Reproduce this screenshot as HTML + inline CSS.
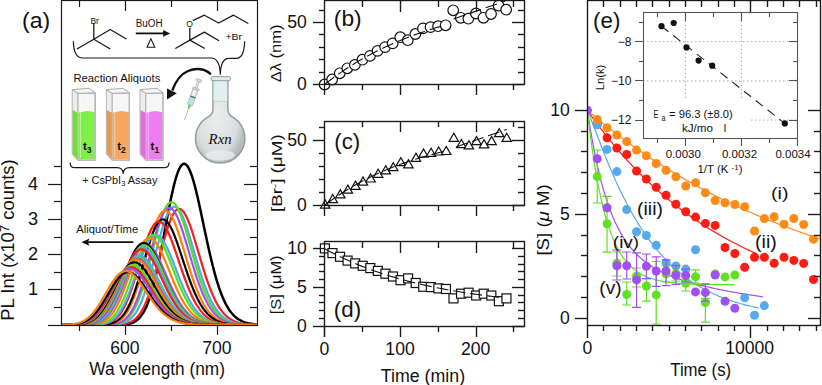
<!DOCTYPE html>
<html><head><meta charset="utf-8"><style>
html,body{margin:0;padding:0;background:#fff;width:822px;height:385px;overflow:hidden}
svg{display:block}
</style></head><body>
<svg width="822" height="385" viewBox="0 0 822 385">
<rect width="822" height="385" fill="#fff"/>
<clipPath id="ca"><rect x="61" y="0" width="196" height="325.6"/></clipPath>
<g clip-path="url(#ca)">
<path d="M55.00,325.00 L56.00,325.00 L57.00,325.00 L58.00,325.00 L59.00,325.00 L60.00,325.00 L61.00,325.00 L62.00,325.00 L63.00,325.00 L64.00,325.00 L65.00,325.00 L66.00,325.00 L67.00,325.00 L68.00,325.00 L69.00,325.00 L70.00,325.00 L71.00,325.00 L72.00,325.00 L73.00,325.00 L74.00,325.00 L75.00,325.00 L76.00,325.00 L77.00,325.00 L78.00,325.00 L79.00,325.00 L80.00,325.00 L81.00,325.00 L82.00,325.00 L83.00,325.00 L84.00,325.00 L85.00,325.00 L86.00,325.00 L87.00,325.00 L88.00,325.00 L89.00,325.00 L90.00,325.00 L91.00,325.00 L92.00,325.00 L93.00,325.00 L94.00,325.00 L95.00,325.00 L96.00,325.00 L97.00,325.00 L98.00,325.00 L99.00,325.00 L100.00,325.00 L101.00,325.00 L102.00,325.00 L103.00,325.00 L104.00,325.00 L105.00,325.00 L106.00,325.00 L107.00,325.00 L108.00,324.99 L109.00,324.99 L110.00,324.99 L111.00,324.98 L112.00,324.98 L113.00,324.97 L114.00,324.96 L115.00,324.95 L116.00,324.94 L117.00,324.92 L118.00,324.90 L119.00,324.87 L120.00,324.83 L121.00,324.79 L122.00,324.73 L123.00,324.67 L124.00,324.58 L125.00,324.48 L126.00,324.36 L127.00,324.21 L128.00,324.04 L129.00,323.82 L130.00,323.57 L131.00,323.27 L132.00,322.92 L133.00,322.51 L134.00,322.04 L135.00,321.48 L136.00,320.84 L137.00,320.11 L138.00,319.26 L139.00,318.31 L140.00,317.22 L141.00,316.00 L142.00,314.63 L143.00,313.09 L144.00,311.39 L145.00,309.50 L146.00,307.42 L147.00,305.13 L148.00,302.64 L149.00,299.93 L150.00,297.00 L151.00,293.85 L152.00,290.46 L153.00,286.85 L154.00,283.02 L155.00,278.96 L156.00,274.70 L157.00,270.23 L158.00,265.58 L159.00,260.75 L160.00,255.77 L161.00,250.65 L162.00,245.43 L163.00,240.12 L164.00,234.75 L165.00,229.36 L166.00,223.98 L167.00,218.63 L168.00,213.36 L169.00,208.19 L170.00,203.16 L171.00,198.31 L172.00,193.66 L173.00,189.25 L174.00,185.12 L175.00,181.28 L176.00,177.77 L177.00,174.62 L178.00,171.83 L179.00,169.44 L180.00,167.46 L181.00,165.90 L182.00,164.76 L183.00,164.06 L184.00,163.79 L185.00,163.95 L186.00,164.54 L187.00,165.55 L188.00,166.96 L189.00,168.77 L190.00,170.95 L191.00,173.48 L192.00,176.35 L193.00,179.52 L194.00,182.97 L195.00,186.68 L196.00,190.61 L197.00,194.75 L198.00,199.05 L199.00,203.50 L200.00,208.06 L201.00,212.71 L202.00,217.41 L203.00,222.16 L204.00,226.91 L205.00,231.65 L206.00,236.35 L207.00,241.00 L208.00,245.57 L209.00,250.05 L210.00,254.43 L211.00,258.69 L212.00,262.83 L213.00,266.82 L214.00,270.67 L215.00,274.36 L216.00,277.90 L217.00,281.27 L218.00,284.48 L219.00,287.53 L220.00,290.41 L221.00,293.14 L222.00,295.70 L223.00,298.10 L224.00,300.36 L225.00,302.46 L226.00,304.43 L227.00,306.25 L228.00,307.94 L229.00,309.51 L230.00,310.96 L231.00,312.29 L232.00,313.52 L233.00,314.64 L234.00,315.67 L235.00,316.62 L236.00,317.48 L237.00,318.26 L238.00,318.97 L239.00,319.61 L240.00,320.19 L241.00,320.72 L242.00,321.19 L243.00,321.62 L244.00,322.00 L245.00,322.35 L246.00,322.66 L247.00,322.93 L248.00,323.18 L249.00,323.40 L250.00,323.59 L251.00,323.76 L252.00,323.92 L253.00,324.05 L254.00,324.17 L255.00,324.28 L256.00,324.37 L257.00,324.45 L258.00,324.52 L259.00,324.59 L260.00,324.64 L261.00,324.69" fill="none" stroke="#000000" stroke-width="2.5" stroke-linejoin="round"/>
<path d="M55.00,325.00 L56.00,325.00 L57.00,325.00 L58.00,325.00 L59.00,325.00 L60.00,325.00 L61.00,325.00 L62.00,325.00 L63.00,325.00 L64.00,325.00 L65.00,325.00 L66.00,325.00 L67.00,325.00 L68.00,325.00 L69.00,325.00 L70.00,325.00 L71.00,325.00 L72.00,325.00 L73.00,325.00 L74.00,325.00 L75.00,325.00 L76.00,325.00 L77.00,325.00 L78.00,325.00 L79.00,325.00 L80.00,325.00 L81.00,325.00 L82.00,325.00 L83.00,325.00 L84.00,325.00 L85.00,325.00 L86.00,325.00 L87.00,325.00 L88.00,325.00 L89.00,325.00 L90.00,325.00 L91.00,325.00 L92.00,325.00 L93.00,325.00 L94.00,325.00 L95.00,325.00 L96.00,325.00 L97.00,325.00 L98.00,325.00 L99.00,325.00 L100.00,325.00 L101.00,325.00 L102.00,325.00 L103.00,325.00 L104.00,324.99 L105.00,324.99 L106.00,324.99 L107.00,324.98 L108.00,324.98 L109.00,324.97 L110.00,324.96 L111.00,324.95 L112.00,324.94 L113.00,324.92 L114.00,324.90 L115.00,324.87 L116.00,324.84 L117.00,324.80 L118.00,324.75 L119.00,324.69 L120.00,324.61 L121.00,324.52 L122.00,324.41 L123.00,324.28 L124.00,324.12 L125.00,323.93 L126.00,323.71 L127.00,323.45 L128.00,323.15 L129.00,322.80 L130.00,322.39 L131.00,321.92 L132.00,321.37 L133.00,320.75 L134.00,320.05 L135.00,319.25 L136.00,318.36 L137.00,317.35 L138.00,316.23 L139.00,314.98 L140.00,313.60 L141.00,312.08 L142.00,310.42 L143.00,308.60 L144.00,306.63 L145.00,304.49 L146.00,302.20 L147.00,299.74 L148.00,297.12 L149.00,294.34 L150.00,291.41 L151.00,288.32 L152.00,285.09 L153.00,281.73 L154.00,278.24 L155.00,274.65 L156.00,270.96 L157.00,267.19 L158.00,263.37 L159.00,259.51 L160.00,255.64 L161.00,251.77 L162.00,247.93 L163.00,244.15 L164.00,240.45 L165.00,236.85 L166.00,233.37 L167.00,230.05 L168.00,226.90 L169.00,223.95 L170.00,221.21 L171.00,218.72 L172.00,216.47 L173.00,214.49 L174.00,212.80 L175.00,211.40 L176.00,210.29 L177.00,209.50 L178.00,209.01 L179.00,208.84 L180.00,208.98 L181.00,209.42 L182.00,210.16 L183.00,211.19 L184.00,212.49 L185.00,214.07 L186.00,215.90 L187.00,217.96 L188.00,220.24 L189.00,222.73 L190.00,225.39 L191.00,228.22 L192.00,231.19 L193.00,234.28 L194.00,237.48 L195.00,240.75 L196.00,244.08 L197.00,247.46 L198.00,250.87 L199.00,254.28 L200.00,257.68 L201.00,261.05 L202.00,264.39 L203.00,267.67 L204.00,270.89 L205.00,274.03 L206.00,277.09 L207.00,280.06 L208.00,282.93 L209.00,285.70 L210.00,288.35 L211.00,290.90 L212.00,293.33 L213.00,295.64 L214.00,297.83 L215.00,299.91 L216.00,301.87 L217.00,303.72 L218.00,305.46 L219.00,307.08 L220.00,308.60 L221.00,310.02 L222.00,311.34 L223.00,312.57 L224.00,313.70 L225.00,314.75 L226.00,315.72 L227.00,316.61 L228.00,317.42 L229.00,318.17 L230.00,318.86 L231.00,319.48 L232.00,320.05 L233.00,320.57 L234.00,321.04 L235.00,321.46 L236.00,321.85 L237.00,322.19 L238.00,322.51 L239.00,322.79 L240.00,323.04 L241.00,323.27 L242.00,323.47 L243.00,323.65 L244.00,323.81 L245.00,323.95 L246.00,324.08 L247.00,324.19 L248.00,324.29 L249.00,324.38 L250.00,324.46 L251.00,324.53 L252.00,324.59 L253.00,324.64 L254.00,324.69 L255.00,324.73 L256.00,324.77 L257.00,324.80 L258.00,324.82 L259.00,324.85 L260.00,324.87 L261.00,324.89" fill="none" stroke="#ff1a1a" stroke-width="2.2" stroke-linejoin="round"/>
<path d="M55.00,325.00 L56.00,325.00 L57.00,325.00 L58.00,325.00 L59.00,325.00 L60.00,325.00 L61.00,325.00 L62.00,325.00 L63.00,325.00 L64.00,325.00 L65.00,325.00 L66.00,325.00 L67.00,325.00 L68.00,325.00 L69.00,325.00 L70.00,325.00 L71.00,325.00 L72.00,325.00 L73.00,325.00 L74.00,325.00 L75.00,325.00 L76.00,325.00 L77.00,325.00 L78.00,325.00 L79.00,325.00 L80.00,325.00 L81.00,325.00 L82.00,325.00 L83.00,325.00 L84.00,325.00 L85.00,325.00 L86.00,325.00 L87.00,325.00 L88.00,325.00 L89.00,325.00 L90.00,325.00 L91.00,325.00 L92.00,325.00 L93.00,325.00 L94.00,325.00 L95.00,325.00 L96.00,325.00 L97.00,325.00 L98.00,325.00 L99.00,324.99 L100.00,324.99 L101.00,324.99 L102.00,324.99 L103.00,324.98 L104.00,324.97 L105.00,324.97 L106.00,324.96 L107.00,324.94 L108.00,324.93 L109.00,324.91 L110.00,324.88 L111.00,324.85 L112.00,324.81 L113.00,324.76 L114.00,324.70 L115.00,324.63 L116.00,324.54 L117.00,324.43 L118.00,324.31 L119.00,324.15 L120.00,323.97 L121.00,323.76 L122.00,323.51 L123.00,323.21 L124.00,322.87 L125.00,322.47 L126.00,322.01 L127.00,321.48 L128.00,320.87 L129.00,320.19 L130.00,319.40 L131.00,318.52 L132.00,317.54 L133.00,316.43 L134.00,315.20 L135.00,313.84 L136.00,312.34 L137.00,310.70 L138.00,308.90 L139.00,306.94 L140.00,304.83 L141.00,302.55 L142.00,300.11 L143.00,297.50 L144.00,294.72 L145.00,291.79 L146.00,288.70 L147.00,285.47 L148.00,282.09 L149.00,278.59 L150.00,274.98 L151.00,271.26 L152.00,267.46 L153.00,263.60 L154.00,259.69 L155.00,255.75 L156.00,251.82 L157.00,247.91 L158.00,244.04 L159.00,240.25 L160.00,236.55 L161.00,232.97 L162.00,229.54 L163.00,226.27 L164.00,223.20 L165.00,220.34 L166.00,217.71 L167.00,215.33 L168.00,213.22 L169.00,211.39 L170.00,209.85 L171.00,208.61 L172.00,207.68 L173.00,207.06 L174.00,206.76 L175.00,206.77 L176.00,207.10 L177.00,207.73 L178.00,208.65 L179.00,209.86 L180.00,211.35 L181.00,213.10 L182.00,215.10 L183.00,217.32 L184.00,219.76 L185.00,222.38 L186.00,225.19 L187.00,228.14 L188.00,231.22 L189.00,234.42 L190.00,237.71 L191.00,241.06 L192.00,244.47 L193.00,247.92 L194.00,251.37 L195.00,254.83 L196.00,258.27 L197.00,261.67 L198.00,265.03 L199.00,268.33 L200.00,271.55 L201.00,274.70 L202.00,277.76 L203.00,280.72 L204.00,283.58 L205.00,286.33 L206.00,288.97 L207.00,291.49 L208.00,293.89 L209.00,296.18 L210.00,298.35 L211.00,300.40 L212.00,302.34 L213.00,304.16 L214.00,305.87 L215.00,307.47 L216.00,308.96 L217.00,310.35 L218.00,311.65 L219.00,312.85 L220.00,313.96 L221.00,314.99 L222.00,315.93 L223.00,316.81 L224.00,317.60 L225.00,318.34 L226.00,319.00 L227.00,319.62 L228.00,320.17 L229.00,320.68 L230.00,321.13 L231.00,321.55 L232.00,321.92 L233.00,322.26 L234.00,322.57 L235.00,322.84 L236.00,323.09 L237.00,323.31 L238.00,323.50 L239.00,323.68 L240.00,323.84 L241.00,323.98 L242.00,324.10 L243.00,324.21 L244.00,324.31 L245.00,324.39 L246.00,324.47 L247.00,324.54 L248.00,324.60 L249.00,324.65 L250.00,324.69 L251.00,324.73 L252.00,324.77 L253.00,324.80 L254.00,324.83 L255.00,324.85 L256.00,324.87 L257.00,324.89 L258.00,324.90 L259.00,324.92 L260.00,324.93 L261.00,324.94" fill="none" stroke="#50a8f0" stroke-width="2.2" stroke-linejoin="round"/>
<path d="M55.00,325.00 L56.00,325.00 L57.00,325.00 L58.00,325.00 L59.00,325.00 L60.00,325.00 L61.00,325.00 L62.00,325.00 L63.00,325.00 L64.00,325.00 L65.00,325.00 L66.00,325.00 L67.00,325.00 L68.00,325.00 L69.00,325.00 L70.00,325.00 L71.00,325.00 L72.00,325.00 L73.00,325.00 L74.00,325.00 L75.00,325.00 L76.00,325.00 L77.00,325.00 L78.00,325.00 L79.00,325.00 L80.00,325.00 L81.00,325.00 L82.00,325.00 L83.00,325.00 L84.00,325.00 L85.00,325.00 L86.00,325.00 L87.00,325.00 L88.00,325.00 L89.00,325.00 L90.00,325.00 L91.00,325.00 L92.00,325.00 L93.00,325.00 L94.00,325.00 L95.00,325.00 L96.00,324.99 L97.00,324.99 L98.00,324.99 L99.00,324.98 L100.00,324.98 L101.00,324.97 L102.00,324.96 L103.00,324.95 L104.00,324.94 L105.00,324.92 L106.00,324.90 L107.00,324.87 L108.00,324.84 L109.00,324.80 L110.00,324.75 L111.00,324.68 L112.00,324.60 L113.00,324.51 L114.00,324.40 L115.00,324.26 L116.00,324.10 L117.00,323.91 L118.00,323.69 L119.00,323.42 L120.00,323.11 L121.00,322.75 L122.00,322.32 L123.00,321.84 L124.00,321.28 L125.00,320.65 L126.00,319.92 L127.00,319.10 L128.00,318.18 L129.00,317.14 L130.00,315.98 L131.00,314.69 L132.00,313.27 L133.00,311.70 L134.00,309.97 L135.00,308.09 L136.00,306.05 L137.00,303.84 L138.00,301.46 L139.00,298.91 L140.00,296.19 L141.00,293.30 L142.00,290.24 L143.00,287.03 L144.00,283.66 L145.00,280.15 L146.00,276.50 L147.00,272.74 L148.00,268.88 L149.00,264.94 L150.00,260.92 L151.00,256.87 L152.00,252.79 L153.00,248.71 L154.00,244.65 L155.00,240.65 L156.00,236.72 L157.00,232.89 L158.00,229.19 L159.00,225.64 L160.00,222.27 L161.00,219.09 L162.00,216.14 L163.00,213.42 L164.00,210.97 L165.00,208.79 L166.00,206.91 L167.00,205.33 L168.00,204.06 L169.00,203.11 L170.00,202.48 L171.00,202.18 L172.00,202.21 L173.00,202.55 L174.00,203.21 L175.00,204.18 L176.00,205.45 L177.00,207.00 L178.00,208.82 L179.00,210.89 L180.00,213.20 L181.00,215.73 L182.00,218.45 L183.00,221.36 L184.00,224.42 L185.00,227.62 L186.00,230.93 L187.00,234.34 L188.00,237.82 L189.00,241.35 L190.00,244.92 L191.00,248.50 L192.00,252.08 L193.00,255.64 L194.00,259.17 L195.00,262.65 L196.00,266.07 L197.00,269.41 L198.00,272.68 L199.00,275.85 L200.00,278.92 L201.00,281.88 L202.00,284.73 L203.00,287.47 L204.00,290.09 L205.00,292.58 L206.00,294.96 L207.00,297.21 L208.00,299.34 L209.00,301.35 L210.00,303.24 L211.00,305.02 L212.00,306.68 L213.00,308.24 L214.00,309.69 L215.00,311.04 L216.00,312.29 L217.00,313.45 L218.00,314.52 L219.00,315.50 L220.00,316.41 L221.00,317.25 L222.00,318.01 L223.00,318.71 L224.00,319.35 L225.00,319.93 L226.00,320.45 L227.00,320.93 L228.00,321.37 L229.00,321.76 L230.00,322.12 L231.00,322.44 L232.00,322.72 L233.00,322.98 L234.00,323.21 L235.00,323.42 L236.00,323.60 L237.00,323.77 L238.00,323.92 L239.00,324.05 L240.00,324.16 L241.00,324.27 L242.00,324.36 L243.00,324.44 L244.00,324.51 L245.00,324.57 L246.00,324.63 L247.00,324.67 L248.00,324.72 L249.00,324.75 L250.00,324.79 L251.00,324.82 L252.00,324.84 L253.00,324.86 L254.00,324.88 L255.00,324.90 L256.00,324.91 L257.00,324.92 L258.00,324.93 L259.00,324.94 L260.00,324.95 L261.00,324.96" fill="none" stroke="#50e020" stroke-width="2.2" stroke-linejoin="round"/>
<path d="M55.00,325.00 L56.00,325.00 L57.00,325.00 L58.00,325.00 L59.00,325.00 L60.00,325.00 L61.00,325.00 L62.00,325.00 L63.00,325.00 L64.00,325.00 L65.00,325.00 L66.00,325.00 L67.00,325.00 L68.00,325.00 L69.00,325.00 L70.00,325.00 L71.00,325.00 L72.00,325.00 L73.00,325.00 L74.00,325.00 L75.00,325.00 L76.00,325.00 L77.00,325.00 L78.00,325.00 L79.00,325.00 L80.00,325.00 L81.00,325.00 L82.00,325.00 L83.00,325.00 L84.00,325.00 L85.00,325.00 L86.00,325.00 L87.00,325.00 L88.00,325.00 L89.00,325.00 L90.00,325.00 L91.00,325.00 L92.00,325.00 L93.00,325.00 L94.00,324.99 L95.00,324.99 L96.00,324.99 L97.00,324.98 L98.00,324.98 L99.00,324.97 L100.00,324.96 L101.00,324.95 L102.00,324.94 L103.00,324.92 L104.00,324.90 L105.00,324.87 L106.00,324.84 L107.00,324.80 L108.00,324.75 L109.00,324.69 L110.00,324.61 L111.00,324.52 L112.00,324.41 L113.00,324.27 L114.00,324.12 L115.00,323.93 L116.00,323.71 L117.00,323.45 L118.00,323.14 L119.00,322.79 L120.00,322.38 L121.00,321.90 L122.00,321.36 L123.00,320.74 L124.00,320.03 L125.00,319.24 L126.00,318.34 L127.00,317.33 L128.00,316.21 L129.00,314.96 L130.00,313.58 L131.00,312.06 L132.00,310.39 L133.00,308.58 L134.00,306.60 L135.00,304.47 L136.00,302.18 L137.00,299.72 L138.00,297.10 L139.00,294.32 L140.00,291.39 L141.00,288.30 L142.00,285.07 L143.00,281.70 L144.00,278.21 L145.00,274.61 L146.00,270.92 L147.00,267.15 L148.00,263.32 L149.00,259.44 L150.00,255.55 L151.00,251.67 L152.00,247.81 L153.00,244.00 L154.00,240.27 L155.00,236.63 L156.00,233.12 L157.00,229.76 L158.00,226.57 L159.00,223.57 L160.00,220.78 L161.00,218.23 L162.00,215.92 L163.00,213.88 L164.00,212.12 L165.00,210.65 L166.00,209.48 L167.00,208.61 L168.00,208.05 L169.00,207.80 L170.00,207.86 L171.00,208.22 L172.00,208.89 L173.00,209.84 L174.00,211.08 L175.00,212.58 L176.00,214.34 L177.00,216.34 L178.00,218.57 L179.00,220.99 L180.00,223.61 L181.00,226.39 L182.00,229.32 L183.00,232.38 L184.00,235.54 L185.00,238.80 L186.00,242.12 L187.00,245.49 L188.00,248.89 L189.00,252.30 L190.00,255.71 L191.00,259.10 L192.00,262.46 L193.00,265.77 L194.00,269.02 L195.00,272.20 L196.00,275.30 L197.00,278.31 L198.00,281.23 L199.00,284.04 L200.00,286.75 L201.00,289.35 L202.00,291.84 L203.00,294.21 L204.00,296.46 L205.00,298.60 L206.00,300.62 L207.00,302.53 L208.00,304.33 L209.00,306.02 L210.00,307.60 L211.00,309.07 L212.00,310.45 L213.00,311.73 L214.00,312.91 L215.00,314.01 L216.00,315.03 L217.00,315.97 L218.00,316.83 L219.00,317.62 L220.00,318.35 L221.00,319.01 L222.00,319.62 L223.00,320.17 L224.00,320.67 L225.00,321.13 L226.00,321.54 L227.00,321.91 L228.00,322.25 L229.00,322.55 L230.00,322.83 L231.00,323.07 L232.00,323.29 L233.00,323.49 L234.00,323.67 L235.00,323.82 L236.00,323.96 L237.00,324.09 L238.00,324.20 L239.00,324.30 L240.00,324.38 L241.00,324.46 L242.00,324.53 L243.00,324.59 L244.00,324.64 L245.00,324.69 L246.00,324.73 L247.00,324.76 L248.00,324.80 L249.00,324.82 L250.00,324.85 L251.00,324.87 L252.00,324.89 L253.00,324.90 L254.00,324.91 L255.00,324.93 L256.00,324.94 L257.00,324.95 L258.00,324.95 L259.00,324.96 L260.00,324.97 L261.00,324.97" fill="none" stroke="#a050f0" stroke-width="2.2" stroke-linejoin="round"/>
<path d="M55.00,325.00 L56.00,325.00 L57.00,325.00 L58.00,325.00 L59.00,325.00 L60.00,325.00 L61.00,325.00 L62.00,325.00 L63.00,325.00 L64.00,325.00 L65.00,325.00 L66.00,325.00 L67.00,325.00 L68.00,325.00 L69.00,325.00 L70.00,325.00 L71.00,325.00 L72.00,325.00 L73.00,325.00 L74.00,325.00 L75.00,325.00 L76.00,325.00 L77.00,325.00 L78.00,325.00 L79.00,325.00 L80.00,325.00 L81.00,325.00 L82.00,325.00 L83.00,325.00 L84.00,325.00 L85.00,325.00 L86.00,325.00 L87.00,325.00 L88.00,325.00 L89.00,324.99 L90.00,324.99 L91.00,324.99 L92.00,324.99 L93.00,324.98 L94.00,324.98 L95.00,324.97 L96.00,324.96 L97.00,324.95 L98.00,324.94 L99.00,324.92 L100.00,324.90 L101.00,324.87 L102.00,324.84 L103.00,324.80 L104.00,324.75 L105.00,324.68 L106.00,324.61 L107.00,324.51 L108.00,324.40 L109.00,324.27 L110.00,324.11 L111.00,323.92 L112.00,323.70 L113.00,323.44 L114.00,323.14 L115.00,322.79 L116.00,322.38 L117.00,321.91 L118.00,321.37 L119.00,320.75 L120.00,320.05 L121.00,319.26 L122.00,318.37 L123.00,317.38 L124.00,316.27 L125.00,315.03 L126.00,313.67 L127.00,312.17 L128.00,310.53 L129.00,308.74 L130.00,306.80 L131.00,304.71 L132.00,302.45 L133.00,300.04 L134.00,297.47 L135.00,294.74 L136.00,291.87 L137.00,288.84 L138.00,285.68 L139.00,282.39 L140.00,278.97 L141.00,275.46 L142.00,271.85 L143.00,268.17 L144.00,264.43 L145.00,260.66 L146.00,256.87 L147.00,253.09 L148.00,249.33 L149.00,245.63 L150.00,242.00 L151.00,238.47 L152.00,235.06 L153.00,231.80 L154.00,228.71 L155.00,225.80 L156.00,223.10 L157.00,220.63 L158.00,218.40 L159.00,216.43 L160.00,214.74 L161.00,213.32 L162.00,212.20 L163.00,211.37 L164.00,210.84 L165.00,210.61 L166.00,210.68 L167.00,211.05 L168.00,211.71 L169.00,212.65 L170.00,213.86 L171.00,215.33 L172.00,217.05 L173.00,219.01 L174.00,221.18 L175.00,223.54 L176.00,226.09 L177.00,228.80 L178.00,231.65 L179.00,234.63 L180.00,237.71 L181.00,240.88 L182.00,244.11 L183.00,247.38 L184.00,250.69 L185.00,254.01 L186.00,257.33 L187.00,260.63 L188.00,263.89 L189.00,267.11 L190.00,270.28 L191.00,273.37 L192.00,276.39 L193.00,279.33 L194.00,282.17 L195.00,284.91 L196.00,287.55 L197.00,290.08 L198.00,292.50 L199.00,294.82 L200.00,297.01 L201.00,299.10 L202.00,301.08 L203.00,302.94 L204.00,304.69 L205.00,306.34 L206.00,307.89 L207.00,309.33 L208.00,310.68 L209.00,311.93 L210.00,313.09 L211.00,314.17 L212.00,315.17 L213.00,316.08 L214.00,316.93 L215.00,317.71 L216.00,318.42 L217.00,319.07 L218.00,319.67 L219.00,320.21 L220.00,320.71 L221.00,321.16 L222.00,321.56 L223.00,321.93 L224.00,322.27 L225.00,322.57 L226.00,322.84 L227.00,323.08 L228.00,323.30 L229.00,323.49 L230.00,323.67 L231.00,323.82 L232.00,323.96 L233.00,324.09 L234.00,324.20 L235.00,324.30 L236.00,324.38 L237.00,324.46 L238.00,324.53 L239.00,324.59 L240.00,324.64 L241.00,324.69 L242.00,324.73 L243.00,324.76 L244.00,324.79 L245.00,324.82 L246.00,324.84 L247.00,324.87 L248.00,324.88 L249.00,324.90 L250.00,324.91 L251.00,324.93 L252.00,324.94 L253.00,324.94 L254.00,324.95 L255.00,324.96 L256.00,324.97 L257.00,324.97 L258.00,324.97 L259.00,324.98 L260.00,324.98 L261.00,324.98" fill="none" stroke="#ff8000" stroke-width="2.2" stroke-linejoin="round"/>
<path d="M55.00,325.00 L56.00,325.00 L57.00,325.00 L58.00,325.00 L59.00,325.00 L60.00,325.00 L61.00,325.00 L62.00,325.00 L63.00,325.00 L64.00,325.00 L65.00,325.00 L66.00,325.00 L67.00,325.00 L68.00,325.00 L69.00,325.00 L70.00,325.00 L71.00,325.00 L72.00,325.00 L73.00,325.00 L74.00,325.00 L75.00,325.00 L76.00,325.00 L77.00,325.00 L78.00,325.00 L79.00,325.00 L80.00,325.00 L81.00,325.00 L82.00,325.00 L83.00,325.00 L84.00,325.00 L85.00,325.00 L86.00,325.00 L87.00,324.99 L88.00,324.99 L89.00,324.99 L90.00,324.99 L91.00,324.98 L92.00,324.98 L93.00,324.97 L94.00,324.96 L95.00,324.95 L96.00,324.94 L97.00,324.92 L98.00,324.90 L99.00,324.87 L100.00,324.84 L101.00,324.80 L102.00,324.75 L103.00,324.68 L104.00,324.61 L105.00,324.52 L106.00,324.41 L107.00,324.28 L108.00,324.12 L109.00,323.94 L110.00,323.72 L111.00,323.47 L112.00,323.17 L113.00,322.83 L114.00,322.43 L115.00,321.98 L116.00,321.46 L117.00,320.86 L118.00,320.19 L119.00,319.43 L120.00,318.58 L121.00,317.62 L122.00,316.56 L123.00,315.38 L124.00,314.08 L125.00,312.65 L126.00,311.10 L127.00,309.40 L128.00,307.56 L129.00,305.58 L130.00,303.45 L131.00,301.17 L132.00,298.76 L133.00,296.19 L134.00,293.49 L135.00,290.66 L136.00,287.70 L137.00,284.63 L138.00,281.45 L139.00,278.18 L140.00,274.83 L141.00,271.41 L142.00,267.96 L143.00,264.47 L144.00,260.97 L145.00,257.49 L146.00,254.04 L147.00,250.65 L148.00,247.33 L149.00,244.11 L150.00,241.01 L151.00,238.05 L152.00,235.25 L153.00,232.63 L154.00,230.20 L155.00,227.99 L156.00,226.01 L157.00,224.28 L158.00,222.79 L159.00,221.57 L160.00,220.61 L161.00,219.93 L162.00,219.53 L163.00,219.40 L164.00,219.55 L165.00,219.97 L166.00,220.65 L167.00,221.59 L168.00,222.78 L169.00,224.21 L170.00,225.86 L171.00,227.72 L172.00,229.77 L173.00,232.00 L174.00,234.39 L175.00,236.93 L176.00,239.59 L177.00,242.36 L178.00,245.22 L179.00,248.16 L180.00,251.15 L181.00,254.18 L182.00,257.23 L183.00,260.29 L184.00,263.34 L185.00,266.38 L186.00,269.37 L187.00,272.33 L188.00,275.23 L189.00,278.06 L190.00,280.82 L191.00,283.51 L192.00,286.10 L193.00,288.60 L194.00,291.01 L195.00,293.32 L196.00,295.53 L197.00,297.63 L198.00,299.63 L199.00,301.53 L200.00,303.32 L201.00,305.02 L202.00,306.61 L203.00,308.11 L204.00,309.51 L205.00,310.82 L206.00,312.04 L207.00,313.17 L208.00,314.23 L209.00,315.20 L210.00,316.11 L211.00,316.94 L212.00,317.70 L213.00,318.41 L214.00,319.05 L215.00,319.64 L216.00,320.18 L217.00,320.67 L218.00,321.12 L219.00,321.53 L220.00,321.89 L221.00,322.23 L222.00,322.53 L223.00,322.80 L224.00,323.04 L225.00,323.26 L226.00,323.46 L227.00,323.64 L228.00,323.80 L229.00,323.94 L230.00,324.06 L231.00,324.17 L232.00,324.27 L233.00,324.36 L234.00,324.44 L235.00,324.51 L236.00,324.57 L237.00,324.63 L238.00,324.67 L239.00,324.71 L240.00,324.75 L241.00,324.78 L242.00,324.81 L243.00,324.84 L244.00,324.86 L245.00,324.88 L246.00,324.89 L247.00,324.91 L248.00,324.92 L249.00,324.93 L250.00,324.94 L251.00,324.95 L252.00,324.96 L253.00,324.96 L254.00,324.97 L255.00,324.97 L256.00,324.98 L257.00,324.98 L258.00,324.98 L259.00,324.99 L260.00,324.99 L261.00,324.99" fill="none" stroke="#000000" stroke-width="2.2" stroke-linejoin="round"/>
<path d="M55.00,325.00 L56.00,325.00 L57.00,325.00 L58.00,325.00 L59.00,325.00 L60.00,325.00 L61.00,325.00 L62.00,325.00 L63.00,325.00 L64.00,325.00 L65.00,325.00 L66.00,325.00 L67.00,325.00 L68.00,325.00 L69.00,325.00 L70.00,325.00 L71.00,325.00 L72.00,325.00 L73.00,325.00 L74.00,325.00 L75.00,325.00 L76.00,325.00 L77.00,325.00 L78.00,325.00 L79.00,325.00 L80.00,325.00 L81.00,325.00 L82.00,325.00 L83.00,324.99 L84.00,324.99 L85.00,324.99 L86.00,324.99 L87.00,324.98 L88.00,324.98 L89.00,324.97 L90.00,324.96 L91.00,324.95 L92.00,324.94 L93.00,324.92 L94.00,324.89 L95.00,324.87 L96.00,324.83 L97.00,324.79 L98.00,324.74 L99.00,324.67 L100.00,324.60 L101.00,324.50 L102.00,324.39 L103.00,324.26 L104.00,324.10 L105.00,323.91 L106.00,323.69 L107.00,323.44 L108.00,323.14 L109.00,322.79 L110.00,322.39 L111.00,321.93 L112.00,321.40 L113.00,320.80 L114.00,320.12 L115.00,319.36 L116.00,318.50 L117.00,317.55 L118.00,316.48 L119.00,315.30 L120.00,314.00 L121.00,312.58 L122.00,311.03 L123.00,309.34 L124.00,307.51 L125.00,305.54 L126.00,303.42 L127.00,301.17 L128.00,298.77 L129.00,296.24 L130.00,293.57 L131.00,290.77 L132.00,287.85 L133.00,284.83 L134.00,281.70 L135.00,278.48 L136.00,275.19 L137.00,271.84 L138.00,268.45 L139.00,265.04 L140.00,261.62 L141.00,258.22 L142.00,254.86 L143.00,251.55 L144.00,248.32 L145.00,245.19 L146.00,242.18 L147.00,239.31 L148.00,236.60 L149.00,234.07 L150.00,231.73 L151.00,229.61 L152.00,227.71 L153.00,226.05 L154.00,224.63 L155.00,223.48 L156.00,222.58 L157.00,221.96 L158.00,221.60 L159.00,221.52 L160.00,221.70 L161.00,222.14 L162.00,222.85 L163.00,223.80 L164.00,224.99 L165.00,226.41 L166.00,228.05 L167.00,229.89 L168.00,231.91 L169.00,234.11 L170.00,236.47 L171.00,238.96 L172.00,241.57 L173.00,244.29 L174.00,247.09 L175.00,249.96 L176.00,252.89 L177.00,255.85 L178.00,258.83 L179.00,261.82 L180.00,264.80 L181.00,267.76 L182.00,270.69 L183.00,273.57 L184.00,276.40 L185.00,279.16 L186.00,281.85 L187.00,284.47 L188.00,287.00 L189.00,289.44 L190.00,291.78 L191.00,294.03 L192.00,296.19 L193.00,298.24 L194.00,300.19 L195.00,302.04 L196.00,303.79 L197.00,305.44 L198.00,306.99 L199.00,308.45 L200.00,309.82 L201.00,311.10 L202.00,312.29 L203.00,313.40 L204.00,314.43 L205.00,315.38 L206.00,316.26 L207.00,317.08 L208.00,317.83 L209.00,318.52 L210.00,319.15 L211.00,319.72 L212.00,320.25 L213.00,320.73 L214.00,321.17 L215.00,321.57 L216.00,321.93 L217.00,322.26 L218.00,322.56 L219.00,322.82 L220.00,323.06 L221.00,323.28 L222.00,323.47 L223.00,323.65 L224.00,323.80 L225.00,323.94 L226.00,324.07 L227.00,324.18 L228.00,324.28 L229.00,324.36 L230.00,324.44 L231.00,324.51 L232.00,324.57 L233.00,324.63 L234.00,324.67 L235.00,324.71 L236.00,324.75 L237.00,324.78 L238.00,324.81 L239.00,324.84 L240.00,324.86 L241.00,324.88 L242.00,324.89 L243.00,324.91 L244.00,324.92 L245.00,324.93 L246.00,324.94 L247.00,324.95 L248.00,324.96 L249.00,324.96 L250.00,324.97 L251.00,324.97 L252.00,324.98 L253.00,324.98 L254.00,324.98 L255.00,324.99 L256.00,324.99 L257.00,324.99 L258.00,324.99 L259.00,324.99 L260.00,324.99 L261.00,324.99" fill="none" stroke="#ff1a1a" stroke-width="2.2" stroke-linejoin="round"/>
<path d="M55.00,325.00 L56.00,325.00 L57.00,325.00 L58.00,325.00 L59.00,325.00 L60.00,325.00 L61.00,325.00 L62.00,325.00 L63.00,325.00 L64.00,325.00 L65.00,325.00 L66.00,325.00 L67.00,325.00 L68.00,325.00 L69.00,325.00 L70.00,325.00 L71.00,325.00 L72.00,325.00 L73.00,325.00 L74.00,325.00 L75.00,325.00 L76.00,325.00 L77.00,325.00 L78.00,325.00 L79.00,325.00 L80.00,325.00 L81.00,324.99 L82.00,324.99 L83.00,324.99 L84.00,324.99 L85.00,324.98 L86.00,324.98 L87.00,324.97 L88.00,324.96 L89.00,324.95 L90.00,324.93 L91.00,324.91 L92.00,324.89 L93.00,324.86 L94.00,324.82 L95.00,324.78 L96.00,324.73 L97.00,324.66 L98.00,324.58 L99.00,324.49 L100.00,324.38 L101.00,324.25 L102.00,324.09 L103.00,323.90 L104.00,323.69 L105.00,323.43 L106.00,323.14 L107.00,322.80 L108.00,322.41 L109.00,321.97 L110.00,321.46 L111.00,320.88 L112.00,320.24 L113.00,319.51 L114.00,318.69 L115.00,317.79 L116.00,316.79 L117.00,315.68 L118.00,314.47 L119.00,313.14 L120.00,311.70 L121.00,310.14 L122.00,308.46 L123.00,306.65 L124.00,304.72 L125.00,302.67 L126.00,300.49 L127.00,298.20 L128.00,295.80 L129.00,293.30 L130.00,290.69 L131.00,288.00 L132.00,285.23 L133.00,282.39 L134.00,279.50 L135.00,276.57 L136.00,273.61 L137.00,270.65 L138.00,267.70 L139.00,264.78 L140.00,261.90 L141.00,259.09 L142.00,256.36 L143.00,253.73 L144.00,251.21 L145.00,248.84 L146.00,246.61 L147.00,244.55 L148.00,242.66 L149.00,240.97 L150.00,239.49 L151.00,238.21 L152.00,237.16 L153.00,236.33 L154.00,235.73 L155.00,235.37 L156.00,235.24 L157.00,235.34 L158.00,235.67 L159.00,236.23 L160.00,237.00 L161.00,237.98 L162.00,239.16 L163.00,240.53 L164.00,242.08 L165.00,243.80 L166.00,245.66 L167.00,247.67 L168.00,249.79 L169.00,252.03 L170.00,254.36 L171.00,256.77 L172.00,259.24 L173.00,261.76 L174.00,264.31 L175.00,266.89 L176.00,269.48 L177.00,272.06 L178.00,274.63 L179.00,277.17 L180.00,279.67 L181.00,282.14 L182.00,284.54 L183.00,286.89 L184.00,289.18 L185.00,291.39 L186.00,293.52 L187.00,295.58 L188.00,297.55 L189.00,299.44 L190.00,301.24 L191.00,302.95 L192.00,304.58 L193.00,306.12 L194.00,307.58 L195.00,308.95 L196.00,310.24 L197.00,311.45 L198.00,312.58 L199.00,313.64 L200.00,314.62 L201.00,315.53 L202.00,316.38 L203.00,317.16 L204.00,317.89 L205.00,318.55 L206.00,319.17 L207.00,319.73 L208.00,320.25 L209.00,320.72 L210.00,321.15 L211.00,321.54 L212.00,321.90 L213.00,322.23 L214.00,322.52 L215.00,322.78 L216.00,323.03 L217.00,323.24 L218.00,323.44 L219.00,323.61 L220.00,323.77 L221.00,323.91 L222.00,324.04 L223.00,324.15 L224.00,324.25 L225.00,324.34 L226.00,324.42 L227.00,324.49 L228.00,324.55 L229.00,324.61 L230.00,324.66 L231.00,324.70 L232.00,324.74 L233.00,324.77 L234.00,324.80 L235.00,324.83 L236.00,324.85 L237.00,324.87 L238.00,324.89 L239.00,324.90 L240.00,324.91 L241.00,324.93 L242.00,324.94 L243.00,324.94 L244.00,324.95 L245.00,324.96 L246.00,324.96 L247.00,324.97 L248.00,324.97 L249.00,324.98 L250.00,324.98 L251.00,324.98 L252.00,324.99 L253.00,324.99 L254.00,324.99 L255.00,324.99 L256.00,324.99 L257.00,324.99 L258.00,324.99 L259.00,325.00 L260.00,325.00 L261.00,325.00" fill="none" stroke="#50a8f0" stroke-width="2.2" stroke-linejoin="round"/>
<path d="M55.00,325.00 L56.00,325.00 L57.00,325.00 L58.00,325.00 L59.00,325.00 L60.00,325.00 L61.00,325.00 L62.00,325.00 L63.00,325.00 L64.00,325.00 L65.00,325.00 L66.00,325.00 L67.00,325.00 L68.00,325.00 L69.00,325.00 L70.00,325.00 L71.00,325.00 L72.00,325.00 L73.00,325.00 L74.00,325.00 L75.00,325.00 L76.00,325.00 L77.00,325.00 L78.00,324.99 L79.00,324.99 L80.00,324.99 L81.00,324.99 L82.00,324.98 L83.00,324.98 L84.00,324.97 L85.00,324.96 L86.00,324.95 L87.00,324.93 L88.00,324.91 L89.00,324.89 L90.00,324.86 L91.00,324.82 L92.00,324.78 L93.00,324.72 L94.00,324.66 L95.00,324.58 L96.00,324.49 L97.00,324.37 L98.00,324.24 L99.00,324.08 L100.00,323.90 L101.00,323.68 L102.00,323.42 L103.00,323.13 L104.00,322.79 L105.00,322.40 L106.00,321.95 L107.00,321.44 L108.00,320.86 L109.00,320.21 L110.00,319.48 L111.00,318.67 L112.00,317.76 L113.00,316.75 L114.00,315.65 L115.00,314.43 L116.00,313.10 L117.00,311.65 L118.00,310.09 L119.00,308.40 L120.00,306.59 L121.00,304.65 L122.00,302.60 L123.00,300.42 L124.00,298.13 L125.00,295.72 L126.00,293.21 L127.00,290.60 L128.00,287.90 L129.00,285.12 L130.00,282.27 L131.00,279.38 L132.00,276.44 L133.00,273.48 L134.00,270.51 L135.00,267.55 L136.00,264.62 L137.00,261.74 L138.00,258.92 L139.00,256.18 L140.00,253.53 L141.00,251.01 L142.00,248.62 L143.00,246.38 L144.00,244.31 L145.00,242.41 L146.00,240.71 L147.00,239.21 L148.00,237.93 L149.00,236.86 L150.00,236.02 L151.00,235.41 L152.00,235.03 L153.00,234.89 L154.00,234.98 L155.00,235.30 L156.00,235.84 L157.00,236.60 L158.00,237.57 L159.00,238.74 L160.00,240.10 L161.00,241.64 L162.00,243.35 L163.00,245.20 L164.00,247.20 L165.00,249.32 L166.00,251.55 L167.00,253.88 L168.00,256.28 L169.00,258.76 L170.00,261.28 L171.00,263.83 L172.00,266.41 L173.00,269.00 L174.00,271.59 L175.00,274.16 L176.00,276.71 L177.00,279.23 L178.00,281.70 L179.00,284.12 L180.00,286.47 L181.00,288.77 L182.00,290.99 L183.00,293.14 L184.00,295.21 L185.00,297.19 L186.00,299.09 L187.00,300.91 L188.00,302.64 L189.00,304.28 L190.00,305.84 L191.00,307.30 L192.00,308.69 L193.00,309.99 L194.00,311.22 L195.00,312.36 L196.00,313.43 L197.00,314.42 L198.00,315.35 L199.00,316.21 L200.00,317.00 L201.00,317.74 L202.00,318.41 L203.00,319.04 L204.00,319.61 L205.00,320.14 L206.00,320.62 L207.00,321.06 L208.00,321.46 L209.00,321.82 L210.00,322.15 L211.00,322.45 L212.00,322.72 L213.00,322.97 L214.00,323.19 L215.00,323.39 L216.00,323.57 L217.00,323.73 L218.00,323.87 L219.00,324.00 L220.00,324.12 L221.00,324.22 L222.00,324.31 L223.00,324.40 L224.00,324.47 L225.00,324.53 L226.00,324.59 L227.00,324.64 L228.00,324.69 L229.00,324.73 L230.00,324.76 L231.00,324.79 L232.00,324.82 L233.00,324.84 L234.00,324.86 L235.00,324.88 L236.00,324.90 L237.00,324.91 L238.00,324.92 L239.00,324.93 L240.00,324.94 L241.00,324.95 L242.00,324.96 L243.00,324.96 L244.00,324.97 L245.00,324.97 L246.00,324.98 L247.00,324.98 L248.00,324.98 L249.00,324.99 L250.00,324.99 L251.00,324.99 L252.00,324.99 L253.00,324.99 L254.00,324.99 L255.00,324.99 L256.00,325.00 L257.00,325.00 L258.00,325.00 L259.00,325.00 L260.00,325.00 L261.00,325.00" fill="none" stroke="#50e020" stroke-width="2.2" stroke-linejoin="round"/>
<path d="M55.00,325.00 L56.00,325.00 L57.00,325.00 L58.00,325.00 L59.00,325.00 L60.00,325.00 L61.00,325.00 L62.00,325.00 L63.00,325.00 L64.00,325.00 L65.00,325.00 L66.00,325.00 L67.00,325.00 L68.00,325.00 L69.00,325.00 L70.00,325.00 L71.00,325.00 L72.00,325.00 L73.00,325.00 L74.00,324.99 L75.00,324.99 L76.00,324.99 L77.00,324.99 L78.00,324.98 L79.00,324.98 L80.00,324.97 L81.00,324.96 L82.00,324.95 L83.00,324.94 L84.00,324.92 L85.00,324.90 L86.00,324.87 L87.00,324.83 L88.00,324.79 L89.00,324.74 L90.00,324.68 L91.00,324.61 L92.00,324.52 L93.00,324.41 L94.00,324.29 L95.00,324.14 L96.00,323.96 L97.00,323.76 L98.00,323.52 L99.00,323.24 L100.00,322.92 L101.00,322.55 L102.00,322.13 L103.00,321.64 L104.00,321.10 L105.00,320.48 L106.00,319.79 L107.00,319.02 L108.00,318.16 L109.00,317.20 L110.00,316.15 L111.00,314.99 L112.00,313.73 L113.00,312.35 L114.00,310.86 L115.00,309.26 L116.00,307.53 L117.00,305.69 L118.00,303.73 L119.00,301.65 L120.00,299.45 L121.00,297.15 L122.00,294.75 L123.00,292.25 L124.00,289.67 L125.00,287.00 L126.00,284.27 L127.00,281.49 L128.00,278.67 L129.00,275.82 L130.00,272.96 L131.00,270.11 L132.00,267.28 L133.00,264.49 L134.00,261.76 L135.00,259.11 L136.00,256.54 L137.00,254.09 L138.00,251.76 L139.00,249.58 L140.00,247.55 L141.00,245.68 L142.00,244.01 L143.00,242.52 L144.00,241.24 L145.00,240.16 L146.00,239.31 L147.00,238.67 L148.00,238.26 L149.00,238.07 L150.00,238.10 L151.00,238.36 L152.00,238.83 L153.00,239.51 L154.00,240.40 L155.00,241.48 L156.00,242.75 L157.00,244.19 L158.00,245.79 L159.00,247.54 L160.00,249.43 L161.00,251.44 L162.00,253.56 L163.00,255.78 L164.00,258.07 L165.00,260.44 L166.00,262.85 L167.00,265.30 L168.00,267.78 L169.00,270.27 L170.00,272.76 L171.00,275.24 L172.00,277.70 L173.00,280.13 L174.00,282.52 L175.00,284.86 L176.00,287.14 L177.00,289.37 L178.00,291.53 L179.00,293.62 L180.00,295.63 L181.00,297.56 L182.00,299.42 L183.00,301.19 L184.00,302.88 L185.00,304.49 L186.00,306.01 L187.00,307.45 L188.00,308.81 L189.00,310.09 L190.00,311.29 L191.00,312.42 L192.00,313.47 L193.00,314.45 L194.00,315.37 L195.00,316.22 L196.00,317.00 L197.00,317.73 L198.00,318.40 L199.00,319.02 L200.00,319.59 L201.00,320.11 L202.00,320.59 L203.00,321.03 L204.00,321.43 L205.00,321.79 L206.00,322.12 L207.00,322.42 L208.00,322.69 L209.00,322.94 L210.00,323.16 L211.00,323.36 L212.00,323.55 L213.00,323.71 L214.00,323.85 L215.00,323.98 L216.00,324.10 L217.00,324.21 L218.00,324.30 L219.00,324.38 L220.00,324.46 L221.00,324.52 L222.00,324.58 L223.00,324.63 L224.00,324.68 L225.00,324.72 L226.00,324.75 L227.00,324.78 L228.00,324.81 L229.00,324.84 L230.00,324.86 L231.00,324.88 L232.00,324.89 L233.00,324.91 L234.00,324.92 L235.00,324.93 L236.00,324.94 L237.00,324.95 L238.00,324.95 L239.00,324.96 L240.00,324.97 L241.00,324.97 L242.00,324.98 L243.00,324.98 L244.00,324.98 L245.00,324.98 L246.00,324.99 L247.00,324.99 L248.00,324.99 L249.00,324.99 L250.00,324.99 L251.00,324.99 L252.00,324.99 L253.00,325.00 L254.00,325.00 L255.00,325.00 L256.00,325.00 L257.00,325.00 L258.00,325.00 L259.00,325.00 L260.00,325.00 L261.00,325.00" fill="none" stroke="#ff8000" stroke-width="2.2" stroke-linejoin="round"/>
<path d="M55.00,325.00 L56.00,325.00 L57.00,325.00 L58.00,325.00 L59.00,325.00 L60.00,325.00 L61.00,325.00 L62.00,325.00 L63.00,325.00 L64.00,325.00 L65.00,325.00 L66.00,325.00 L67.00,325.00 L68.00,325.00 L69.00,325.00 L70.00,325.00 L71.00,324.99 L72.00,324.99 L73.00,324.99 L74.00,324.99 L75.00,324.98 L76.00,324.98 L77.00,324.97 L78.00,324.96 L79.00,324.95 L80.00,324.93 L81.00,324.91 L82.00,324.89 L83.00,324.86 L84.00,324.83 L85.00,324.79 L86.00,324.73 L87.00,324.67 L88.00,324.60 L89.00,324.51 L90.00,324.40 L91.00,324.27 L92.00,324.12 L93.00,323.95 L94.00,323.74 L95.00,323.50 L96.00,323.22 L97.00,322.90 L98.00,322.54 L99.00,322.12 L100.00,321.64 L101.00,321.10 L102.00,320.50 L103.00,319.82 L104.00,319.06 L105.00,318.22 L106.00,317.29 L107.00,316.27 L108.00,315.15 L109.00,313.92 L110.00,312.59 L111.00,311.16 L112.00,309.61 L113.00,307.96 L114.00,306.19 L115.00,304.32 L116.00,302.33 L117.00,300.25 L118.00,298.07 L119.00,295.79 L120.00,293.43 L121.00,290.99 L122.00,288.49 L123.00,285.92 L124.00,283.32 L125.00,280.68 L126.00,278.03 L127.00,275.37 L128.00,272.73 L129.00,270.11 L130.00,267.54 L131.00,265.03 L132.00,262.60 L133.00,260.26 L134.00,258.03 L135.00,255.92 L136.00,253.95 L137.00,252.12 L138.00,250.47 L139.00,248.98 L140.00,247.68 L141.00,246.56 L142.00,245.65 L143.00,244.94 L144.00,244.43 L145.00,244.13 L146.00,244.04 L147.00,244.16 L148.00,244.47 L149.00,244.99 L150.00,245.70 L151.00,246.60 L152.00,247.67 L153.00,248.91 L154.00,250.31 L155.00,251.85 L156.00,253.53 L157.00,255.33 L158.00,257.24 L159.00,259.24 L160.00,261.33 L161.00,263.48 L162.00,265.70 L163.00,267.95 L164.00,270.24 L165.00,272.54 L166.00,274.86 L167.00,277.17 L168.00,279.47 L169.00,281.74 L170.00,283.98 L171.00,286.19 L172.00,288.35 L173.00,290.45 L174.00,292.50 L175.00,294.48 L176.00,296.40 L177.00,298.24 L178.00,300.01 L179.00,301.71 L180.00,303.33 L181.00,304.88 L182.00,306.34 L183.00,307.73 L184.00,309.05 L185.00,310.29 L186.00,311.45 L187.00,312.55 L188.00,313.57 L189.00,314.53 L190.00,315.42 L191.00,316.26 L192.00,317.03 L193.00,317.74 L194.00,318.40 L195.00,319.01 L196.00,319.57 L197.00,320.09 L198.00,320.57 L199.00,321.00 L200.00,321.40 L201.00,321.76 L202.00,322.09 L203.00,322.39 L204.00,322.66 L205.00,322.91 L206.00,323.13 L207.00,323.33 L208.00,323.51 L209.00,323.68 L210.00,323.83 L211.00,323.96 L212.00,324.08 L213.00,324.18 L214.00,324.28 L215.00,324.36 L216.00,324.44 L217.00,324.50 L218.00,324.56 L219.00,324.62 L220.00,324.66 L221.00,324.71 L222.00,324.74 L223.00,324.77 L224.00,324.80 L225.00,324.83 L226.00,324.85 L227.00,324.87 L228.00,324.89 L229.00,324.90 L230.00,324.91 L231.00,324.93 L232.00,324.94 L233.00,324.94 L234.00,324.95 L235.00,324.96 L236.00,324.96 L237.00,324.97 L238.00,324.97 L239.00,324.98 L240.00,324.98 L241.00,324.98 L242.00,324.99 L243.00,324.99 L244.00,324.99 L245.00,324.99 L246.00,324.99 L247.00,324.99 L248.00,324.99 L249.00,325.00 L250.00,325.00 L251.00,325.00 L252.00,325.00 L253.00,325.00 L254.00,325.00 L255.00,325.00 L256.00,325.00 L257.00,325.00 L258.00,325.00 L259.00,325.00 L260.00,325.00 L261.00,325.00" fill="none" stroke="#a050f0" stroke-width="2.2" stroke-linejoin="round"/>
<path d="M55.00,325.00 L56.00,325.00 L57.00,325.00 L58.00,325.00 L59.00,325.00 L60.00,325.00 L61.00,325.00 L62.00,325.00 L63.00,325.00 L64.00,325.00 L65.00,325.00 L66.00,325.00 L67.00,325.00 L68.00,324.99 L69.00,324.99 L70.00,324.99 L71.00,324.99 L72.00,324.98 L73.00,324.98 L74.00,324.97 L75.00,324.96 L76.00,324.95 L77.00,324.94 L78.00,324.93 L79.00,324.90 L80.00,324.88 L81.00,324.85 L82.00,324.81 L83.00,324.77 L84.00,324.71 L85.00,324.64 L86.00,324.56 L87.00,324.46 L88.00,324.35 L89.00,324.21 L90.00,324.05 L91.00,323.86 L92.00,323.64 L93.00,323.39 L94.00,323.09 L95.00,322.75 L96.00,322.36 L97.00,321.92 L98.00,321.42 L99.00,320.85 L100.00,320.21 L101.00,319.50 L102.00,318.70 L103.00,317.82 L104.00,316.84 L105.00,315.78 L106.00,314.61 L107.00,313.33 L108.00,311.95 L109.00,310.46 L110.00,308.86 L111.00,307.14 L112.00,305.32 L113.00,303.38 L114.00,301.34 L115.00,299.20 L116.00,296.96 L117.00,294.62 L118.00,292.21 L119.00,289.72 L120.00,287.16 L121.00,284.55 L122.00,281.90 L123.00,279.23 L124.00,276.54 L125.00,273.86 L126.00,271.19 L127.00,268.55 L128.00,265.97 L129.00,263.45 L130.00,261.02 L131.00,258.69 L132.00,256.46 L133.00,254.37 L134.00,252.42 L135.00,250.63 L136.00,249.01 L137.00,247.56 L138.00,246.30 L139.00,245.24 L140.00,244.37 L141.00,243.71 L142.00,243.27 L143.00,243.03 L144.00,243.00 L145.00,243.18 L146.00,243.56 L147.00,244.14 L148.00,244.91 L149.00,245.87 L150.00,247.01 L151.00,248.31 L152.00,249.77 L153.00,251.37 L154.00,253.10 L155.00,254.95 L156.00,256.91 L157.00,258.96 L158.00,261.09 L159.00,263.29 L160.00,265.54 L161.00,267.83 L162.00,270.15 L163.00,272.49 L164.00,274.83 L165.00,277.16 L166.00,279.48 L167.00,281.77 L168.00,284.03 L169.00,286.25 L170.00,288.42 L171.00,290.53 L172.00,292.58 L173.00,294.57 L174.00,296.49 L175.00,298.34 L176.00,300.11 L177.00,301.81 L178.00,303.43 L179.00,304.97 L180.00,306.44 L181.00,307.82 L182.00,309.13 L183.00,310.37 L184.00,311.53 L185.00,312.62 L186.00,313.64 L187.00,314.60 L188.00,315.49 L189.00,316.31 L190.00,317.08 L191.00,317.79 L192.00,318.45 L193.00,319.05 L194.00,319.61 L195.00,320.13 L196.00,320.60 L197.00,321.03 L198.00,321.42 L199.00,321.78 L200.00,322.11 L201.00,322.41 L202.00,322.68 L203.00,322.92 L204.00,323.14 L205.00,323.34 L206.00,323.52 L207.00,323.69 L208.00,323.83 L209.00,323.96 L210.00,324.08 L211.00,324.19 L212.00,324.28 L213.00,324.37 L214.00,324.44 L215.00,324.51 L216.00,324.57 L217.00,324.62 L218.00,324.67 L219.00,324.71 L220.00,324.74 L221.00,324.78 L222.00,324.80 L223.00,324.83 L224.00,324.85 L225.00,324.87 L226.00,324.89 L227.00,324.90 L228.00,324.91 L229.00,324.93 L230.00,324.94 L231.00,324.94 L232.00,324.95 L233.00,324.96 L234.00,324.96 L235.00,324.97 L236.00,324.97 L237.00,324.98 L238.00,324.98 L239.00,324.98 L240.00,324.99 L241.00,324.99 L242.00,324.99 L243.00,324.99 L244.00,324.99 L245.00,324.99 L246.00,324.99 L247.00,325.00 L248.00,325.00 L249.00,325.00 L250.00,325.00 L251.00,325.00 L252.00,325.00 L253.00,325.00 L254.00,325.00 L255.00,325.00 L256.00,325.00 L257.00,325.00 L258.00,325.00 L259.00,325.00 L260.00,325.00 L261.00,325.00" fill="none" stroke="#000000" stroke-width="2.2" stroke-linejoin="round"/>
<path d="M55.00,325.00 L56.00,325.00 L57.00,325.00 L58.00,325.00 L59.00,325.00 L60.00,325.00 L61.00,325.00 L62.00,325.00 L63.00,325.00 L64.00,325.00 L65.00,325.00 L66.00,325.00 L67.00,325.00 L68.00,325.00 L69.00,324.99 L70.00,324.99 L71.00,324.99 L72.00,324.99 L73.00,324.98 L74.00,324.98 L75.00,324.97 L76.00,324.96 L77.00,324.95 L78.00,324.94 L79.00,324.92 L80.00,324.90 L81.00,324.87 L82.00,324.84 L83.00,324.79 L84.00,324.74 L85.00,324.68 L86.00,324.61 L87.00,324.53 L88.00,324.42 L89.00,324.30 L90.00,324.16 L91.00,323.99 L92.00,323.79 L93.00,323.56 L94.00,323.29 L95.00,322.98 L96.00,322.62 L97.00,322.22 L98.00,321.76 L99.00,321.24 L100.00,320.65 L101.00,320.00 L102.00,319.26 L103.00,318.45 L104.00,317.54 L105.00,316.55 L106.00,315.46 L107.00,314.27 L108.00,312.98 L109.00,311.59 L110.00,310.08 L111.00,308.47 L112.00,306.75 L113.00,304.92 L114.00,302.99 L115.00,300.96 L116.00,298.83 L117.00,296.60 L118.00,294.29 L119.00,291.91 L120.00,289.46 L121.00,286.95 L122.00,284.40 L123.00,281.81 L124.00,279.21 L125.00,276.60 L126.00,274.00 L127.00,271.43 L128.00,268.90 L129.00,266.43 L130.00,264.03 L131.00,261.71 L132.00,259.51 L133.00,257.42 L134.00,255.46 L135.00,253.65 L136.00,252.00 L137.00,250.51 L138.00,249.21 L139.00,248.08 L140.00,247.16 L141.00,246.43 L142.00,245.90 L143.00,245.57 L144.00,245.45 L145.00,245.53 L146.00,245.81 L147.00,246.29 L148.00,246.95 L149.00,247.80 L150.00,248.83 L151.00,250.02 L152.00,251.36 L153.00,252.85 L154.00,254.48 L155.00,256.22 L156.00,258.08 L157.00,260.03 L158.00,262.06 L159.00,264.17 L160.00,266.33 L161.00,268.54 L162.00,270.78 L163.00,273.04 L164.00,275.31 L165.00,277.57 L166.00,279.83 L167.00,282.07 L168.00,284.28 L169.00,286.45 L170.00,288.57 L171.00,290.65 L172.00,292.67 L173.00,294.62 L174.00,296.52 L175.00,298.34 L176.00,300.10 L177.00,301.78 L178.00,303.38 L179.00,304.91 L180.00,306.37 L181.00,307.75 L182.00,309.05 L183.00,310.29 L184.00,311.44 L185.00,312.53 L186.00,313.55 L187.00,314.51 L188.00,315.40 L189.00,316.23 L190.00,317.00 L191.00,317.71 L192.00,318.37 L193.00,318.98 L194.00,319.54 L195.00,320.06 L196.00,320.53 L197.00,320.97 L198.00,321.37 L199.00,321.73 L200.00,322.06 L201.00,322.36 L202.00,322.64 L203.00,322.88 L204.00,323.11 L205.00,323.31 L206.00,323.50 L207.00,323.66 L208.00,323.81 L209.00,323.94 L210.00,324.06 L211.00,324.17 L212.00,324.27 L213.00,324.35 L214.00,324.43 L215.00,324.50 L216.00,324.56 L217.00,324.61 L218.00,324.66 L219.00,324.70 L220.00,324.74 L221.00,324.77 L222.00,324.80 L223.00,324.82 L224.00,324.85 L225.00,324.87 L226.00,324.88 L227.00,324.90 L228.00,324.91 L229.00,324.92 L230.00,324.93 L231.00,324.94 L232.00,324.95 L233.00,324.96 L234.00,324.96 L235.00,324.97 L236.00,324.97 L237.00,324.98 L238.00,324.98 L239.00,324.98 L240.00,324.99 L241.00,324.99 L242.00,324.99 L243.00,324.99 L244.00,324.99 L245.00,324.99 L246.00,324.99 L247.00,324.99 L248.00,325.00 L249.00,325.00 L250.00,325.00 L251.00,325.00 L252.00,325.00 L253.00,325.00 L254.00,325.00 L255.00,325.00 L256.00,325.00 L257.00,325.00 L258.00,325.00 L259.00,325.00 L260.00,325.00 L261.00,325.00" fill="none" stroke="#50e020" stroke-width="2.2" stroke-linejoin="round"/>
<path d="M55.00,325.00 L56.00,325.00 L57.00,325.00 L58.00,325.00 L59.00,325.00 L60.00,325.00 L61.00,325.00 L62.00,325.00 L63.00,325.00 L64.00,325.00 L65.00,325.00 L66.00,325.00 L67.00,325.00 L68.00,324.99 L69.00,324.99 L70.00,324.99 L71.00,324.99 L72.00,324.98 L73.00,324.97 L74.00,324.97 L75.00,324.96 L76.00,324.95 L77.00,324.93 L78.00,324.91 L79.00,324.89 L80.00,324.86 L81.00,324.82 L82.00,324.78 L83.00,324.73 L84.00,324.67 L85.00,324.59 L86.00,324.50 L87.00,324.39 L88.00,324.26 L89.00,324.11 L90.00,323.94 L91.00,323.73 L92.00,323.49 L93.00,323.22 L94.00,322.90 L95.00,322.53 L96.00,322.12 L97.00,321.65 L98.00,321.11 L99.00,320.52 L100.00,319.85 L101.00,319.10 L102.00,318.27 L103.00,317.36 L104.00,316.36 L105.00,315.26 L106.00,314.06 L107.00,312.76 L108.00,311.36 L109.00,309.86 L110.00,308.25 L111.00,306.53 L112.00,304.71 L113.00,302.79 L114.00,300.77 L115.00,298.66 L116.00,296.47 L117.00,294.19 L118.00,291.85 L119.00,289.44 L120.00,286.98 L121.00,284.48 L122.00,281.96 L123.00,279.42 L124.00,276.89 L125.00,274.37 L126.00,271.88 L127.00,269.44 L128.00,267.06 L129.00,264.75 L130.00,262.54 L131.00,260.44 L132.00,258.46 L133.00,256.61 L134.00,254.90 L135.00,253.36 L136.00,251.98 L137.00,250.78 L138.00,249.76 L139.00,248.93 L140.00,248.29 L141.00,247.85 L142.00,247.61 L143.00,247.57 L144.00,247.72 L145.00,248.07 L146.00,248.60 L147.00,249.31 L148.00,250.21 L149.00,251.26 L150.00,252.48 L151.00,253.84 L152.00,255.34 L153.00,256.97 L154.00,258.71 L155.00,260.55 L156.00,262.47 L157.00,264.48 L158.00,266.55 L159.00,268.67 L160.00,270.82 L161.00,273.01 L162.00,275.21 L163.00,277.42 L164.00,279.62 L165.00,281.81 L166.00,283.98 L167.00,286.11 L168.00,288.21 L169.00,290.26 L170.00,292.26 L171.00,294.20 L172.00,296.08 L173.00,297.90 L174.00,299.65 L175.00,301.33 L176.00,302.94 L177.00,304.48 L178.00,305.94 L179.00,307.33 L180.00,308.65 L181.00,309.89 L182.00,311.06 L183.00,312.17 L184.00,313.20 L185.00,314.17 L186.00,315.08 L187.00,315.92 L188.00,316.71 L189.00,317.44 L190.00,318.12 L191.00,318.74 L192.00,319.32 L193.00,319.85 L194.00,320.34 L195.00,320.79 L196.00,321.20 L197.00,321.58 L198.00,321.92 L199.00,322.23 L200.00,322.52 L201.00,322.78 L202.00,323.01 L203.00,323.22 L204.00,323.41 L205.00,323.59 L206.00,323.74 L207.00,323.88 L208.00,324.01 L209.00,324.12 L210.00,324.22 L211.00,324.31 L212.00,324.39 L213.00,324.46 L214.00,324.53 L215.00,324.58 L216.00,324.63 L217.00,324.68 L218.00,324.72 L219.00,324.75 L220.00,324.78 L221.00,324.81 L222.00,324.83 L223.00,324.86 L224.00,324.87 L225.00,324.89 L226.00,324.91 L227.00,324.92 L228.00,324.93 L229.00,324.94 L230.00,324.95 L231.00,324.95 L232.00,324.96 L233.00,324.97 L234.00,324.97 L235.00,324.97 L236.00,324.98 L237.00,324.98 L238.00,324.98 L239.00,324.99 L240.00,324.99 L241.00,324.99 L242.00,324.99 L243.00,324.99 L244.00,324.99 L245.00,324.99 L246.00,325.00 L247.00,325.00 L248.00,325.00 L249.00,325.00 L250.00,325.00 L251.00,325.00 L252.00,325.00 L253.00,325.00 L254.00,325.00 L255.00,325.00 L256.00,325.00 L257.00,325.00 L258.00,325.00 L259.00,325.00 L260.00,325.00 L261.00,325.00" fill="none" stroke="#50a8f0" stroke-width="2.2" stroke-linejoin="round"/>
<path d="M55.00,325.00 L56.00,325.00 L57.00,325.00 L58.00,325.00 L59.00,325.00 L60.00,325.00 L61.00,325.00 L62.00,325.00 L63.00,325.00 L64.00,325.00 L65.00,325.00 L66.00,324.99 L67.00,324.99 L68.00,324.99 L69.00,324.99 L70.00,324.98 L71.00,324.98 L72.00,324.97 L73.00,324.96 L74.00,324.95 L75.00,324.94 L76.00,324.92 L77.00,324.90 L78.00,324.88 L79.00,324.85 L80.00,324.81 L81.00,324.77 L82.00,324.71 L83.00,324.64 L84.00,324.56 L85.00,324.47 L86.00,324.36 L87.00,324.22 L88.00,324.07 L89.00,323.88 L90.00,323.67 L91.00,323.42 L92.00,323.13 L93.00,322.81 L94.00,322.43 L95.00,322.00 L96.00,321.52 L97.00,320.97 L98.00,320.36 L99.00,319.68 L100.00,318.92 L101.00,318.07 L102.00,317.15 L103.00,316.13 L104.00,315.02 L105.00,313.81 L106.00,312.50 L107.00,311.09 L108.00,309.58 L109.00,307.97 L110.00,306.25 L111.00,304.43 L112.00,302.52 L113.00,300.51 L114.00,298.41 L115.00,296.24 L116.00,293.99 L117.00,291.67 L118.00,289.30 L119.00,286.88 L120.00,284.43 L121.00,281.96 L122.00,279.48 L123.00,277.01 L124.00,274.56 L125.00,272.14 L126.00,269.78 L127.00,267.48 L128.00,265.27 L129.00,263.15 L130.00,261.14 L131.00,259.25 L132.00,257.50 L133.00,255.89 L134.00,254.44 L135.00,253.16 L136.00,252.06 L137.00,251.13 L138.00,250.40 L139.00,249.85 L140.00,249.49 L141.00,249.33 L142.00,249.36 L143.00,249.58 L144.00,249.99 L145.00,250.58 L146.00,251.34 L147.00,252.27 L148.00,253.37 L149.00,254.61 L150.00,255.99 L151.00,257.50 L152.00,259.13 L153.00,260.87 L154.00,262.69 L155.00,264.61 L156.00,266.59 L157.00,268.63 L158.00,270.71 L159.00,272.83 L160.00,274.97 L161.00,277.12 L162.00,279.28 L163.00,281.42 L164.00,283.55 L165.00,285.66 L166.00,287.73 L167.00,289.76 L168.00,291.74 L169.00,293.67 L170.00,295.55 L171.00,297.37 L172.00,299.12 L173.00,300.80 L174.00,302.42 L175.00,303.96 L176.00,305.44 L177.00,306.84 L178.00,308.18 L179.00,309.44 L180.00,310.63 L181.00,311.75 L182.00,312.80 L183.00,313.79 L184.00,314.72 L185.00,315.58 L186.00,316.39 L187.00,317.14 L188.00,317.83 L189.00,318.48 L190.00,319.07 L191.00,319.62 L192.00,320.13 L193.00,320.59 L194.00,321.02 L195.00,321.41 L196.00,321.76 L197.00,322.09 L198.00,322.39 L199.00,322.65 L200.00,322.90 L201.00,323.12 L202.00,323.32 L203.00,323.50 L204.00,323.67 L205.00,323.81 L206.00,323.94 L207.00,324.06 L208.00,324.17 L209.00,324.26 L210.00,324.35 L211.00,324.43 L212.00,324.49 L213.00,324.55 L214.00,324.61 L215.00,324.65 L216.00,324.70 L217.00,324.73 L218.00,324.77 L219.00,324.80 L220.00,324.82 L221.00,324.84 L222.00,324.86 L223.00,324.88 L224.00,324.90 L225.00,324.91 L226.00,324.92 L227.00,324.93 L228.00,324.94 L229.00,324.95 L230.00,324.96 L231.00,324.96 L232.00,324.97 L233.00,324.97 L234.00,324.98 L235.00,324.98 L236.00,324.98 L237.00,324.98 L238.00,324.99 L239.00,324.99 L240.00,324.99 L241.00,324.99 L242.00,324.99 L243.00,324.99 L244.00,324.99 L245.00,325.00 L246.00,325.00 L247.00,325.00 L248.00,325.00 L249.00,325.00 L250.00,325.00 L251.00,325.00 L252.00,325.00 L253.00,325.00 L254.00,325.00 L255.00,325.00 L256.00,325.00 L257.00,325.00 L258.00,325.00 L259.00,325.00 L260.00,325.00 L261.00,325.00" fill="none" stroke="#ff1a1a" stroke-width="2.2" stroke-linejoin="round"/>
<path d="M55.00,325.00 L56.00,325.00 L57.00,325.00 L58.00,325.00 L59.00,325.00 L60.00,325.00 L61.00,325.00 L62.00,325.00 L63.00,325.00 L64.00,325.00 L65.00,324.99 L66.00,324.99 L67.00,324.99 L68.00,324.99 L69.00,324.98 L70.00,324.98 L71.00,324.97 L72.00,324.96 L73.00,324.95 L74.00,324.93 L75.00,324.92 L76.00,324.89 L77.00,324.87 L78.00,324.83 L79.00,324.79 L80.00,324.74 L81.00,324.68 L82.00,324.61 L83.00,324.53 L84.00,324.42 L85.00,324.30 L86.00,324.16 L87.00,324.00 L88.00,323.80 L89.00,323.58 L90.00,323.32 L91.00,323.03 L92.00,322.69 L93.00,322.30 L94.00,321.87 L95.00,321.37 L96.00,320.82 L97.00,320.20 L98.00,319.52 L99.00,318.75 L100.00,317.92 L101.00,316.99 L102.00,315.99 L103.00,314.89 L104.00,313.71 L105.00,312.43 L106.00,311.06 L107.00,309.59 L108.00,308.03 L109.00,306.38 L110.00,304.64 L111.00,302.81 L112.00,300.90 L113.00,298.92 L114.00,296.87 L115.00,294.75 L116.00,292.59 L117.00,290.38 L118.00,288.14 L119.00,285.88 L120.00,283.61 L121.00,281.34 L122.00,279.10 L123.00,276.88 L124.00,274.71 L125.00,272.60 L126.00,270.56 L127.00,268.60 L128.00,266.75 L129.00,265.00 L130.00,263.38 L131.00,261.89 L132.00,260.54 L133.00,259.35 L134.00,258.31 L135.00,257.44 L136.00,256.74 L137.00,256.21 L138.00,255.85 L139.00,255.68 L140.00,255.68 L141.00,255.85 L142.00,256.20 L143.00,256.71 L144.00,257.38 L145.00,258.21 L146.00,259.19 L147.00,260.30 L148.00,261.54 L149.00,262.91 L150.00,264.38 L151.00,265.95 L152.00,267.61 L153.00,269.35 L154.00,271.15 L155.00,273.01 L156.00,274.91 L157.00,276.84 L158.00,278.79 L159.00,280.76 L160.00,282.73 L161.00,284.70 L162.00,286.65 L163.00,288.58 L164.00,290.48 L165.00,292.35 L166.00,294.17 L167.00,295.95 L168.00,297.68 L169.00,299.35 L170.00,300.96 L171.00,302.52 L172.00,304.01 L173.00,305.44 L174.00,306.80 L175.00,308.10 L176.00,309.33 L177.00,310.50 L178.00,311.60 L179.00,312.64 L180.00,313.62 L181.00,314.54 L182.00,315.40 L183.00,316.20 L184.00,316.95 L185.00,317.64 L186.00,318.29 L187.00,318.89 L188.00,319.44 L189.00,319.96 L190.00,320.43 L191.00,320.86 L192.00,321.26 L193.00,321.62 L194.00,321.96 L195.00,322.26 L196.00,322.54 L197.00,322.79 L198.00,323.02 L199.00,323.23 L200.00,323.42 L201.00,323.59 L202.00,323.74 L203.00,323.88 L204.00,324.00 L205.00,324.11 L206.00,324.21 L207.00,324.30 L208.00,324.38 L209.00,324.46 L210.00,324.52 L211.00,324.58 L212.00,324.63 L213.00,324.67 L214.00,324.71 L215.00,324.75 L216.00,324.78 L217.00,324.81 L218.00,324.83 L219.00,324.85 L220.00,324.87 L221.00,324.89 L222.00,324.90 L223.00,324.91 L224.00,324.93 L225.00,324.94 L226.00,324.94 L227.00,324.95 L228.00,324.96 L229.00,324.96 L230.00,324.97 L231.00,324.97 L232.00,324.98 L233.00,324.98 L234.00,324.98 L235.00,324.99 L236.00,324.99 L237.00,324.99 L238.00,324.99 L239.00,324.99 L240.00,324.99 L241.00,324.99 L242.00,324.99 L243.00,325.00 L244.00,325.00 L245.00,325.00 L246.00,325.00 L247.00,325.00 L248.00,325.00 L249.00,325.00 L250.00,325.00 L251.00,325.00 L252.00,325.00 L253.00,325.00 L254.00,325.00 L255.00,325.00 L256.00,325.00 L257.00,325.00 L258.00,325.00 L259.00,325.00 L260.00,325.00 L261.00,325.00" fill="none" stroke="#50a8f0" stroke-width="2.2" stroke-linejoin="round"/>
<path d="M55.00,325.00 L56.00,325.00 L57.00,325.00 L58.00,325.00 L59.00,325.00 L60.00,325.00 L61.00,325.00 L62.00,325.00 L63.00,324.99 L64.00,324.99 L65.00,324.99 L66.00,324.99 L67.00,324.98 L68.00,324.98 L69.00,324.97 L70.00,324.97 L71.00,324.96 L72.00,324.94 L73.00,324.93 L74.00,324.91 L75.00,324.89 L76.00,324.86 L77.00,324.82 L78.00,324.78 L79.00,324.73 L80.00,324.66 L81.00,324.59 L82.00,324.50 L83.00,324.39 L84.00,324.27 L85.00,324.12 L86.00,323.95 L87.00,323.75 L88.00,323.52 L89.00,323.25 L90.00,322.95 L91.00,322.60 L92.00,322.20 L93.00,321.76 L94.00,321.25 L95.00,320.69 L96.00,320.06 L97.00,319.36 L98.00,318.59 L99.00,317.74 L100.00,316.81 L101.00,315.80 L102.00,314.69 L103.00,313.50 L104.00,312.22 L105.00,310.85 L106.00,309.38 L107.00,307.82 L108.00,306.18 L109.00,304.45 L110.00,302.64 L111.00,300.75 L112.00,298.79 L113.00,296.77 L114.00,294.69 L115.00,292.56 L116.00,290.39 L117.00,288.20 L118.00,286.00 L119.00,283.79 L120.00,281.59 L121.00,279.41 L122.00,277.27 L123.00,275.17 L124.00,273.14 L125.00,271.19 L126.00,269.32 L127.00,267.55 L128.00,265.90 L129.00,264.37 L130.00,262.97 L131.00,261.71 L132.00,260.61 L133.00,259.66 L134.00,258.87 L135.00,258.25 L136.00,257.80 L137.00,257.52 L138.00,257.42 L139.00,257.48 L140.00,257.71 L141.00,258.11 L142.00,258.67 L143.00,259.38 L144.00,260.25 L145.00,261.25 L146.00,262.38 L147.00,263.63 L148.00,265.00 L149.00,266.47 L150.00,268.04 L151.00,269.68 L152.00,271.40 L153.00,273.17 L154.00,275.00 L155.00,276.86 L156.00,278.75 L157.00,280.66 L158.00,282.58 L159.00,284.50 L160.00,286.41 L161.00,288.30 L162.00,290.17 L163.00,292.01 L164.00,293.81 L165.00,295.57 L166.00,297.28 L167.00,298.95 L168.00,300.55 L169.00,302.11 L170.00,303.60 L171.00,305.03 L172.00,306.40 L173.00,307.70 L174.00,308.94 L175.00,310.12 L176.00,311.24 L177.00,312.29 L178.00,313.28 L179.00,314.21 L180.00,315.09 L181.00,315.90 L182.00,316.67 L183.00,317.38 L184.00,318.04 L185.00,318.66 L186.00,319.23 L187.00,319.75 L188.00,320.24 L189.00,320.68 L190.00,321.09 L191.00,321.47 L192.00,321.82 L193.00,322.13 L194.00,322.42 L195.00,322.68 L196.00,322.92 L197.00,323.13 L198.00,323.33 L199.00,323.51 L200.00,323.67 L201.00,323.81 L202.00,323.94 L203.00,324.06 L204.00,324.17 L205.00,324.26 L206.00,324.34 L207.00,324.42 L208.00,324.49 L209.00,324.55 L210.00,324.60 L211.00,324.65 L212.00,324.69 L213.00,324.73 L214.00,324.76 L215.00,324.79 L216.00,324.82 L217.00,324.84 L218.00,324.86 L219.00,324.88 L220.00,324.89 L221.00,324.91 L222.00,324.92 L223.00,324.93 L224.00,324.94 L225.00,324.95 L226.00,324.95 L227.00,324.96 L228.00,324.97 L229.00,324.97 L230.00,324.97 L231.00,324.98 L232.00,324.98 L233.00,324.98 L234.00,324.99 L235.00,324.99 L236.00,324.99 L237.00,324.99 L238.00,324.99 L239.00,324.99 L240.00,324.99 L241.00,325.00 L242.00,325.00 L243.00,325.00 L244.00,325.00 L245.00,325.00 L246.00,325.00 L247.00,325.00 L248.00,325.00 L249.00,325.00 L250.00,325.00 L251.00,325.00 L252.00,325.00 L253.00,325.00 L254.00,325.00 L255.00,325.00 L256.00,325.00 L257.00,325.00 L258.00,325.00 L259.00,325.00 L260.00,325.00 L261.00,325.00" fill="none" stroke="#50e020" stroke-width="2.2" stroke-linejoin="round"/>
<path d="M55.00,325.00 L56.00,325.00 L57.00,325.00 L58.00,325.00 L59.00,325.00 L60.00,325.00 L61.00,325.00 L62.00,325.00 L63.00,324.99 L64.00,324.99 L65.00,324.99 L66.00,324.98 L67.00,324.98 L68.00,324.97 L69.00,324.97 L70.00,324.96 L71.00,324.94 L72.00,324.93 L73.00,324.91 L74.00,324.89 L75.00,324.86 L76.00,324.83 L77.00,324.78 L78.00,324.73 L79.00,324.67 L80.00,324.60 L81.00,324.51 L82.00,324.41 L83.00,324.29 L84.00,324.14 L85.00,323.98 L86.00,323.78 L87.00,323.56 L88.00,323.30 L89.00,323.00 L90.00,322.66 L91.00,322.27 L92.00,321.84 L93.00,321.34 L94.00,320.79 L95.00,320.18 L96.00,319.50 L97.00,318.74 L98.00,317.91 L99.00,317.00 L100.00,316.00 L101.00,314.93 L102.00,313.76 L103.00,312.50 L104.00,311.16 L105.00,309.72 L106.00,308.20 L107.00,306.58 L108.00,304.89 L109.00,303.11 L110.00,301.25 L111.00,299.33 L112.00,297.34 L113.00,295.30 L114.00,293.21 L115.00,291.08 L116.00,288.93 L117.00,286.76 L118.00,284.58 L119.00,282.42 L120.00,280.27 L121.00,278.16 L122.00,276.10 L123.00,274.09 L124.00,272.16 L125.00,270.32 L126.00,268.57 L127.00,266.94 L128.00,265.42 L129.00,264.04 L130.00,262.79 L131.00,261.69 L132.00,260.74 L133.00,259.96 L134.00,259.34 L135.00,258.88 L136.00,258.59 L137.00,258.48 L138.00,258.53 L139.00,258.74 L140.00,259.12 L141.00,259.66 L142.00,260.35 L143.00,261.18 L144.00,262.15 L145.00,263.26 L146.00,264.48 L147.00,265.82 L148.00,267.26 L149.00,268.79 L150.00,270.40 L151.00,272.08 L152.00,273.82 L153.00,275.61 L154.00,277.44 L155.00,279.30 L156.00,281.18 L157.00,283.06 L158.00,284.95 L159.00,286.83 L160.00,288.70 L161.00,290.54 L162.00,292.35 L163.00,294.13 L164.00,295.86 L165.00,297.55 L166.00,299.19 L167.00,300.78 L168.00,302.31 L169.00,303.78 L170.00,305.20 L171.00,306.55 L172.00,307.84 L173.00,309.07 L174.00,310.23 L175.00,311.33 L176.00,312.38 L177.00,313.36 L178.00,314.28 L179.00,315.15 L180.00,315.96 L181.00,316.72 L182.00,317.42 L183.00,318.08 L184.00,318.69 L185.00,319.25 L186.00,319.77 L187.00,320.26 L188.00,320.70 L189.00,321.11 L190.00,321.48 L191.00,321.82 L192.00,322.14 L193.00,322.42 L194.00,322.69 L195.00,322.92 L196.00,323.14 L197.00,323.33 L198.00,323.51 L199.00,323.67 L200.00,323.81 L201.00,323.94 L202.00,324.06 L203.00,324.17 L204.00,324.26 L205.00,324.34 L206.00,324.42 L207.00,324.49 L208.00,324.55 L209.00,324.60 L210.00,324.65 L211.00,324.69 L212.00,324.73 L213.00,324.76 L214.00,324.79 L215.00,324.82 L216.00,324.84 L217.00,324.86 L218.00,324.88 L219.00,324.89 L220.00,324.91 L221.00,324.92 L222.00,324.93 L223.00,324.94 L224.00,324.95 L225.00,324.95 L226.00,324.96 L227.00,324.97 L228.00,324.97 L229.00,324.97 L230.00,324.98 L231.00,324.98 L232.00,324.98 L233.00,324.99 L234.00,324.99 L235.00,324.99 L236.00,324.99 L237.00,324.99 L238.00,324.99 L239.00,324.99 L240.00,325.00 L241.00,325.00 L242.00,325.00 L243.00,325.00 L244.00,325.00 L245.00,325.00 L246.00,325.00 L247.00,325.00 L248.00,325.00 L249.00,325.00 L250.00,325.00 L251.00,325.00 L252.00,325.00 L253.00,325.00 L254.00,325.00 L255.00,325.00 L256.00,325.00 L257.00,325.00 L258.00,325.00 L259.00,325.00 L260.00,325.00 L261.00,325.00" fill="none" stroke="#a050f0" stroke-width="2.2" stroke-linejoin="round"/>
<path d="M55.00,325.00 L56.00,325.00 L57.00,325.00 L58.00,325.00 L59.00,325.00 L60.00,325.00 L61.00,325.00 L62.00,324.99 L63.00,324.99 L64.00,324.99 L65.00,324.99 L66.00,324.98 L67.00,324.97 L68.00,324.97 L69.00,324.96 L70.00,324.95 L71.00,324.93 L72.00,324.91 L73.00,324.89 L74.00,324.86 L75.00,324.83 L76.00,324.79 L77.00,324.74 L78.00,324.68 L79.00,324.61 L80.00,324.53 L81.00,324.42 L82.00,324.31 L83.00,324.17 L84.00,324.00 L85.00,323.81 L86.00,323.59 L87.00,323.34 L88.00,323.05 L89.00,322.72 L90.00,322.34 L91.00,321.91 L92.00,321.43 L93.00,320.90 L94.00,320.29 L95.00,319.63 L96.00,318.89 L97.00,318.08 L98.00,317.18 L99.00,316.21 L100.00,315.16 L101.00,314.01 L102.00,312.78 L103.00,311.46 L104.00,310.06 L105.00,308.56 L106.00,306.98 L107.00,305.32 L108.00,303.57 L109.00,301.76 L110.00,299.87 L111.00,297.92 L112.00,295.91 L113.00,293.86 L114.00,291.77 L115.00,289.65 L116.00,287.51 L117.00,285.37 L118.00,283.24 L119.00,281.13 L120.00,279.05 L121.00,277.02 L122.00,275.04 L123.00,273.14 L124.00,271.32 L125.00,269.59 L126.00,267.98 L127.00,266.47 L128.00,265.10 L129.00,263.86 L130.00,262.77 L131.00,261.83 L132.00,261.04 L133.00,260.42 L134.00,259.96 L135.00,259.66 L136.00,259.53 L137.00,259.57 L138.00,259.77 L139.00,260.13 L140.00,260.64 L141.00,261.31 L142.00,262.12 L143.00,263.07 L144.00,264.14 L145.00,265.34 L146.00,266.64 L147.00,268.05 L148.00,269.55 L149.00,271.12 L150.00,272.77 L151.00,274.48 L152.00,276.24 L153.00,278.03 L154.00,279.86 L155.00,281.70 L156.00,283.56 L157.00,285.41 L158.00,287.26 L159.00,289.10 L160.00,290.91 L161.00,292.70 L162.00,294.45 L163.00,296.16 L164.00,297.82 L165.00,299.44 L166.00,301.01 L167.00,302.52 L168.00,303.97 L169.00,305.37 L170.00,306.71 L171.00,307.98 L172.00,309.19 L173.00,310.35 L174.00,311.44 L175.00,312.47 L176.00,313.44 L177.00,314.35 L178.00,315.21 L179.00,316.02 L180.00,316.77 L181.00,317.47 L182.00,318.12 L183.00,318.72 L184.00,319.28 L185.00,319.80 L186.00,320.28 L187.00,320.72 L188.00,321.12 L189.00,321.49 L190.00,321.84 L191.00,322.15 L192.00,322.43 L193.00,322.69 L194.00,322.93 L195.00,323.14 L196.00,323.34 L197.00,323.51 L198.00,323.67 L199.00,323.81 L200.00,323.94 L201.00,324.06 L202.00,324.17 L203.00,324.26 L204.00,324.34 L205.00,324.42 L206.00,324.49 L207.00,324.55 L208.00,324.60 L209.00,324.65 L210.00,324.69 L211.00,324.73 L212.00,324.76 L213.00,324.79 L214.00,324.82 L215.00,324.84 L216.00,324.86 L217.00,324.88 L218.00,324.89 L219.00,324.91 L220.00,324.92 L221.00,324.93 L222.00,324.94 L223.00,324.95 L224.00,324.95 L225.00,324.96 L226.00,324.97 L227.00,324.97 L228.00,324.97 L229.00,324.98 L230.00,324.98 L231.00,324.98 L232.00,324.99 L233.00,324.99 L234.00,324.99 L235.00,324.99 L236.00,324.99 L237.00,324.99 L238.00,324.99 L239.00,325.00 L240.00,325.00 L241.00,325.00 L242.00,325.00 L243.00,325.00 L244.00,325.00 L245.00,325.00 L246.00,325.00 L247.00,325.00 L248.00,325.00 L249.00,325.00 L250.00,325.00 L251.00,325.00 L252.00,325.00 L253.00,325.00 L254.00,325.00 L255.00,325.00 L256.00,325.00 L257.00,325.00 L258.00,325.00 L259.00,325.00 L260.00,325.00 L261.00,325.00" fill="none" stroke="#ff8000" stroke-width="2.2" stroke-linejoin="round"/>
<path d="M55.00,325.00 L56.00,325.00 L57.00,325.00 L58.00,325.00 L59.00,325.00 L60.00,324.99 L61.00,324.99 L62.00,324.99 L63.00,324.99 L64.00,324.98 L65.00,324.98 L66.00,324.97 L67.00,324.96 L68.00,324.95 L69.00,324.94 L70.00,324.92 L71.00,324.90 L72.00,324.87 L73.00,324.84 L74.00,324.80 L75.00,324.76 L76.00,324.70 L77.00,324.64 L78.00,324.56 L79.00,324.46 L80.00,324.35 L81.00,324.22 L82.00,324.07 L83.00,323.89 L84.00,323.68 L85.00,323.44 L86.00,323.17 L87.00,322.86 L88.00,322.50 L89.00,322.10 L90.00,321.65 L91.00,321.14 L92.00,320.57 L93.00,319.94 L94.00,319.24 L95.00,318.48 L96.00,317.63 L97.00,316.71 L98.00,315.71 L99.00,314.63 L100.00,313.47 L101.00,312.22 L102.00,310.88 L103.00,309.46 L104.00,307.96 L105.00,306.38 L106.00,304.72 L107.00,302.99 L108.00,301.20 L109.00,299.34 L110.00,297.43 L111.00,295.47 L112.00,293.47 L113.00,291.45 L114.00,289.41 L115.00,287.37 L116.00,285.33 L117.00,283.30 L118.00,281.31 L119.00,279.36 L120.00,277.46 L121.00,275.63 L122.00,273.88 L123.00,272.21 L124.00,270.65 L125.00,269.20 L126.00,267.87 L127.00,266.67 L128.00,265.60 L129.00,264.68 L130.00,263.90 L131.00,263.28 L132.00,262.82 L133.00,262.51 L134.00,262.36 L135.00,262.37 L136.00,262.53 L137.00,262.85 L138.00,263.32 L139.00,263.93 L140.00,264.69 L141.00,265.57 L142.00,266.58 L143.00,267.70 L144.00,268.93 L145.00,270.26 L146.00,271.67 L147.00,273.17 L148.00,274.73 L149.00,276.36 L150.00,278.03 L151.00,279.74 L152.00,281.48 L153.00,283.24 L154.00,285.01 L155.00,286.78 L156.00,288.55 L157.00,290.31 L158.00,292.05 L159.00,293.76 L160.00,295.44 L161.00,297.08 L162.00,298.68 L163.00,300.24 L164.00,301.74 L165.00,303.20 L166.00,304.60 L167.00,305.94 L168.00,307.23 L169.00,308.46 L170.00,309.63 L171.00,310.75 L172.00,311.80 L173.00,312.80 L174.00,313.74 L175.00,314.62 L176.00,315.46 L177.00,316.23 L178.00,316.96 L179.00,317.64 L180.00,318.27 L181.00,318.86 L182.00,319.41 L183.00,319.91 L184.00,320.37 L185.00,320.80 L186.00,321.20 L187.00,321.56 L188.00,321.89 L189.00,322.20 L190.00,322.48 L191.00,322.73 L192.00,322.96 L193.00,323.17 L194.00,323.36 L195.00,323.53 L196.00,323.69 L197.00,323.83 L198.00,323.96 L199.00,324.07 L200.00,324.18 L201.00,324.27 L202.00,324.35 L203.00,324.42 L204.00,324.49 L205.00,324.55 L206.00,324.60 L207.00,324.65 L208.00,324.69 L209.00,324.73 L210.00,324.76 L211.00,324.79 L212.00,324.82 L213.00,324.84 L214.00,324.86 L215.00,324.88 L216.00,324.89 L217.00,324.91 L218.00,324.92 L219.00,324.93 L220.00,324.94 L221.00,324.95 L222.00,324.95 L223.00,324.96 L224.00,324.97 L225.00,324.97 L226.00,324.97 L227.00,324.98 L228.00,324.98 L229.00,324.98 L230.00,324.99 L231.00,324.99 L232.00,324.99 L233.00,324.99 L234.00,324.99 L235.00,324.99 L236.00,324.99 L237.00,325.00 L238.00,325.00 L239.00,325.00 L240.00,325.00 L241.00,325.00 L242.00,325.00 L243.00,325.00 L244.00,325.00 L245.00,325.00 L246.00,325.00 L247.00,325.00 L248.00,325.00 L249.00,325.00 L250.00,325.00 L251.00,325.00 L252.00,325.00 L253.00,325.00 L254.00,325.00 L255.00,325.00 L256.00,325.00 L257.00,325.00 L258.00,325.00 L259.00,325.00 L260.00,325.00 L261.00,325.00" fill="none" stroke="#000000" stroke-width="2.2" stroke-linejoin="round"/>
<path d="M55.00,325.00 L56.00,325.00 L57.00,325.00 L58.00,324.99 L59.00,324.99 L60.00,324.99 L61.00,324.99 L62.00,324.98 L63.00,324.98 L64.00,324.97 L65.00,324.96 L66.00,324.95 L67.00,324.94 L68.00,324.93 L69.00,324.91 L70.00,324.88 L71.00,324.85 L72.00,324.82 L73.00,324.77 L74.00,324.72 L75.00,324.66 L76.00,324.59 L77.00,324.50 L78.00,324.39 L79.00,324.27 L80.00,324.13 L81.00,323.96 L82.00,323.77 L83.00,323.54 L84.00,323.29 L85.00,322.99 L86.00,322.66 L87.00,322.28 L88.00,321.85 L89.00,321.38 L90.00,320.84 L91.00,320.25 L92.00,319.59 L93.00,318.87 L94.00,318.07 L95.00,317.20 L96.00,316.26 L97.00,315.23 L98.00,314.13 L99.00,312.95 L100.00,311.69 L101.00,310.34 L102.00,308.92 L103.00,307.42 L104.00,305.85 L105.00,304.21 L106.00,302.50 L107.00,300.73 L108.00,298.92 L109.00,297.05 L110.00,295.15 L111.00,293.23 L112.00,291.28 L113.00,289.33 L114.00,287.38 L115.00,285.45 L116.00,283.54 L117.00,281.67 L118.00,279.86 L119.00,278.10 L120.00,276.42 L121.00,274.82 L122.00,273.31 L123.00,271.91 L124.00,270.62 L125.00,269.45 L126.00,268.42 L127.00,267.51 L128.00,266.75 L129.00,266.14 L130.00,265.67 L131.00,265.35 L132.00,265.19 L133.00,265.17 L134.00,265.31 L135.00,265.59 L136.00,266.01 L137.00,266.57 L138.00,267.27 L139.00,268.09 L140.00,269.03 L141.00,270.08 L142.00,271.24 L143.00,272.49 L144.00,273.83 L145.00,275.24 L146.00,276.72 L147.00,278.26 L148.00,279.85 L149.00,281.47 L150.00,283.13 L151.00,284.80 L152.00,286.49 L153.00,288.18 L154.00,289.87 L155.00,291.55 L156.00,293.21 L157.00,294.85 L158.00,296.46 L159.00,298.03 L160.00,299.56 L161.00,301.06 L162.00,302.50 L163.00,303.90 L164.00,305.25 L165.00,306.54 L166.00,307.78 L167.00,308.96 L168.00,310.09 L169.00,311.17 L170.00,312.18 L171.00,313.15 L172.00,314.05 L173.00,314.91 L174.00,315.71 L175.00,316.47 L176.00,317.17 L177.00,317.83 L178.00,318.44 L179.00,319.01 L180.00,319.54 L181.00,320.03 L182.00,320.48 L183.00,320.90 L184.00,321.28 L185.00,321.63 L186.00,321.96 L187.00,322.25 L188.00,322.53 L189.00,322.77 L190.00,323.00 L191.00,323.20 L192.00,323.39 L193.00,323.56 L194.00,323.71 L195.00,323.85 L196.00,323.97 L197.00,324.09 L198.00,324.19 L199.00,324.28 L200.00,324.36 L201.00,324.43 L202.00,324.50 L203.00,324.56 L204.00,324.61 L205.00,324.65 L206.00,324.69 L207.00,324.73 L208.00,324.76 L209.00,324.79 L210.00,324.82 L211.00,324.84 L212.00,324.86 L213.00,324.88 L214.00,324.89 L215.00,324.91 L216.00,324.92 L217.00,324.93 L218.00,324.94 L219.00,324.95 L220.00,324.95 L221.00,324.96 L222.00,324.97 L223.00,324.97 L224.00,324.97 L225.00,324.98 L226.00,324.98 L227.00,324.98 L228.00,324.99 L229.00,324.99 L230.00,324.99 L231.00,324.99 L232.00,324.99 L233.00,324.99 L234.00,324.99 L235.00,325.00 L236.00,325.00 L237.00,325.00 L238.00,325.00 L239.00,325.00 L240.00,325.00 L241.00,325.00 L242.00,325.00 L243.00,325.00 L244.00,325.00 L245.00,325.00 L246.00,325.00 L247.00,325.00 L248.00,325.00 L249.00,325.00 L250.00,325.00 L251.00,325.00 L252.00,325.00 L253.00,325.00 L254.00,325.00 L255.00,325.00 L256.00,325.00 L257.00,325.00 L258.00,325.00 L259.00,325.00 L260.00,325.00 L261.00,325.00" fill="none" stroke="#50e020" stroke-width="2.2" stroke-linejoin="round"/>
<path d="M55.00,325.00 L56.00,325.00 L57.00,324.99 L58.00,324.99 L59.00,324.99 L60.00,324.99 L61.00,324.98 L62.00,324.98 L63.00,324.97 L64.00,324.96 L65.00,324.95 L66.00,324.94 L67.00,324.92 L68.00,324.90 L69.00,324.88 L70.00,324.85 L71.00,324.81 L72.00,324.76 L73.00,324.71 L74.00,324.64 L75.00,324.57 L76.00,324.48 L77.00,324.37 L78.00,324.24 L79.00,324.09 L80.00,323.92 L81.00,323.73 L82.00,323.50 L83.00,323.24 L84.00,322.94 L85.00,322.60 L86.00,322.21 L87.00,321.78 L88.00,321.30 L89.00,320.76 L90.00,320.17 L91.00,319.51 L92.00,318.78 L93.00,317.98 L94.00,317.12 L95.00,316.18 L96.00,315.16 L97.00,314.07 L98.00,312.89 L99.00,311.64 L100.00,310.32 L101.00,308.92 L102.00,307.44 L103.00,305.90 L104.00,304.29 L105.00,302.62 L106.00,300.90 L107.00,299.13 L108.00,297.31 L109.00,295.47 L110.00,293.61 L111.00,291.73 L112.00,289.85 L113.00,287.97 L114.00,286.12 L115.00,284.29 L116.00,282.51 L117.00,280.78 L118.00,279.11 L119.00,277.52 L120.00,276.01 L121.00,274.60 L122.00,273.29 L123.00,272.09 L124.00,271.01 L125.00,270.06 L126.00,269.24 L127.00,268.56 L128.00,268.03 L129.00,267.63 L130.00,267.38 L131.00,267.28 L132.00,267.32 L133.00,267.50 L134.00,267.82 L135.00,268.28 L136.00,268.87 L137.00,269.59 L138.00,270.43 L139.00,271.37 L140.00,272.43 L141.00,273.58 L142.00,274.81 L143.00,276.13 L144.00,277.52 L145.00,278.97 L146.00,280.47 L147.00,282.01 L148.00,283.59 L149.00,285.19 L150.00,286.81 L151.00,288.44 L152.00,290.07 L153.00,291.69 L154.00,293.30 L155.00,294.90 L156.00,296.47 L157.00,298.00 L158.00,299.51 L159.00,300.97 L160.00,302.39 L161.00,303.77 L162.00,305.10 L163.00,306.38 L164.00,307.61 L165.00,308.79 L166.00,309.91 L167.00,310.98 L168.00,311.99 L169.00,312.96 L170.00,313.86 L171.00,314.72 L172.00,315.53 L173.00,316.29 L174.00,317.00 L175.00,317.66 L176.00,318.28 L177.00,318.86 L178.00,319.39 L179.00,319.89 L180.00,320.35 L181.00,320.77 L182.00,321.16 L183.00,321.52 L184.00,321.86 L185.00,322.16 L186.00,322.44 L187.00,322.69 L188.00,322.92 L189.00,323.13 L190.00,323.32 L191.00,323.50 L192.00,323.66 L193.00,323.80 L194.00,323.93 L195.00,324.04 L196.00,324.15 L197.00,324.24 L198.00,324.33 L199.00,324.40 L200.00,324.47 L201.00,324.53 L202.00,324.59 L203.00,324.63 L204.00,324.68 L205.00,324.72 L206.00,324.75 L207.00,324.78 L208.00,324.81 L209.00,324.83 L210.00,324.85 L211.00,324.87 L212.00,324.89 L213.00,324.90 L214.00,324.91 L215.00,324.92 L216.00,324.93 L217.00,324.94 L218.00,324.95 L219.00,324.96 L220.00,324.96 L221.00,324.97 L222.00,324.97 L223.00,324.98 L224.00,324.98 L225.00,324.98 L226.00,324.98 L227.00,324.99 L228.00,324.99 L229.00,324.99 L230.00,324.99 L231.00,324.99 L232.00,324.99 L233.00,324.99 L234.00,325.00 L235.00,325.00 L236.00,325.00 L237.00,325.00 L238.00,325.00 L239.00,325.00 L240.00,325.00 L241.00,325.00 L242.00,325.00 L243.00,325.00 L244.00,325.00 L245.00,325.00 L246.00,325.00 L247.00,325.00 L248.00,325.00 L249.00,325.00 L250.00,325.00 L251.00,325.00 L252.00,325.00 L253.00,325.00 L254.00,325.00 L255.00,325.00 L256.00,325.00 L257.00,325.00 L258.00,325.00 L259.00,325.00 L260.00,325.00 L261.00,325.00" fill="none" stroke="#ff1a1a" stroke-width="2.2" stroke-linejoin="round"/>
<path d="M55.00,325.00 L56.00,324.99 L57.00,324.99 L58.00,324.99 L59.00,324.99 L60.00,324.98 L61.00,324.97 L62.00,324.97 L63.00,324.96 L64.00,324.95 L65.00,324.93 L66.00,324.92 L67.00,324.89 L68.00,324.87 L69.00,324.83 L70.00,324.80 L71.00,324.75 L72.00,324.69 L73.00,324.62 L74.00,324.54 L75.00,324.45 L76.00,324.34 L77.00,324.20 L78.00,324.05 L79.00,323.87 L80.00,323.67 L81.00,323.43 L82.00,323.16 L83.00,322.86 L84.00,322.51 L85.00,322.12 L86.00,321.68 L87.00,321.18 L88.00,320.64 L89.00,320.03 L90.00,319.36 L91.00,318.63 L92.00,317.82 L93.00,316.95 L94.00,316.00 L95.00,314.98 L96.00,313.88 L97.00,312.71 L98.00,311.46 L99.00,310.14 L100.00,308.74 L101.00,307.28 L102.00,305.74 L103.00,304.15 L104.00,302.50 L105.00,300.80 L106.00,299.06 L107.00,297.28 L108.00,295.47 L109.00,293.65 L110.00,291.81 L111.00,289.98 L112.00,288.16 L113.00,286.36 L114.00,284.60 L115.00,282.88 L116.00,281.21 L117.00,279.61 L118.00,278.09 L119.00,276.66 L120.00,275.32 L121.00,274.08 L122.00,272.96 L123.00,271.96 L124.00,271.08 L125.00,270.33 L126.00,269.72 L127.00,269.25 L128.00,268.92 L129.00,268.73 L130.00,268.68 L131.00,268.77 L132.00,269.00 L133.00,269.37 L134.00,269.87 L135.00,270.49 L136.00,271.23 L137.00,272.09 L138.00,273.05 L139.00,274.11 L140.00,275.27 L141.00,276.50 L142.00,277.81 L143.00,279.19 L144.00,280.62 L145.00,282.10 L146.00,283.62 L147.00,285.16 L148.00,286.73 L149.00,288.31 L150.00,289.90 L151.00,291.49 L152.00,293.07 L153.00,294.63 L154.00,296.18 L155.00,297.70 L156.00,299.18 L157.00,300.64 L158.00,302.05 L159.00,303.42 L160.00,304.75 L161.00,306.03 L162.00,307.26 L163.00,308.43 L164.00,309.56 L165.00,310.64 L166.00,311.66 L167.00,312.63 L168.00,313.55 L169.00,314.42 L170.00,315.24 L171.00,316.01 L172.00,316.74 L173.00,317.41 L174.00,318.04 L175.00,318.63 L176.00,319.18 L177.00,319.69 L178.00,320.16 L179.00,320.60 L180.00,321.00 L181.00,321.37 L182.00,321.71 L183.00,322.03 L184.00,322.32 L185.00,322.58 L186.00,322.82 L187.00,323.04 L188.00,323.24 L189.00,323.42 L190.00,323.58 L191.00,323.73 L192.00,323.87 L193.00,323.99 L194.00,324.10 L195.00,324.20 L196.00,324.29 L197.00,324.37 L198.00,324.44 L199.00,324.50 L200.00,324.56 L201.00,324.61 L202.00,324.66 L203.00,324.70 L204.00,324.73 L205.00,324.76 L206.00,324.79 L207.00,324.82 L208.00,324.84 L209.00,324.86 L210.00,324.88 L211.00,324.89 L212.00,324.91 L213.00,324.92 L214.00,324.93 L215.00,324.94 L216.00,324.95 L217.00,324.95 L218.00,324.96 L219.00,324.96 L220.00,324.97 L221.00,324.97 L222.00,324.98 L223.00,324.98 L224.00,324.98 L225.00,324.99 L226.00,324.99 L227.00,324.99 L228.00,324.99 L229.00,324.99 L230.00,324.99 L231.00,324.99 L232.00,324.99 L233.00,325.00 L234.00,325.00 L235.00,325.00 L236.00,325.00 L237.00,325.00 L238.00,325.00 L239.00,325.00 L240.00,325.00 L241.00,325.00 L242.00,325.00 L243.00,325.00 L244.00,325.00 L245.00,325.00 L246.00,325.00 L247.00,325.00 L248.00,325.00 L249.00,325.00 L250.00,325.00 L251.00,325.00 L252.00,325.00 L253.00,325.00 L254.00,325.00 L255.00,325.00 L256.00,325.00 L257.00,325.00 L258.00,325.00 L259.00,325.00 L260.00,325.00 L261.00,325.00" fill="none" stroke="#a050f0" stroke-width="2.2" stroke-linejoin="round"/>
<path d="M55.00,324.99 L56.00,324.99 L57.00,324.99 L58.00,324.98 L59.00,324.98 L60.00,324.97 L61.00,324.96 L62.00,324.95 L63.00,324.94 L64.00,324.92 L65.00,324.90 L66.00,324.88 L67.00,324.85 L68.00,324.81 L69.00,324.77 L70.00,324.72 L71.00,324.66 L72.00,324.58 L73.00,324.49 L74.00,324.39 L75.00,324.27 L76.00,324.13 L77.00,323.97 L78.00,323.78 L79.00,323.56 L80.00,323.31 L81.00,323.03 L82.00,322.71 L83.00,322.35 L84.00,321.94 L85.00,321.48 L86.00,320.98 L87.00,320.42 L88.00,319.80 L89.00,319.11 L90.00,318.37 L91.00,317.56 L92.00,316.68 L93.00,315.73 L94.00,314.71 L95.00,313.62 L96.00,312.46 L97.00,311.23 L98.00,309.93 L99.00,308.57 L100.00,307.14 L101.00,305.66 L102.00,304.12 L103.00,302.53 L104.00,300.91 L105.00,299.24 L106.00,297.55 L107.00,295.85 L108.00,294.13 L109.00,292.41 L110.00,290.70 L111.00,289.02 L112.00,287.36 L113.00,285.74 L114.00,284.17 L115.00,282.67 L116.00,281.23 L117.00,279.87 L118.00,278.60 L119.00,277.43 L120.00,276.36 L121.00,275.41 L122.00,274.57 L123.00,273.85 L124.00,273.26 L125.00,272.80 L126.00,272.46 L127.00,272.27 L128.00,272.20 L129.00,272.27 L130.00,272.46 L131.00,272.78 L132.00,273.23 L133.00,273.79 L134.00,274.47 L135.00,275.25 L136.00,276.14 L137.00,277.12 L138.00,278.18 L139.00,279.33 L140.00,280.54 L141.00,281.82 L142.00,283.15 L143.00,284.53 L144.00,285.94 L145.00,287.39 L146.00,288.85 L147.00,290.33 L148.00,291.82 L149.00,293.31 L150.00,294.79 L151.00,296.25 L152.00,297.70 L153.00,299.13 L154.00,300.53 L155.00,301.89 L156.00,303.22 L157.00,304.51 L158.00,305.76 L159.00,306.97 L160.00,308.13 L161.00,309.24 L162.00,310.31 L163.00,311.33 L164.00,312.30 L165.00,313.22 L166.00,314.09 L167.00,314.91 L168.00,315.69 L169.00,316.42 L170.00,317.10 L171.00,317.75 L172.00,318.35 L173.00,318.91 L174.00,319.43 L175.00,319.91 L176.00,320.36 L177.00,320.78 L178.00,321.16 L179.00,321.52 L180.00,321.85 L181.00,322.14 L182.00,322.42 L183.00,322.67 L184.00,322.90 L185.00,323.11 L186.00,323.30 L187.00,323.48 L188.00,323.63 L189.00,323.78 L190.00,323.91 L191.00,324.02 L192.00,324.13 L193.00,324.22 L194.00,324.31 L195.00,324.39 L196.00,324.46 L197.00,324.52 L198.00,324.57 L199.00,324.62 L200.00,324.67 L201.00,324.70 L202.00,324.74 L203.00,324.77 L204.00,324.80 L205.00,324.82 L206.00,324.84 L207.00,324.86 L208.00,324.88 L209.00,324.90 L210.00,324.91 L211.00,324.92 L212.00,324.93 L213.00,324.94 L214.00,324.95 L215.00,324.95 L216.00,324.96 L217.00,324.97 L218.00,324.97 L219.00,324.97 L220.00,324.98 L221.00,324.98 L222.00,324.98 L223.00,324.99 L224.00,324.99 L225.00,324.99 L226.00,324.99 L227.00,324.99 L228.00,324.99 L229.00,324.99 L230.00,324.99 L231.00,325.00 L232.00,325.00 L233.00,325.00 L234.00,325.00 L235.00,325.00 L236.00,325.00 L237.00,325.00 L238.00,325.00 L239.00,325.00 L240.00,325.00 L241.00,325.00 L242.00,325.00 L243.00,325.00 L244.00,325.00 L245.00,325.00 L246.00,325.00 L247.00,325.00 L248.00,325.00 L249.00,325.00 L250.00,325.00 L251.00,325.00 L252.00,325.00 L253.00,325.00 L254.00,325.00 L255.00,325.00 L256.00,325.00 L257.00,325.00 L258.00,325.00 L259.00,325.00 L260.00,325.00 L261.00,325.00" fill="none" stroke="#000000" stroke-width="2.2" stroke-linejoin="round"/>
<path d="M55.00,324.98 L56.00,324.98 L57.00,324.97 L58.00,324.97 L59.00,324.96 L60.00,324.95 L61.00,324.93 L62.00,324.91 L63.00,324.89 L64.00,324.87 L65.00,324.83 L66.00,324.79 L67.00,324.75 L68.00,324.69 L69.00,324.62 L70.00,324.54 L71.00,324.45 L72.00,324.34 L73.00,324.21 L74.00,324.06 L75.00,323.88 L76.00,323.68 L77.00,323.45 L78.00,323.18 L79.00,322.88 L80.00,322.54 L81.00,322.15 L82.00,321.72 L83.00,321.24 L84.00,320.71 L85.00,320.11 L86.00,319.46 L87.00,318.75 L88.00,317.96 L89.00,317.11 L90.00,316.19 L91.00,315.20 L92.00,314.14 L93.00,313.00 L94.00,311.80 L95.00,310.52 L96.00,309.17 L97.00,307.76 L98.00,306.29 L99.00,304.76 L100.00,303.17 L101.00,301.54 L102.00,299.87 L103.00,298.17 L104.00,296.44 L105.00,294.69 L106.00,292.94 L107.00,291.19 L108.00,289.46 L109.00,287.75 L110.00,286.07 L111.00,284.44 L112.00,282.86 L113.00,281.35 L114.00,279.91 L115.00,278.55 L116.00,277.29 L117.00,276.13 L118.00,275.08 L119.00,274.14 L120.00,273.32 L121.00,272.63 L122.00,272.06 L123.00,271.63 L124.00,271.34 L125.00,271.18 L126.00,271.15 L127.00,271.26 L128.00,271.49 L129.00,271.86 L130.00,272.35 L131.00,272.96 L132.00,273.68 L133.00,274.51 L134.00,275.44 L135.00,276.46 L136.00,277.57 L137.00,278.76 L138.00,280.01 L139.00,281.33 L140.00,282.70 L141.00,284.11 L142.00,285.56 L143.00,287.04 L144.00,288.54 L145.00,290.05 L146.00,291.56 L147.00,293.07 L148.00,294.58 L149.00,296.07 L150.00,297.54 L151.00,298.98 L152.00,300.40 L153.00,301.78 L154.00,303.12 L155.00,304.43 L156.00,305.69 L157.00,306.90 L158.00,308.07 L159.00,309.20 L160.00,310.27 L161.00,311.29 L162.00,312.27 L163.00,313.19 L164.00,314.07 L165.00,314.89 L166.00,315.67 L167.00,316.41 L168.00,317.09 L169.00,317.74 L170.00,318.34 L171.00,318.90 L172.00,319.43 L173.00,319.91 L174.00,320.36 L175.00,320.78 L176.00,321.16 L177.00,321.52 L178.00,321.84 L179.00,322.14 L180.00,322.42 L181.00,322.67 L182.00,322.90 L183.00,323.11 L184.00,323.30 L185.00,323.47 L186.00,323.63 L187.00,323.78 L188.00,323.91 L189.00,324.02 L190.00,324.13 L191.00,324.22 L192.00,324.31 L193.00,324.39 L194.00,324.45 L195.00,324.52 L196.00,324.57 L197.00,324.62 L198.00,324.66 L199.00,324.70 L200.00,324.74 L201.00,324.77 L202.00,324.80 L203.00,324.82 L204.00,324.84 L205.00,324.86 L206.00,324.88 L207.00,324.90 L208.00,324.91 L209.00,324.92 L210.00,324.93 L211.00,324.94 L212.00,324.95 L213.00,324.95 L214.00,324.96 L215.00,324.97 L216.00,324.97 L217.00,324.97 L218.00,324.98 L219.00,324.98 L220.00,324.98 L221.00,324.99 L222.00,324.99 L223.00,324.99 L224.00,324.99 L225.00,324.99 L226.00,324.99 L227.00,324.99 L228.00,324.99 L229.00,325.00 L230.00,325.00 L231.00,325.00 L232.00,325.00 L233.00,325.00 L234.00,325.00 L235.00,325.00 L236.00,325.00 L237.00,325.00 L238.00,325.00 L239.00,325.00 L240.00,325.00 L241.00,325.00 L242.00,325.00 L243.00,325.00 L244.00,325.00 L245.00,325.00 L246.00,325.00 L247.00,325.00 L248.00,325.00 L249.00,325.00 L250.00,325.00 L251.00,325.00 L252.00,325.00 L253.00,325.00 L254.00,325.00 L255.00,325.00 L256.00,325.00 L257.00,325.00 L258.00,325.00 L259.00,325.00 L260.00,325.00 L261.00,325.00" fill="none" stroke="#ff8000" stroke-width="2.2" stroke-linejoin="round"/>
</g>
<rect x="61.5" y="0.5" width="196.0" height="325.0" fill="none" stroke="#1a1a1a" stroke-width="1.2"/>
<line x1="48" y1="325.5" x2="61" y2="325.5" stroke="#1a1a1a" stroke-width="1.2"/>
<line x1="54" y1="307.5" x2="61" y2="307.5" stroke="#1a1a1a" stroke-width="1.2"/>
<line x1="257" y1="307.5" x2="250" y2="307.5" stroke="#1a1a1a" stroke-width="1.2"/>
<line x1="48" y1="289.5" x2="61" y2="289.5" stroke="#1a1a1a" stroke-width="1.2"/>
<line x1="257" y1="289.5" x2="244" y2="289.5" stroke="#1a1a1a" stroke-width="1.2"/>
<line x1="54" y1="272.5" x2="61" y2="272.5" stroke="#1a1a1a" stroke-width="1.2"/>
<line x1="257" y1="272.5" x2="250" y2="272.5" stroke="#1a1a1a" stroke-width="1.2"/>
<line x1="48" y1="254.5" x2="61" y2="254.5" stroke="#1a1a1a" stroke-width="1.2"/>
<line x1="257" y1="254.5" x2="244" y2="254.5" stroke="#1a1a1a" stroke-width="1.2"/>
<line x1="54" y1="237.5" x2="61" y2="237.5" stroke="#1a1a1a" stroke-width="1.2"/>
<line x1="257" y1="237.5" x2="250" y2="237.5" stroke="#1a1a1a" stroke-width="1.2"/>
<line x1="48" y1="219.5" x2="61" y2="219.5" stroke="#1a1a1a" stroke-width="1.2"/>
<line x1="257" y1="219.5" x2="244" y2="219.5" stroke="#1a1a1a" stroke-width="1.2"/>
<line x1="54" y1="201.5" x2="61" y2="201.5" stroke="#1a1a1a" stroke-width="1.2"/>
<line x1="257" y1="201.5" x2="250" y2="201.5" stroke="#1a1a1a" stroke-width="1.2"/>
<line x1="48" y1="184.5" x2="61" y2="184.5" stroke="#1a1a1a" stroke-width="1.2"/>
<line x1="257" y1="184.5" x2="244" y2="184.5" stroke="#1a1a1a" stroke-width="1.2"/>
<line x1="54" y1="166.5" x2="61" y2="166.5" stroke="#1a1a1a" stroke-width="1.2"/>
<line x1="257" y1="166.5" x2="250" y2="166.5" stroke="#1a1a1a" stroke-width="1.2"/>
<line x1="79.5" y1="325" x2="79.5" y2="331" stroke="#1a1a1a" stroke-width="1.2"/>
<line x1="79.5" y1="1" x2="79.5" y2="7" stroke="#1a1a1a" stroke-width="1.2"/>
<line x1="125.5" y1="325" x2="125.5" y2="335" stroke="#1a1a1a" stroke-width="1.2"/>
<line x1="125.5" y1="1" x2="125.5" y2="11" stroke="#1a1a1a" stroke-width="1.2"/>
<line x1="171.5" y1="325" x2="171.5" y2="331" stroke="#1a1a1a" stroke-width="1.2"/>
<line x1="171.5" y1="1" x2="171.5" y2="7" stroke="#1a1a1a" stroke-width="1.2"/>
<line x1="217.5" y1="325" x2="217.5" y2="335" stroke="#1a1a1a" stroke-width="1.2"/>
<line x1="217.5" y1="1" x2="217.5" y2="11" stroke="#1a1a1a" stroke-width="1.2"/>
<text x="38.00" y="295.40" font-family="Liberation Sans" font-size="18.2" text-anchor="end" fill="#111" >1</text>
<text x="38.00" y="260.20" font-family="Liberation Sans" font-size="18.2" text-anchor="end" fill="#111" >2</text>
<text x="38.00" y="225.00" font-family="Liberation Sans" font-size="18.2" text-anchor="end" fill="#111" >3</text>
<text x="38.00" y="189.80" font-family="Liberation Sans" font-size="18.2" text-anchor="end" fill="#111" >4</text>
<text x="124.90" y="353.60" font-family="Liberation Sans" font-size="17.6" text-anchor="middle" fill="#111" >600</text>
<text x="216.90" y="353.60" font-family="Liberation Sans" font-size="17.6" text-anchor="middle" fill="#111" >700</text>
<text x="89.33" y="375.00" font-family="Liberation Sans" font-size="17.50" textLength="135.59" lengthAdjust="spacingAndGlyphs" fill="#111" >Wa velength (nm)</text>
<text transform="translate(14.30,319.20) rotate(-90)" x="-1.47" y="0" font-family="Liberation Sans" font-size="18.00" textLength="161.30" lengthAdjust="spacingAndGlyphs" fill="#111" >PL Int (x10<tspan font-size="0.72em" dy="-0.43em">7</tspan><tspan dy="0.31em"> counts)</tspan></text>
<text x="22.02" y="28.20" font-family="Liberation Sans" font-size="21.91" textLength="28.11" lengthAdjust="spacingAndGlyphs" fill="#111" >(a)</text>
<rect x="324.5" y="0.5" width="200.0" height="84.0" fill="none" stroke="#1a1a1a" stroke-width="1.2"/>
<line x1="313" y1="84.5" x2="325" y2="84.5" stroke="#1a1a1a" stroke-width="1.2"/>
<line x1="524" y1="84.5" x2="512" y2="84.5" stroke="#1a1a1a" stroke-width="1.2"/>
<line x1="319" y1="72.5" x2="325" y2="72.5" stroke="#1a1a1a" stroke-width="1.2"/>
<line x1="524" y1="72.5" x2="518" y2="72.5" stroke="#1a1a1a" stroke-width="1.2"/>
<line x1="319" y1="59.5" x2="325" y2="59.5" stroke="#1a1a1a" stroke-width="1.2"/>
<line x1="524" y1="59.5" x2="518" y2="59.5" stroke="#1a1a1a" stroke-width="1.2"/>
<line x1="319" y1="47.5" x2="325" y2="47.5" stroke="#1a1a1a" stroke-width="1.2"/>
<line x1="524" y1="47.5" x2="518" y2="47.5" stroke="#1a1a1a" stroke-width="1.2"/>
<line x1="319" y1="34.5" x2="325" y2="34.5" stroke="#1a1a1a" stroke-width="1.2"/>
<line x1="524" y1="34.5" x2="518" y2="34.5" stroke="#1a1a1a" stroke-width="1.2"/>
<line x1="313" y1="22.5" x2="325" y2="22.5" stroke="#1a1a1a" stroke-width="1.2"/>
<line x1="524" y1="22.5" x2="512" y2="22.5" stroke="#1a1a1a" stroke-width="1.2"/>
<line x1="319" y1="10.5" x2="325" y2="10.5" stroke="#1a1a1a" stroke-width="1.2"/>
<line x1="524" y1="10.5" x2="518" y2="10.5" stroke="#1a1a1a" stroke-width="1.2"/>
<line x1="324.5" y1="84" x2="324.5" y2="95" stroke="#1a1a1a" stroke-width="1.2"/>
<line x1="362.5" y1="84" x2="362.5" y2="90" stroke="#1a1a1a" stroke-width="1.2"/>
<line x1="362.5" y1="1" x2="362.5" y2="7" stroke="#1a1a1a" stroke-width="1.2"/>
<line x1="400.5" y1="84" x2="400.5" y2="95" stroke="#1a1a1a" stroke-width="1.2"/>
<line x1="400.5" y1="1" x2="400.5" y2="12" stroke="#1a1a1a" stroke-width="1.2"/>
<line x1="438.5" y1="84" x2="438.5" y2="90" stroke="#1a1a1a" stroke-width="1.2"/>
<line x1="438.5" y1="1" x2="438.5" y2="7" stroke="#1a1a1a" stroke-width="1.2"/>
<line x1="476.5" y1="84" x2="476.5" y2="95" stroke="#1a1a1a" stroke-width="1.2"/>
<line x1="476.5" y1="1" x2="476.5" y2="12" stroke="#1a1a1a" stroke-width="1.2"/>
<line x1="513.5" y1="84" x2="513.5" y2="90" stroke="#1a1a1a" stroke-width="1.2"/>
<line x1="513.5" y1="1" x2="513.5" y2="7" stroke="#1a1a1a" stroke-width="1.2"/>
<text x="306.80" y="27.90" font-family="Liberation Sans" font-size="17.6" text-anchor="end" fill="#111" >50</text>
<text x="306.80" y="89.90" font-family="Liberation Sans" font-size="17.6" text-anchor="end" fill="#111" >0</text>
<text x="333.84" y="25.80" font-family="Liberation Sans" font-size="21.91" textLength="27.78" lengthAdjust="spacingAndGlyphs" fill="#111" >(b)</text>
<text transform="translate(281.00,81.80) rotate(-90)" x="-0.50" y="0" font-family="Liberation Sans" font-size="14.00" textLength="57.80" lengthAdjust="spacingAndGlyphs" fill="#111" >Δλ (nm)</text>
<circle cx="324.60" cy="84.50" r="5.3" fill="#fff" stroke="#111" stroke-width="1.2"/>
<circle cx="332.16" cy="79.50" r="5.3" fill="#fff" stroke="#111" stroke-width="1.2"/>
<circle cx="339.73" cy="73.30" r="5.3" fill="#fff" stroke="#111" stroke-width="1.2"/>
<circle cx="347.29" cy="68.30" r="5.3" fill="#fff" stroke="#111" stroke-width="1.2"/>
<circle cx="354.86" cy="64.90" r="5.3" fill="#fff" stroke="#111" stroke-width="1.2"/>
<circle cx="362.42" cy="59.70" r="5.3" fill="#fff" stroke="#111" stroke-width="1.2"/>
<circle cx="369.99" cy="55.90" r="5.3" fill="#fff" stroke="#111" stroke-width="1.2"/>
<circle cx="377.55" cy="50.90" r="5.3" fill="#fff" stroke="#111" stroke-width="1.2"/>
<circle cx="385.12" cy="47.10" r="5.3" fill="#fff" stroke="#111" stroke-width="1.2"/>
<circle cx="392.68" cy="43.40" r="5.3" fill="#fff" stroke="#111" stroke-width="1.2"/>
<circle cx="400.25" cy="37.20" r="5.3" fill="#fff" stroke="#111" stroke-width="1.2"/>
<circle cx="407.81" cy="40.20" r="5.3" fill="#fff" stroke="#111" stroke-width="1.2"/>
<circle cx="415.38" cy="34.00" r="5.3" fill="#fff" stroke="#111" stroke-width="1.2"/>
<circle cx="422.94" cy="28.40" r="5.3" fill="#fff" stroke="#111" stroke-width="1.2"/>
<circle cx="430.51" cy="27.10" r="5.3" fill="#fff" stroke="#111" stroke-width="1.2"/>
<circle cx="438.07" cy="26.20" r="5.3" fill="#fff" stroke="#111" stroke-width="1.2"/>
<circle cx="445.64" cy="25.30" r="5.3" fill="#fff" stroke="#111" stroke-width="1.2"/>
<circle cx="453.20" cy="10.30" r="5.3" fill="#fff" stroke="#111" stroke-width="1.2"/>
<circle cx="460.77" cy="17.80" r="5.3" fill="#fff" stroke="#111" stroke-width="1.2"/>
<circle cx="468.33" cy="18.70" r="5.3" fill="#fff" stroke="#111" stroke-width="1.2"/>
<circle cx="475.90" cy="13.50" r="5.3" fill="#fff" stroke="#111" stroke-width="1.2"/>
<circle cx="483.46" cy="17.80" r="5.3" fill="#fff" stroke="#111" stroke-width="1.2"/>
<circle cx="491.03" cy="14.00" r="5.3" fill="#fff" stroke="#111" stroke-width="1.2"/>
<circle cx="498.59" cy="5.60" r="5.3" fill="#fff" stroke="#111" stroke-width="1.2"/>
<circle cx="506.16" cy="9.70" r="5.3" fill="#fff" stroke="#111" stroke-width="1.2"/>
<path d="M324.70,84.40 L326.21,83.21 L327.73,82.03 L329.24,80.87 L330.75,79.73 L332.26,78.60 L333.78,77.48 L335.29,76.38 L336.80,75.29 L338.32,74.22 L339.83,73.16 L341.34,72.12 L342.86,71.08 L344.37,70.07 L345.88,69.06 L347.39,68.07 L348.91,67.09 L350.42,66.12 L351.93,65.17 L353.45,64.23 L354.96,63.30 L356.47,62.38 L357.99,61.48 L359.50,60.59 L361.01,59.71 L362.52,58.84 L364.04,57.98 L365.55,57.13 L367.06,56.29 L368.58,55.47 L370.09,54.65 L371.60,53.85 L373.12,53.06 L374.63,52.27 L376.14,51.50 L377.65,50.74 L379.17,49.98 L380.68,49.24 L382.19,48.51 L383.71,47.78 L385.22,47.07 L386.73,46.36 L388.25,45.67 L389.76,44.98 L391.27,44.30 L392.78,43.63 L394.30,42.97 L395.81,42.32 L397.32,41.68 L398.84,41.04 L400.35,40.41 L401.86,39.80 L403.38,39.19 L404.89,38.58 L406.40,37.99 L407.91,37.40 L409.43,36.82 L410.94,36.25 L412.45,35.68 L413.97,35.13 L415.48,34.58 L416.99,34.04 L418.51,33.50 L420.02,32.97 L421.53,32.45 L423.04,31.93 L424.56,31.43 L426.07,30.92 L427.58,30.43 L429.10,29.94 L430.61,29.46 L432.12,28.98 L433.64,28.51 L435.15,28.05 L436.66,27.59 L438.17,27.14 L439.69,26.69 L441.20,26.25 L442.71,25.82 L444.23,25.39 L445.74,24.97" fill="none" stroke="#111" stroke-width="1.1" stroke-dasharray="12,5"/>
<line x1="453.50" y1="18.90" x2="505.00" y2="1.20" stroke="#111" stroke-width="1.1" stroke-dasharray="12,5"/>
<rect x="324.5" y="0.5" width="200.0" height="84.0" fill="none" stroke="#1a1a1a" stroke-width="1.2"/>
<line x1="313" y1="84.5" x2="325" y2="84.5" stroke="#1a1a1a" stroke-width="1.2"/>
<line x1="524" y1="84.5" x2="512" y2="84.5" stroke="#1a1a1a" stroke-width="1.2"/>
<line x1="319" y1="72.5" x2="325" y2="72.5" stroke="#1a1a1a" stroke-width="1.2"/>
<line x1="524" y1="72.5" x2="518" y2="72.5" stroke="#1a1a1a" stroke-width="1.2"/>
<line x1="319" y1="59.5" x2="325" y2="59.5" stroke="#1a1a1a" stroke-width="1.2"/>
<line x1="524" y1="59.5" x2="518" y2="59.5" stroke="#1a1a1a" stroke-width="1.2"/>
<line x1="319" y1="47.5" x2="325" y2="47.5" stroke="#1a1a1a" stroke-width="1.2"/>
<line x1="524" y1="47.5" x2="518" y2="47.5" stroke="#1a1a1a" stroke-width="1.2"/>
<line x1="319" y1="34.5" x2="325" y2="34.5" stroke="#1a1a1a" stroke-width="1.2"/>
<line x1="524" y1="34.5" x2="518" y2="34.5" stroke="#1a1a1a" stroke-width="1.2"/>
<line x1="313" y1="22.5" x2="325" y2="22.5" stroke="#1a1a1a" stroke-width="1.2"/>
<line x1="524" y1="22.5" x2="512" y2="22.5" stroke="#1a1a1a" stroke-width="1.2"/>
<line x1="319" y1="10.5" x2="325" y2="10.5" stroke="#1a1a1a" stroke-width="1.2"/>
<line x1="524" y1="10.5" x2="518" y2="10.5" stroke="#1a1a1a" stroke-width="1.2"/>
<line x1="324.5" y1="84" x2="324.5" y2="95" stroke="#1a1a1a" stroke-width="1.2"/>
<line x1="362.5" y1="84" x2="362.5" y2="90" stroke="#1a1a1a" stroke-width="1.2"/>
<line x1="362.5" y1="1" x2="362.5" y2="7" stroke="#1a1a1a" stroke-width="1.2"/>
<line x1="400.5" y1="84" x2="400.5" y2="95" stroke="#1a1a1a" stroke-width="1.2"/>
<line x1="400.5" y1="1" x2="400.5" y2="12" stroke="#1a1a1a" stroke-width="1.2"/>
<line x1="438.5" y1="84" x2="438.5" y2="90" stroke="#1a1a1a" stroke-width="1.2"/>
<line x1="438.5" y1="1" x2="438.5" y2="7" stroke="#1a1a1a" stroke-width="1.2"/>
<line x1="476.5" y1="84" x2="476.5" y2="95" stroke="#1a1a1a" stroke-width="1.2"/>
<line x1="476.5" y1="1" x2="476.5" y2="12" stroke="#1a1a1a" stroke-width="1.2"/>
<line x1="513.5" y1="84" x2="513.5" y2="90" stroke="#1a1a1a" stroke-width="1.2"/>
<line x1="513.5" y1="1" x2="513.5" y2="7" stroke="#1a1a1a" stroke-width="1.2"/>
<rect x="324.5" y="121.5" width="200.0" height="84.0" fill="none" stroke="#1a1a1a" stroke-width="1.2"/>
<line x1="313" y1="205.5" x2="325" y2="205.5" stroke="#1a1a1a" stroke-width="1.2"/>
<line x1="524" y1="205.5" x2="512" y2="205.5" stroke="#1a1a1a" stroke-width="1.2"/>
<line x1="319" y1="192.5" x2="325" y2="192.5" stroke="#1a1a1a" stroke-width="1.2"/>
<line x1="524" y1="192.5" x2="518" y2="192.5" stroke="#1a1a1a" stroke-width="1.2"/>
<line x1="319" y1="179.5" x2="325" y2="179.5" stroke="#1a1a1a" stroke-width="1.2"/>
<line x1="524" y1="179.5" x2="518" y2="179.5" stroke="#1a1a1a" stroke-width="1.2"/>
<line x1="319" y1="166.5" x2="325" y2="166.5" stroke="#1a1a1a" stroke-width="1.2"/>
<line x1="524" y1="166.5" x2="518" y2="166.5" stroke="#1a1a1a" stroke-width="1.2"/>
<line x1="319" y1="153.5" x2="325" y2="153.5" stroke="#1a1a1a" stroke-width="1.2"/>
<line x1="524" y1="153.5" x2="518" y2="153.5" stroke="#1a1a1a" stroke-width="1.2"/>
<line x1="313" y1="140.5" x2="325" y2="140.5" stroke="#1a1a1a" stroke-width="1.2"/>
<line x1="524" y1="140.5" x2="512" y2="140.5" stroke="#1a1a1a" stroke-width="1.2"/>
<line x1="319" y1="127.5" x2="325" y2="127.5" stroke="#1a1a1a" stroke-width="1.2"/>
<line x1="524" y1="127.5" x2="518" y2="127.5" stroke="#1a1a1a" stroke-width="1.2"/>
<line x1="324.5" y1="205" x2="324.5" y2="216" stroke="#1a1a1a" stroke-width="1.2"/>
<line x1="362.5" y1="205" x2="362.5" y2="211" stroke="#1a1a1a" stroke-width="1.2"/>
<line x1="362.5" y1="121" x2="362.5" y2="127" stroke="#1a1a1a" stroke-width="1.2"/>
<line x1="400.5" y1="205" x2="400.5" y2="216" stroke="#1a1a1a" stroke-width="1.2"/>
<line x1="400.5" y1="121" x2="400.5" y2="132" stroke="#1a1a1a" stroke-width="1.2"/>
<line x1="438.5" y1="205" x2="438.5" y2="211" stroke="#1a1a1a" stroke-width="1.2"/>
<line x1="438.5" y1="121" x2="438.5" y2="127" stroke="#1a1a1a" stroke-width="1.2"/>
<line x1="476.5" y1="205" x2="476.5" y2="216" stroke="#1a1a1a" stroke-width="1.2"/>
<line x1="476.5" y1="121" x2="476.5" y2="132" stroke="#1a1a1a" stroke-width="1.2"/>
<line x1="513.5" y1="205" x2="513.5" y2="211" stroke="#1a1a1a" stroke-width="1.2"/>
<line x1="513.5" y1="121" x2="513.5" y2="127" stroke="#1a1a1a" stroke-width="1.2"/>
<text x="306.80" y="145.90" font-family="Liberation Sans" font-size="17.6" text-anchor="end" fill="#111" >50</text>
<text x="306.80" y="210.70" font-family="Liberation Sans" font-size="17.6" text-anchor="end" fill="#111" >0</text>
<text x="334.27" y="148.93" font-family="Liberation Sans" font-size="21.28" textLength="25.79" lengthAdjust="spacingAndGlyphs" fill="#111" >(c)</text>
<text transform="translate(281.60,210.60) rotate(-90)" x="-1.32" y="0" font-family="Liberation Sans" font-size="14.00" textLength="77.59" lengthAdjust="spacingAndGlyphs" fill="#111" >[Br<tspan font-size="0.64em" dy="-0.36em">-</tspan><tspan dy="0.23em">] (μM)</tspan></text>
<path d="M320.50,208.10 L329.90,208.10 L325.20,200.00 Z" fill="#fff" stroke="#111" stroke-width="1.2" stroke-linejoin="miter"/>
<path d="M328.06,202.60 L337.46,202.60 L332.76,194.50 Z" fill="#fff" stroke="#111" stroke-width="1.2" stroke-linejoin="miter"/>
<path d="M335.63,197.90 L345.03,197.90 L340.33,189.80 Z" fill="#fff" stroke="#111" stroke-width="1.2" stroke-linejoin="miter"/>
<path d="M343.19,193.20 L352.59,193.20 L347.89,185.10 Z" fill="#fff" stroke="#111" stroke-width="1.2" stroke-linejoin="miter"/>
<path d="M350.76,189.40 L360.16,189.40 L355.46,181.30 Z" fill="#fff" stroke="#111" stroke-width="1.2" stroke-linejoin="miter"/>
<path d="M358.32,185.10 L367.72,185.10 L363.02,177.00 Z" fill="#fff" stroke="#111" stroke-width="1.2" stroke-linejoin="miter"/>
<path d="M365.89,182.00 L375.29,182.00 L370.59,173.90 Z" fill="#fff" stroke="#111" stroke-width="1.2" stroke-linejoin="miter"/>
<path d="M373.45,177.30 L382.85,177.30 L378.15,169.20 Z" fill="#fff" stroke="#111" stroke-width="1.2" stroke-linejoin="miter"/>
<path d="M381.02,173.90 L390.42,173.90 L385.72,165.80 Z" fill="#fff" stroke="#111" stroke-width="1.2" stroke-linejoin="miter"/>
<path d="M388.58,170.70 L397.98,170.70 L393.28,162.60 Z" fill="#fff" stroke="#111" stroke-width="1.2" stroke-linejoin="miter"/>
<path d="M396.15,165.70 L405.55,165.70 L400.85,157.60 Z" fill="#fff" stroke="#111" stroke-width="1.2" stroke-linejoin="miter"/>
<path d="M403.71,167.90 L413.11,167.90 L408.41,159.80 Z" fill="#fff" stroke="#111" stroke-width="1.2" stroke-linejoin="miter"/>
<path d="M411.28,161.40 L420.68,161.40 L415.98,153.30 Z" fill="#fff" stroke="#111" stroke-width="1.2" stroke-linejoin="miter"/>
<path d="M418.84,157.10 L428.24,157.10 L423.54,149.00 Z" fill="#fff" stroke="#111" stroke-width="1.2" stroke-linejoin="miter"/>
<path d="M426.41,156.30 L435.81,156.30 L431.11,148.20 Z" fill="#fff" stroke="#111" stroke-width="1.2" stroke-linejoin="miter"/>
<path d="M433.97,155.00 L443.37,155.00 L438.67,146.90 Z" fill="#fff" stroke="#111" stroke-width="1.2" stroke-linejoin="miter"/>
<path d="M441.54,154.50 L450.94,154.50 L446.24,146.40 Z" fill="#fff" stroke="#111" stroke-width="1.2" stroke-linejoin="miter"/>
<path d="M449.10,141.40 L458.50,141.40 L453.80,133.30 Z" fill="#fff" stroke="#111" stroke-width="1.2" stroke-linejoin="miter"/>
<path d="M456.67,147.60 L466.07,147.60 L461.37,139.50 Z" fill="#fff" stroke="#111" stroke-width="1.2" stroke-linejoin="miter"/>
<path d="M464.23,148.90 L473.63,148.90 L468.93,140.80 Z" fill="#fff" stroke="#111" stroke-width="1.2" stroke-linejoin="miter"/>
<path d="M471.80,144.60 L481.20,144.60 L476.50,136.50 Z" fill="#fff" stroke="#111" stroke-width="1.2" stroke-linejoin="miter"/>
<path d="M479.36,147.90 L488.76,147.90 L484.06,139.80 Z" fill="#fff" stroke="#111" stroke-width="1.2" stroke-linejoin="miter"/>
<path d="M486.93,144.60 L496.33,144.60 L491.63,136.50 Z" fill="#fff" stroke="#111" stroke-width="1.2" stroke-linejoin="miter"/>
<path d="M494.49,136.70 L503.89,136.70 L499.19,128.60 Z" fill="#fff" stroke="#111" stroke-width="1.2" stroke-linejoin="miter"/>
<path d="M502.06,141.40 L511.46,141.40 L506.76,133.30 Z" fill="#fff" stroke="#111" stroke-width="1.2" stroke-linejoin="miter"/>
<path d="M324.70,205.20 L326.21,204.05 L327.73,202.92 L329.24,201.80 L330.75,200.71 L332.26,199.62 L333.78,198.56 L335.29,197.51 L336.80,196.47 L338.32,195.45 L339.83,194.45 L341.34,193.46 L342.86,192.48 L344.37,191.52 L345.88,190.57 L347.39,189.64 L348.91,188.72 L350.42,187.81 L351.93,186.92 L353.45,186.04 L354.96,185.17 L356.47,184.32 L357.99,183.48 L359.50,182.65 L361.01,181.83 L362.52,181.03 L364.04,180.23 L365.55,179.45 L367.06,178.68 L368.58,177.92 L370.09,177.18 L371.60,176.44 L373.12,175.71 L374.63,175.00 L376.14,174.29 L377.65,173.60 L379.17,172.92 L380.68,172.24 L382.19,171.58 L383.71,170.93 L385.22,170.28 L386.73,169.65 L388.25,169.02 L389.76,168.40 L391.27,167.80 L392.78,167.20 L394.30,166.61 L395.81,166.03 L397.32,165.45 L398.84,164.89 L400.35,164.34 L401.86,163.79 L403.38,163.25 L404.89,162.72 L406.40,162.19 L407.91,161.68 L409.43,161.17 L410.94,160.67 L412.45,160.17 L413.97,159.69 L415.48,159.21 L416.99,158.74 L418.51,158.27 L420.02,157.81 L421.53,157.36 L423.04,156.92 L424.56,156.48 L426.07,156.04 L427.58,155.62 L429.10,155.20 L430.61,154.79 L432.12,154.38 L433.64,153.98 L435.15,153.58 L436.66,153.19 L438.17,152.81 L439.69,152.43 L441.20,152.06 L442.71,151.69 L444.23,151.33 L445.74,150.97" fill="none" stroke="#111" stroke-width="1.1" stroke-dasharray="12,5"/>
<line x1="456.00" y1="147.00" x2="506.70" y2="129.40" stroke="#111" stroke-width="1.1" stroke-dasharray="12,5"/>
<rect x="324.5" y="121.5" width="200.0" height="84.0" fill="none" stroke="#1a1a1a" stroke-width="1.2"/>
<line x1="313" y1="205.5" x2="325" y2="205.5" stroke="#1a1a1a" stroke-width="1.2"/>
<line x1="524" y1="205.5" x2="512" y2="205.5" stroke="#1a1a1a" stroke-width="1.2"/>
<line x1="319" y1="192.5" x2="325" y2="192.5" stroke="#1a1a1a" stroke-width="1.2"/>
<line x1="524" y1="192.5" x2="518" y2="192.5" stroke="#1a1a1a" stroke-width="1.2"/>
<line x1="319" y1="179.5" x2="325" y2="179.5" stroke="#1a1a1a" stroke-width="1.2"/>
<line x1="524" y1="179.5" x2="518" y2="179.5" stroke="#1a1a1a" stroke-width="1.2"/>
<line x1="319" y1="166.5" x2="325" y2="166.5" stroke="#1a1a1a" stroke-width="1.2"/>
<line x1="524" y1="166.5" x2="518" y2="166.5" stroke="#1a1a1a" stroke-width="1.2"/>
<line x1="319" y1="153.5" x2="325" y2="153.5" stroke="#1a1a1a" stroke-width="1.2"/>
<line x1="524" y1="153.5" x2="518" y2="153.5" stroke="#1a1a1a" stroke-width="1.2"/>
<line x1="313" y1="140.5" x2="325" y2="140.5" stroke="#1a1a1a" stroke-width="1.2"/>
<line x1="524" y1="140.5" x2="512" y2="140.5" stroke="#1a1a1a" stroke-width="1.2"/>
<line x1="319" y1="127.5" x2="325" y2="127.5" stroke="#1a1a1a" stroke-width="1.2"/>
<line x1="524" y1="127.5" x2="518" y2="127.5" stroke="#1a1a1a" stroke-width="1.2"/>
<line x1="324.5" y1="205" x2="324.5" y2="216" stroke="#1a1a1a" stroke-width="1.2"/>
<line x1="362.5" y1="205" x2="362.5" y2="211" stroke="#1a1a1a" stroke-width="1.2"/>
<line x1="362.5" y1="121" x2="362.5" y2="127" stroke="#1a1a1a" stroke-width="1.2"/>
<line x1="400.5" y1="205" x2="400.5" y2="216" stroke="#1a1a1a" stroke-width="1.2"/>
<line x1="400.5" y1="121" x2="400.5" y2="132" stroke="#1a1a1a" stroke-width="1.2"/>
<line x1="438.5" y1="205" x2="438.5" y2="211" stroke="#1a1a1a" stroke-width="1.2"/>
<line x1="438.5" y1="121" x2="438.5" y2="127" stroke="#1a1a1a" stroke-width="1.2"/>
<line x1="476.5" y1="205" x2="476.5" y2="216" stroke="#1a1a1a" stroke-width="1.2"/>
<line x1="476.5" y1="121" x2="476.5" y2="132" stroke="#1a1a1a" stroke-width="1.2"/>
<line x1="513.5" y1="205" x2="513.5" y2="211" stroke="#1a1a1a" stroke-width="1.2"/>
<line x1="513.5" y1="121" x2="513.5" y2="127" stroke="#1a1a1a" stroke-width="1.2"/>
<rect x="324.5" y="241.5" width="200.0" height="85.0" fill="none" stroke="#1a1a1a" stroke-width="1.2"/>
<line x1="313" y1="326.5" x2="325" y2="326.5" stroke="#1a1a1a" stroke-width="1.2"/>
<line x1="524" y1="326.5" x2="512" y2="326.5" stroke="#1a1a1a" stroke-width="1.2"/>
<line x1="319" y1="318.5" x2="325" y2="318.5" stroke="#1a1a1a" stroke-width="1.2"/>
<line x1="524" y1="318.5" x2="518" y2="318.5" stroke="#1a1a1a" stroke-width="1.2"/>
<line x1="319" y1="310.5" x2="325" y2="310.5" stroke="#1a1a1a" stroke-width="1.2"/>
<line x1="524" y1="310.5" x2="518" y2="310.5" stroke="#1a1a1a" stroke-width="1.2"/>
<line x1="319" y1="302.5" x2="325" y2="302.5" stroke="#1a1a1a" stroke-width="1.2"/>
<line x1="524" y1="302.5" x2="518" y2="302.5" stroke="#1a1a1a" stroke-width="1.2"/>
<line x1="319" y1="295.5" x2="325" y2="295.5" stroke="#1a1a1a" stroke-width="1.2"/>
<line x1="524" y1="295.5" x2="518" y2="295.5" stroke="#1a1a1a" stroke-width="1.2"/>
<line x1="313" y1="287.5" x2="325" y2="287.5" stroke="#1a1a1a" stroke-width="1.2"/>
<line x1="524" y1="287.5" x2="512" y2="287.5" stroke="#1a1a1a" stroke-width="1.2"/>
<line x1="319" y1="279.5" x2="325" y2="279.5" stroke="#1a1a1a" stroke-width="1.2"/>
<line x1="524" y1="279.5" x2="518" y2="279.5" stroke="#1a1a1a" stroke-width="1.2"/>
<line x1="319" y1="271.5" x2="325" y2="271.5" stroke="#1a1a1a" stroke-width="1.2"/>
<line x1="524" y1="271.5" x2="518" y2="271.5" stroke="#1a1a1a" stroke-width="1.2"/>
<line x1="319" y1="264.5" x2="325" y2="264.5" stroke="#1a1a1a" stroke-width="1.2"/>
<line x1="524" y1="264.5" x2="518" y2="264.5" stroke="#1a1a1a" stroke-width="1.2"/>
<line x1="319" y1="256.5" x2="325" y2="256.5" stroke="#1a1a1a" stroke-width="1.2"/>
<line x1="524" y1="256.5" x2="518" y2="256.5" stroke="#1a1a1a" stroke-width="1.2"/>
<line x1="313" y1="248.5" x2="325" y2="248.5" stroke="#1a1a1a" stroke-width="1.2"/>
<line x1="524" y1="248.5" x2="512" y2="248.5" stroke="#1a1a1a" stroke-width="1.2"/>
<line x1="324.5" y1="326" x2="324.5" y2="337" stroke="#1a1a1a" stroke-width="1.2"/>
<line x1="362.5" y1="326" x2="362.5" y2="332" stroke="#1a1a1a" stroke-width="1.2"/>
<line x1="362.5" y1="242" x2="362.5" y2="248" stroke="#1a1a1a" stroke-width="1.2"/>
<line x1="400.5" y1="326" x2="400.5" y2="337" stroke="#1a1a1a" stroke-width="1.2"/>
<line x1="400.5" y1="242" x2="400.5" y2="253" stroke="#1a1a1a" stroke-width="1.2"/>
<line x1="438.5" y1="326" x2="438.5" y2="332" stroke="#1a1a1a" stroke-width="1.2"/>
<line x1="438.5" y1="242" x2="438.5" y2="248" stroke="#1a1a1a" stroke-width="1.2"/>
<line x1="476.5" y1="326" x2="476.5" y2="337" stroke="#1a1a1a" stroke-width="1.2"/>
<line x1="476.5" y1="242" x2="476.5" y2="253" stroke="#1a1a1a" stroke-width="1.2"/>
<line x1="513.5" y1="326" x2="513.5" y2="332" stroke="#1a1a1a" stroke-width="1.2"/>
<line x1="513.5" y1="242" x2="513.5" y2="248" stroke="#1a1a1a" stroke-width="1.2"/>
<text x="306.80" y="254.20" font-family="Liberation Sans" font-size="17.6" text-anchor="end" fill="#111" >10</text>
<text x="306.80" y="292.85" font-family="Liberation Sans" font-size="17.6" text-anchor="end" fill="#111" >5</text>
<text x="306.80" y="331.50" font-family="Liberation Sans" font-size="17.6" text-anchor="end" fill="#111" >0</text>
<line x1="324.5" y1="326" x2="324.5" y2="337" stroke="#1a1a1a" stroke-width="1.2"/>
<text x="333.86" y="316.69" font-family="Liberation Sans" font-size="21.49" textLength="27.33" lengthAdjust="spacingAndGlyphs" fill="#111" >(d)</text>
<text transform="translate(280.90,313.20) rotate(-90)" x="-1.15" y="0" font-family="Liberation Sans" font-size="14.00" textLength="58.94" lengthAdjust="spacingAndGlyphs" fill="#111" >[S] (μM)</text>
<rect x="320.40" y="243.90" width="9" height="9" fill="#fff" stroke="#111" stroke-width="1.2"/>
<rect x="327.96" y="248.60" width="9" height="9" fill="#fff" stroke="#111" stroke-width="1.2"/>
<rect x="335.53" y="252.30" width="9" height="9" fill="#fff" stroke="#111" stroke-width="1.2"/>
<rect x="343.09" y="256.10" width="9" height="9" fill="#fff" stroke="#111" stroke-width="1.2"/>
<rect x="350.66" y="258.90" width="9" height="9" fill="#fff" stroke="#111" stroke-width="1.2"/>
<rect x="358.22" y="261.30" width="9" height="9" fill="#fff" stroke="#111" stroke-width="1.2"/>
<rect x="365.79" y="263.60" width="9" height="9" fill="#fff" stroke="#111" stroke-width="1.2"/>
<rect x="373.35" y="266.40" width="9" height="9" fill="#fff" stroke="#111" stroke-width="1.2"/>
<rect x="380.92" y="269.20" width="9" height="9" fill="#fff" stroke="#111" stroke-width="1.2"/>
<rect x="388.48" y="272.00" width="9" height="9" fill="#fff" stroke="#111" stroke-width="1.2"/>
<rect x="396.05" y="275.70" width="9" height="9" fill="#fff" stroke="#111" stroke-width="1.2"/>
<rect x="403.61" y="273.90" width="9" height="9" fill="#fff" stroke="#111" stroke-width="1.2"/>
<rect x="411.18" y="278.50" width="9" height="9" fill="#fff" stroke="#111" stroke-width="1.2"/>
<rect x="418.74" y="282.30" width="9" height="9" fill="#fff" stroke="#111" stroke-width="1.2"/>
<rect x="426.31" y="282.60" width="9" height="9" fill="#fff" stroke="#111" stroke-width="1.2"/>
<rect x="433.87" y="283.90" width="9" height="9" fill="#fff" stroke="#111" stroke-width="1.2"/>
<rect x="441.44" y="284.50" width="9" height="9" fill="#fff" stroke="#111" stroke-width="1.2"/>
<rect x="449.00" y="293.90" width="9" height="9" fill="#fff" stroke="#111" stroke-width="1.2"/>
<rect x="456.57" y="289.20" width="9" height="9" fill="#fff" stroke="#111" stroke-width="1.2"/>
<rect x="464.13" y="288.20" width="9" height="9" fill="#fff" stroke="#111" stroke-width="1.2"/>
<rect x="471.70" y="291.00" width="9" height="9" fill="#fff" stroke="#111" stroke-width="1.2"/>
<rect x="479.26" y="289.20" width="9" height="9" fill="#fff" stroke="#111" stroke-width="1.2"/>
<rect x="486.83" y="291.00" width="9" height="9" fill="#fff" stroke="#111" stroke-width="1.2"/>
<rect x="494.39" y="296.70" width="9" height="9" fill="#fff" stroke="#111" stroke-width="1.2"/>
<rect x="501.96" y="293.90" width="9" height="9" fill="#fff" stroke="#111" stroke-width="1.2"/>
<path d="M324.70,248.70 L326.21,249.53 L327.73,250.36 L329.24,251.17 L330.75,251.97 L332.26,252.76 L333.78,253.54 L335.29,254.31 L336.80,255.07 L338.32,255.81 L339.83,256.55 L341.34,257.28 L342.86,258.00 L344.37,258.70 L345.88,259.40 L347.39,260.09 L348.91,260.77 L350.42,261.44 L351.93,262.10 L353.45,262.75 L354.96,263.39 L356.47,264.03 L357.99,264.65 L359.50,265.27 L361.01,265.88 L362.52,266.47 L364.04,267.07 L365.55,267.65 L367.06,268.22 L368.58,268.79 L370.09,269.35 L371.60,269.90 L373.12,270.45 L374.63,270.98 L376.14,271.51 L377.65,272.04 L379.17,272.55 L380.68,273.06 L382.19,273.56 L383.71,274.06 L385.22,274.54 L386.73,275.02 L388.25,275.50 L389.76,275.97 L391.27,276.43 L392.78,276.88 L394.30,277.33 L395.81,277.77 L397.32,278.21 L398.84,278.64 L400.35,279.07 L401.86,279.48 L403.38,279.90 L404.89,280.30 L406.40,280.71 L407.91,281.10 L409.43,281.49 L410.94,281.88 L412.45,282.26 L413.97,282.63 L415.48,283.00 L416.99,283.37 L418.51,283.73 L420.02,284.08 L421.53,284.43 L423.04,284.78 L424.56,285.12 L426.07,285.46 L427.58,285.79 L429.10,286.11 L430.61,286.44 L432.12,286.75 L433.64,287.07 L435.15,287.38 L436.66,287.68 L438.17,287.98 L439.69,288.28 L441.20,288.57 L442.71,288.86 L444.23,289.15 L445.74,289.43 L447.25,289.70 L448.77,289.98 L450.28,290.25 L451.79,290.51 L453.30,290.77 L454.82,291.03 L456.33,291.29 L457.84,291.54 L459.36,291.79 L460.87,292.03 L462.38,292.27 L463.90,292.51 L465.41,292.75 L466.92,292.98 L468.43,293.21 L469.95,293.43 L471.46,293.65 L472.97,293.87 L474.49,294.09 L476.00,294.30 L477.51,294.51 L479.03,294.72 L480.54,294.92 L482.05,295.12 L483.56,295.32 L485.08,295.52 L486.59,295.71 L488.10,295.90 L489.62,296.09 L491.13,296.28 L492.64,296.46 L494.16,296.64 L495.67,296.82 L497.18,296.99 L498.69,297.17 L500.21,297.34 L501.72,297.51 L503.23,297.67" fill="none" stroke="#111" stroke-width="1.1" stroke-dasharray="12,5"/>
<rect x="324.5" y="241.5" width="200.0" height="85.0" fill="none" stroke="#1a1a1a" stroke-width="1.2"/>
<line x1="313" y1="326.5" x2="325" y2="326.5" stroke="#1a1a1a" stroke-width="1.2"/>
<line x1="524" y1="326.5" x2="512" y2="326.5" stroke="#1a1a1a" stroke-width="1.2"/>
<line x1="319" y1="318.5" x2="325" y2="318.5" stroke="#1a1a1a" stroke-width="1.2"/>
<line x1="524" y1="318.5" x2="518" y2="318.5" stroke="#1a1a1a" stroke-width="1.2"/>
<line x1="319" y1="310.5" x2="325" y2="310.5" stroke="#1a1a1a" stroke-width="1.2"/>
<line x1="524" y1="310.5" x2="518" y2="310.5" stroke="#1a1a1a" stroke-width="1.2"/>
<line x1="319" y1="302.5" x2="325" y2="302.5" stroke="#1a1a1a" stroke-width="1.2"/>
<line x1="524" y1="302.5" x2="518" y2="302.5" stroke="#1a1a1a" stroke-width="1.2"/>
<line x1="319" y1="295.5" x2="325" y2="295.5" stroke="#1a1a1a" stroke-width="1.2"/>
<line x1="524" y1="295.5" x2="518" y2="295.5" stroke="#1a1a1a" stroke-width="1.2"/>
<line x1="313" y1="287.5" x2="325" y2="287.5" stroke="#1a1a1a" stroke-width="1.2"/>
<line x1="524" y1="287.5" x2="512" y2="287.5" stroke="#1a1a1a" stroke-width="1.2"/>
<line x1="319" y1="279.5" x2="325" y2="279.5" stroke="#1a1a1a" stroke-width="1.2"/>
<line x1="524" y1="279.5" x2="518" y2="279.5" stroke="#1a1a1a" stroke-width="1.2"/>
<line x1="319" y1="271.5" x2="325" y2="271.5" stroke="#1a1a1a" stroke-width="1.2"/>
<line x1="524" y1="271.5" x2="518" y2="271.5" stroke="#1a1a1a" stroke-width="1.2"/>
<line x1="319" y1="264.5" x2="325" y2="264.5" stroke="#1a1a1a" stroke-width="1.2"/>
<line x1="524" y1="264.5" x2="518" y2="264.5" stroke="#1a1a1a" stroke-width="1.2"/>
<line x1="319" y1="256.5" x2="325" y2="256.5" stroke="#1a1a1a" stroke-width="1.2"/>
<line x1="524" y1="256.5" x2="518" y2="256.5" stroke="#1a1a1a" stroke-width="1.2"/>
<line x1="313" y1="248.5" x2="325" y2="248.5" stroke="#1a1a1a" stroke-width="1.2"/>
<line x1="524" y1="248.5" x2="512" y2="248.5" stroke="#1a1a1a" stroke-width="1.2"/>
<line x1="324.5" y1="326" x2="324.5" y2="337" stroke="#1a1a1a" stroke-width="1.2"/>
<line x1="362.5" y1="326" x2="362.5" y2="332" stroke="#1a1a1a" stroke-width="1.2"/>
<line x1="362.5" y1="242" x2="362.5" y2="248" stroke="#1a1a1a" stroke-width="1.2"/>
<line x1="400.5" y1="326" x2="400.5" y2="337" stroke="#1a1a1a" stroke-width="1.2"/>
<line x1="400.5" y1="242" x2="400.5" y2="253" stroke="#1a1a1a" stroke-width="1.2"/>
<line x1="438.5" y1="326" x2="438.5" y2="332" stroke="#1a1a1a" stroke-width="1.2"/>
<line x1="438.5" y1="242" x2="438.5" y2="248" stroke="#1a1a1a" stroke-width="1.2"/>
<line x1="476.5" y1="326" x2="476.5" y2="337" stroke="#1a1a1a" stroke-width="1.2"/>
<line x1="476.5" y1="242" x2="476.5" y2="253" stroke="#1a1a1a" stroke-width="1.2"/>
<line x1="513.5" y1="326" x2="513.5" y2="332" stroke="#1a1a1a" stroke-width="1.2"/>
<line x1="513.5" y1="242" x2="513.5" y2="248" stroke="#1a1a1a" stroke-width="1.2"/>
<text x="324.40" y="355.20" font-family="Liberation Sans" font-size="17.6" text-anchor="middle" fill="#111" >0</text>
<text x="400.05" y="355.20" font-family="Liberation Sans" font-size="17.6" text-anchor="middle" fill="#111" >100</text>
<text x="475.70" y="355.20" font-family="Liberation Sans" font-size="17.6" text-anchor="middle" fill="#111" >200</text>
<text x="380.74" y="382.10" font-family="Liberation Sans" font-size="17.50" textLength="84.33" lengthAdjust="spacingAndGlyphs" fill="#111" >Time (min)</text>
<rect x="587.5" y="0.5" width="233.0" height="325.0" fill="none" stroke="#1a1a1a" stroke-width="1.2"/>
<line x1="575" y1="318.5" x2="587" y2="318.5" stroke="#1a1a1a" stroke-width="1.2"/>
<line x1="820" y1="318.5" x2="808" y2="318.5" stroke="#1a1a1a" stroke-width="1.2"/>
<line x1="581" y1="297.5" x2="587" y2="297.5" stroke="#1a1a1a" stroke-width="1.2"/>
<line x1="820" y1="297.5" x2="814" y2="297.5" stroke="#1a1a1a" stroke-width="1.2"/>
<line x1="581" y1="276.5" x2="587" y2="276.5" stroke="#1a1a1a" stroke-width="1.2"/>
<line x1="820" y1="276.5" x2="814" y2="276.5" stroke="#1a1a1a" stroke-width="1.2"/>
<line x1="581" y1="255.5" x2="587" y2="255.5" stroke="#1a1a1a" stroke-width="1.2"/>
<line x1="820" y1="255.5" x2="814" y2="255.5" stroke="#1a1a1a" stroke-width="1.2"/>
<line x1="581" y1="235.5" x2="587" y2="235.5" stroke="#1a1a1a" stroke-width="1.2"/>
<line x1="820" y1="235.5" x2="814" y2="235.5" stroke="#1a1a1a" stroke-width="1.2"/>
<line x1="575" y1="214.5" x2="587" y2="214.5" stroke="#1a1a1a" stroke-width="1.2"/>
<line x1="820" y1="214.5" x2="808" y2="214.5" stroke="#1a1a1a" stroke-width="1.2"/>
<line x1="581" y1="193.5" x2="587" y2="193.5" stroke="#1a1a1a" stroke-width="1.2"/>
<line x1="820" y1="193.5" x2="814" y2="193.5" stroke="#1a1a1a" stroke-width="1.2"/>
<line x1="581" y1="172.5" x2="587" y2="172.5" stroke="#1a1a1a" stroke-width="1.2"/>
<line x1="820" y1="172.5" x2="814" y2="172.5" stroke="#1a1a1a" stroke-width="1.2"/>
<line x1="581" y1="151.5" x2="587" y2="151.5" stroke="#1a1a1a" stroke-width="1.2"/>
<line x1="820" y1="151.5" x2="814" y2="151.5" stroke="#1a1a1a" stroke-width="1.2"/>
<line x1="581" y1="131.5" x2="587" y2="131.5" stroke="#1a1a1a" stroke-width="1.2"/>
<line x1="820" y1="131.5" x2="814" y2="131.5" stroke="#1a1a1a" stroke-width="1.2"/>
<line x1="575" y1="110.5" x2="587" y2="110.5" stroke="#1a1a1a" stroke-width="1.2"/>
<line x1="820" y1="110.5" x2="808" y2="110.5" stroke="#1a1a1a" stroke-width="1.2"/>
<line x1="587.5" y1="325" x2="587.5" y2="338" stroke="#1a1a1a" stroke-width="1.2"/>
<line x1="603.5" y1="325" x2="603.5" y2="331" stroke="#1a1a1a" stroke-width="1.2"/>
<line x1="603.5" y1="1" x2="603.5" y2="7" stroke="#1a1a1a" stroke-width="1.2"/>
<line x1="620.5" y1="325" x2="620.5" y2="331" stroke="#1a1a1a" stroke-width="1.2"/>
<line x1="620.5" y1="1" x2="620.5" y2="7" stroke="#1a1a1a" stroke-width="1.2"/>
<line x1="636.5" y1="325" x2="636.5" y2="331" stroke="#1a1a1a" stroke-width="1.2"/>
<line x1="636.5" y1="1" x2="636.5" y2="7" stroke="#1a1a1a" stroke-width="1.2"/>
<line x1="652.5" y1="325" x2="652.5" y2="331" stroke="#1a1a1a" stroke-width="1.2"/>
<line x1="652.5" y1="1" x2="652.5" y2="7" stroke="#1a1a1a" stroke-width="1.2"/>
<line x1="669.5" y1="325" x2="669.5" y2="331" stroke="#1a1a1a" stroke-width="1.2"/>
<line x1="669.5" y1="1" x2="669.5" y2="7" stroke="#1a1a1a" stroke-width="1.2"/>
<line x1="685.5" y1="325" x2="685.5" y2="331" stroke="#1a1a1a" stroke-width="1.2"/>
<line x1="685.5" y1="1" x2="685.5" y2="7" stroke="#1a1a1a" stroke-width="1.2"/>
<line x1="701.5" y1="325" x2="701.5" y2="331" stroke="#1a1a1a" stroke-width="1.2"/>
<line x1="701.5" y1="1" x2="701.5" y2="7" stroke="#1a1a1a" stroke-width="1.2"/>
<line x1="718.5" y1="325" x2="718.5" y2="331" stroke="#1a1a1a" stroke-width="1.2"/>
<line x1="718.5" y1="1" x2="718.5" y2="7" stroke="#1a1a1a" stroke-width="1.2"/>
<line x1="734.5" y1="325" x2="734.5" y2="331" stroke="#1a1a1a" stroke-width="1.2"/>
<line x1="734.5" y1="1" x2="734.5" y2="7" stroke="#1a1a1a" stroke-width="1.2"/>
<line x1="750.5" y1="325" x2="750.5" y2="338" stroke="#1a1a1a" stroke-width="1.2"/>
<line x1="750.5" y1="1" x2="750.5" y2="14" stroke="#1a1a1a" stroke-width="1.2"/>
<line x1="767.5" y1="325" x2="767.5" y2="331" stroke="#1a1a1a" stroke-width="1.2"/>
<line x1="767.5" y1="1" x2="767.5" y2="7" stroke="#1a1a1a" stroke-width="1.2"/>
<line x1="783.5" y1="325" x2="783.5" y2="331" stroke="#1a1a1a" stroke-width="1.2"/>
<line x1="783.5" y1="1" x2="783.5" y2="7" stroke="#1a1a1a" stroke-width="1.2"/>
<line x1="799.5" y1="325" x2="799.5" y2="331" stroke="#1a1a1a" stroke-width="1.2"/>
<line x1="799.5" y1="1" x2="799.5" y2="7" stroke="#1a1a1a" stroke-width="1.2"/>
<line x1="816.5" y1="325" x2="816.5" y2="331" stroke="#1a1a1a" stroke-width="1.2"/>
<line x1="816.5" y1="1" x2="816.5" y2="7" stroke="#1a1a1a" stroke-width="1.2"/>
<text x="569.80" y="115.80" font-family="Liberation Sans" font-size="17.6" text-anchor="end" fill="#111" >10</text>
<text x="569.80" y="219.80" font-family="Liberation Sans" font-size="17.6" text-anchor="end" fill="#111" >5</text>
<text x="569.80" y="323.80" font-family="Liberation Sans" font-size="17.6" text-anchor="end" fill="#111" >0</text>
<text x="587.40" y="354.40" font-family="Liberation Sans" font-size="17.6" text-anchor="middle" fill="#111" >0</text>
<text x="749.70" y="354.40" font-family="Liberation Sans" font-size="17.6" text-anchor="middle" fill="#111" >10000</text>
<text x="670.26" y="375.90" font-family="Liberation Sans" font-size="17.50" textLength="60.92" lengthAdjust="spacingAndGlyphs" fill="#111" >Time (s)</text>
<text transform="translate(548.60,254.30) rotate(-90)" x="-1.31" y="0" font-family="Liberation Sans" font-size="17.00" textLength="71.33" lengthAdjust="spacingAndGlyphs" fill="#111" >[S] (<tspan font-style="italic">μ</tspan> M)</text>
<text x="593.06" y="28.00" font-family="Liberation Sans" font-size="21.91" textLength="27.33" lengthAdjust="spacingAndGlyphs" fill="#111" >(e)</text>
<clipPath id="ce"><rect x="587.4" y="0.8" width="232.8" height="324.2"/></clipPath>
<g clip-path="url(#ce)">
<path d="M587.40,110.30 L588.38,111.14 L589.36,111.98 L590.34,112.81 L591.32,113.65 L592.30,114.47 L593.28,115.30 L594.26,116.12 L595.24,116.94 L596.22,117.75 L597.20,118.56 L598.18,119.37 L599.16,120.18 L600.14,120.98 L601.12,121.78 L602.10,122.57 L603.08,123.36 L604.06,124.15 L605.04,124.94 L606.02,125.72 L607.00,126.50 L607.98,127.28 L608.96,128.05 L609.94,128.82 L610.92,129.58 L611.89,130.35 L612.87,131.11 L613.85,131.87 L614.83,132.62 L615.81,133.37 L616.79,134.12 L617.77,134.86 L618.75,135.61 L619.73,136.35 L620.71,137.08 L621.69,137.82 L622.67,138.55 L623.65,139.27 L624.63,140.00 L625.61,140.72 L626.59,141.44 L627.57,142.15 L628.55,142.87 L629.53,143.57 L630.51,144.28 L631.49,144.99 L632.47,145.69 L633.45,146.39 L634.43,147.08 L635.41,147.77 L636.39,148.46 L637.37,149.15 L638.35,149.84 L639.33,150.52 L640.31,151.20 L641.29,151.87 L642.27,152.54 L643.25,153.22 L644.23,153.88 L645.21,154.55 L646.19,155.21 L647.17,155.87 L648.15,156.53 L649.13,157.18 L650.11,157.83 L651.09,158.48 L652.07,159.13 L653.05,159.77 L654.03,160.42 L655.01,161.05 L655.99,161.69 L656.97,162.32 L657.95,162.96 L658.93,163.58 L659.91,164.21 L660.88,164.83 L661.86,165.45 L662.84,166.07 L663.82,166.69 L664.80,167.30 L665.78,167.91 L666.76,168.52 L667.74,169.13 L668.72,169.73 L669.70,170.33 L670.68,170.93 L671.66,171.53 L672.64,172.12 L673.62,172.71 L674.60,173.30 L675.58,173.89 L676.56,174.47 L677.54,175.05 L678.52,175.63 L679.50,176.21 L680.48,176.79 L681.46,177.36 L682.44,177.93 L683.42,178.50 L684.40,179.06 L685.38,179.63 L686.36,180.19 L687.34,180.74 L688.32,181.30 L689.30,181.86 L690.28,182.41 L691.26,182.96 L692.24,183.51 L693.22,184.05 L694.20,184.59 L695.18,185.13 L696.16,185.67 L697.14,186.21 L698.12,186.74 L699.10,187.28 L700.08,187.81 L701.06,188.33 L702.04,188.86 L703.02,189.38 L704.00,189.91 L704.98,190.43 L705.96,190.94 L706.94,191.46 L707.92,191.97 L708.90,192.48 L709.88,192.99 L710.85,193.50 L711.83,194.00 L712.81,194.51 L713.79,195.01 L714.77,195.51 L715.75,196.00 L716.73,196.50 L717.71,196.99 L718.69,197.48 L719.67,197.97 L720.65,198.46 L721.63,198.94 L722.61,199.42 L723.59,199.91 L724.57,200.38 L725.55,200.86 L726.53,201.34 L727.51,201.81 L728.49,202.28 L729.47,202.75 L730.45,203.22 L731.43,203.68 L732.41,204.15 L733.39,204.61 L734.37,205.07 L735.35,205.53 L736.33,205.98 L737.31,206.44 L738.29,206.89 L739.27,207.34 L740.25,207.79 L741.23,208.24 L742.21,208.68 L743.19,209.13 L744.17,209.57 L745.15,210.01 L746.13,210.45 L747.11,210.88 L748.09,211.32 L749.07,211.75 L750.05,212.18 L751.03,212.61 L752.01,213.04 L752.99,213.46 L753.97,213.89 L754.95,214.31 L755.93,214.73 L756.91,215.15 L757.89,215.57 L758.87,215.98 L759.84,216.40 L760.82,216.81 L761.80,217.22 L762.78,217.63 L763.76,218.04 L764.74,218.44 L765.72,218.85 L766.70,219.25 L767.68,219.65 L768.66,220.05 L769.64,220.45 L770.62,220.84 L771.60,221.24 L772.58,221.63 L773.56,222.02 L774.54,222.41 L775.52,222.80 L776.50,223.18 L777.48,223.57 L778.46,223.95 L779.44,224.33 L780.42,224.71 L781.40,225.09 L782.38,225.47 L783.36,225.84 L784.34,226.22 L785.32,226.59 L786.30,226.96 L787.28,227.33 L788.26,227.70 L789.24,228.07 L790.22,228.43 L791.20,228.79 L792.18,229.16 L793.16,229.52 L794.14,229.88 L795.12,230.23 L796.10,230.59 L797.08,230.95 L798.06,231.30 L799.04,231.65 L800.02,232.00 L801.00,232.35 L801.98,232.70 L802.96,233.05 L803.94,233.39 L804.92,233.73 L805.90,234.08 L806.88,234.42 L807.86,234.76 L808.83,235.09 L809.81,235.43 L810.79,235.77 L811.77,236.10 L812.75,236.43 L813.73,236.76 L814.71,237.09 L815.69,237.42 L816.67,237.75 L817.65,238.07 L818.63,238.40 L819.61,238.72 L820.59,239.04" fill="none" stroke="#ff8a14" stroke-width="1.2" />
<path d="M587.40,110.30 L588.38,111.71 L589.36,113.10 L590.34,114.49 L591.32,115.86 L592.30,117.23 L593.28,118.59 L594.26,119.94 L595.24,121.28 L596.22,122.61 L597.20,123.93 L598.18,125.25 L599.16,126.55 L600.14,127.85 L601.12,129.13 L602.10,130.41 L603.08,131.68 L604.06,132.94 L605.04,134.20 L606.02,135.44 L607.00,136.67 L607.98,137.90 L608.96,139.12 L609.94,140.33 L610.92,141.53 L611.89,142.73 L612.87,143.91 L613.85,145.09 L614.83,146.26 L615.81,147.43 L616.79,148.58 L617.77,149.73 L618.75,150.87 L619.73,152.00 L620.71,153.12 L621.69,154.24 L622.67,155.35 L623.65,156.45 L624.63,157.54 L625.61,158.63 L626.59,159.71 L627.57,160.78 L628.55,161.84 L629.53,162.90 L630.51,163.95 L631.49,164.99 L632.47,166.03 L633.45,167.06 L634.43,168.08 L635.41,169.09 L636.39,170.10 L637.37,171.10 L638.35,172.10 L639.33,173.08 L640.31,174.07 L641.29,175.04 L642.27,176.01 L643.25,176.97 L644.23,177.92 L645.21,178.87 L646.19,179.82 L647.17,180.75 L648.15,181.68 L649.13,182.60 L650.11,183.52 L651.09,184.43 L652.07,185.34 L653.05,186.23 L654.03,187.13 L655.01,188.01 L655.99,188.89 L656.97,189.77 L657.95,190.64 L658.93,191.50 L659.91,192.36 L660.88,193.21 L661.86,194.05 L662.84,194.89 L663.82,195.72 L664.80,196.55 L665.78,197.38 L666.76,198.19 L667.74,199.00 L668.72,199.81 L669.70,200.61 L670.68,201.41 L671.66,202.20 L672.64,202.98 L673.62,203.76 L674.60,204.53 L675.58,205.30 L676.56,206.07 L677.54,206.82 L678.52,207.58 L679.50,208.33 L680.48,209.07 L681.46,209.81 L682.44,210.54 L683.42,211.27 L684.40,211.99 L685.38,212.71 L686.36,213.42 L687.34,214.13 L688.32,214.84 L689.30,215.53 L690.28,216.23 L691.26,216.92 L692.24,217.60 L693.22,218.28 L694.20,218.96 L695.18,219.63 L696.16,220.30 L697.14,220.96 L698.12,221.62 L699.10,222.27 L700.08,222.92 L701.06,223.56 L702.04,224.20 L703.02,224.84 L704.00,225.47 L704.98,226.10 L705.96,226.72 L706.94,227.34 L707.92,227.95 L708.90,228.57 L709.88,229.17 L710.85,229.77 L711.83,230.37 L712.81,230.97 L713.79,231.56 L714.77,232.14 L715.75,232.72 L716.73,233.30 L717.71,233.88 L718.69,234.45 L719.67,235.01 L720.65,235.58 L721.63,236.14 L722.61,236.69 L723.59,237.24 L724.57,237.79 L725.55,238.33 L726.53,238.87 L727.51,239.41 L728.49,239.94 L729.47,240.47 L730.45,241.00 L731.43,241.52 L732.41,242.04 L733.39,242.56 L734.37,243.07 L735.35,243.58 L736.33,244.08 L737.31,244.58 L738.29,245.08 L739.27,245.57 L740.25,246.07 L741.23,246.55 L742.21,247.04 L743.19,247.52 L744.17,248.00 L745.15,248.47 L746.13,248.95 L747.11,249.41 L748.09,249.88 L749.07,250.34 L750.05,250.80 L751.03,251.26 L752.01,251.71 L752.99,252.16 L753.97,252.61 L754.95,253.05 L755.93,253.49 L756.91,253.93" fill="none" stroke="#ff1a12" stroke-width="1.2" />
<path d="M587.40,110.30 L588.38,112.42 L589.36,114.81 L590.34,117.30 L591.32,119.85 L592.30,122.43 L593.28,125.02 L594.26,127.62 L595.24,130.23 L596.22,132.83 L597.20,135.43 L598.18,138.01 L599.16,140.58 L600.14,143.14 L601.12,145.67 L602.10,148.19 L603.08,150.69 L604.06,153.17 L605.04,155.62 L606.02,158.05 L607.00,160.46 L607.98,162.85 L608.96,165.20 L609.94,167.54 L610.92,169.85 L611.89,172.13 L612.87,174.38 L613.85,176.61 L614.83,178.82 L615.81,180.99 L616.79,183.14 L617.77,185.26 L618.75,187.36 L619.73,189.43 L620.71,191.47 L621.69,193.49 L622.67,195.48 L623.65,197.44 L624.63,199.38 L625.61,201.29 L626.59,203.18 L627.57,205.04 L628.55,206.87 L629.53,208.68 L630.51,210.47 L631.49,212.22 L632.47,213.96 L633.45,215.67 L634.43,217.35 L635.41,219.01 L636.39,220.65 L637.37,222.26 L638.35,223.85 L639.33,225.42 L640.31,226.96 L641.29,228.48 L642.27,229.98 L643.25,231.45 L644.23,232.90 L645.21,234.33 L646.19,235.74 L647.17,237.13 L648.15,238.50 L649.13,239.84 L650.11,241.17 L651.09,242.47 L652.07,243.76 L653.05,245.02 L654.03,246.27 L655.01,247.50 L655.99,248.70 L656.97,249.89 L657.95,251.06 L658.93,252.21 L659.91,253.34 L660.88,254.46 L661.86,255.56 L662.84,256.64 L663.82,257.70 L664.80,258.74 L665.78,259.77 L666.76,260.78 L667.74,261.78 L668.72,262.76 L669.70,263.72 L670.68,264.67 L671.66,265.61 L672.64,266.52 L673.62,267.43 L674.60,268.31 L675.58,269.19 L676.56,270.05 L677.54,270.89 L678.52,271.72 L679.50,272.54 L680.48,273.35 L681.46,274.14 L682.44,274.91 L683.42,275.68 L684.40,276.43 L685.38,277.17 L686.36,277.90 L687.34,278.61 L688.32,279.32 L689.30,280.01 L690.28,280.69 L691.26,281.35 L692.24,282.01 L693.22,282.66 L694.20,283.29 L695.18,283.92 L696.16,284.53 L697.14,285.13 L698.12,285.73 L699.10,286.31 L700.08,286.88 L701.06,287.45 L702.04,288.00 L703.02,288.54 L704.00,289.08 L704.98,289.60 L705.96,290.12 L706.94,290.63 L707.92,291.13 L708.90,291.62 L709.88,292.10 L710.85,292.57 L711.83,293.04 L712.81,293.49 L713.79,293.94 L714.77,294.39 L715.75,294.82 L716.73,295.25 L717.71,295.66 L718.69,296.08 L719.67,296.48 L720.65,296.88 L721.63,297.27 L722.61,297.65 L723.59,298.03 L724.57,298.40 L725.55,298.76 L726.53,299.12 L727.51,299.47 L728.49,299.82 L729.47,300.15 L730.45,300.49 L731.43,300.81 L732.41,301.14 L733.39,301.45 L734.37,301.76 L735.35,302.07 L736.33,302.36 L737.31,302.66 L738.29,302.95 L739.27,303.23 L740.25,303.51 L741.23,303.78 L742.21,304.05 L743.19,304.31 L744.17,304.57 L745.15,304.83 L746.13,305.08 L747.11,305.32 L748.09,305.56 L749.07,305.80 L750.05,306.03 L751.03,306.26 L752.01,306.48 L752.99,306.70 L753.97,306.92 L754.95,307.13 L755.93,307.34 L756.91,307.54 L757.89,307.74 L758.87,307.94" fill="none" stroke="#55aaee" stroke-width="1.2" />
<path d="M587.40,110.30 L588.38,116.84 L589.36,123.10 L590.34,129.11 L591.32,134.88 L592.30,140.41 L593.28,145.72 L594.26,150.81 L595.24,155.69 L596.22,160.38 L597.20,164.88 L598.18,169.20 L599.16,173.35 L600.14,177.33 L601.12,181.15 L602.10,184.82 L603.08,188.35 L604.06,191.73 L605.04,194.99 L606.02,198.12 L607.00,201.12 L607.98,204.01 L608.96,206.79 L609.94,209.46 L610.92,212.03 L611.89,214.50 L612.87,216.88 L613.85,219.17 L614.83,221.37 L615.81,223.49 L616.79,225.53 L617.77,227.49 L618.75,229.39 L619.73,231.21 L620.71,232.97 L621.69,234.66 L622.67,236.30 L623.65,237.87 L624.63,239.39 L625.61,240.86 L626.59,242.27 L627.57,243.64 L628.55,244.96 L629.53,246.23 L630.51,247.46 L631.49,248.65 L632.47,249.80 L633.45,250.92 L634.43,251.99 L635.41,253.03 L636.39,254.04 L637.37,255.01 L638.35,255.96 L639.33,256.87 L640.31,257.76 L641.29,258.62 L642.27,259.45 L643.25,260.26 L644.23,261.05 L645.21,261.81 L646.19,262.55 L647.17,263.27 L648.15,263.96 L649.13,264.64 L650.11,265.30 L651.09,265.94 L652.07,266.57 L653.05,267.18 L654.03,267.77 L655.01,268.34 L655.99,268.91 L656.97,269.45 L657.95,269.99 L658.93,270.51 L659.91,271.02 L660.88,271.52 L661.86,272.00 L662.84,272.47 L663.82,272.94 L664.80,273.39 L665.78,273.83 L666.76,274.27 L667.74,274.69 L668.72,275.10 L669.70,275.51 L670.68,275.91 L671.66,276.30 L672.64,276.68 L673.62,277.06 L674.60,277.43 L675.58,277.79 L676.56,278.14 L677.54,278.49 L678.52,278.83 L679.50,279.17 L680.48,279.50 L681.46,279.82 L682.44,280.14 L683.42,280.45 L684.40,280.76 L685.38,281.07 L686.36,281.37 L687.34,281.66 L688.32,281.95 L689.30,282.24 L690.28,282.52 L691.26,282.80 L692.24,283.07 L693.22,283.34 L694.20,283.61 L695.18,283.87 L696.16,284.13 L697.14,284.39 L698.12,284.64 L699.10,284.89 L700.08,285.13 L701.06,285.38 L702.04,285.62 L703.02,285.86 L704.00,286.09 L704.98,286.32 L705.96,286.55 L706.94,286.78 L707.92,287.01 L708.90,287.23 L709.88,287.45 L710.85,287.66 L711.83,287.88 L712.81,288.09 L713.79,288.30 L714.77,288.51 L715.75,288.72 L716.73,288.92 L717.71,289.13 L718.69,289.33 L719.67,289.53 L720.65,289.72 L721.63,289.92 L722.61,290.11 L723.59,290.30 L724.57,290.49 L725.55,290.68 L726.53,290.87 L727.51,291.05 L728.49,291.24 L729.47,291.42 L730.45,291.60 L731.43,291.78 L732.41,291.95 L733.39,292.13 L734.37,292.30 L735.35,292.48 L736.33,292.65 L737.31,292.82 L738.29,292.99 L739.27,293.15 L740.25,293.32 L741.23,293.49 L742.21,293.65 L743.19,293.81 L744.17,293.97 L745.15,294.13 L746.13,294.29 L747.11,294.45 L748.09,294.61 L749.07,294.76 L750.05,294.91 L751.03,295.07 L752.01,295.22 L752.99,295.37 L753.97,295.52 L754.95,295.67 L755.93,295.81 L756.91,295.96 L757.89,296.11 L758.87,296.25 L759.84,296.39 L760.82,296.54 L761.80,296.68 L762.78,296.82" fill="none" stroke="#a050f0" stroke-width="1.2" />
<path d="M587.40,110.30 L588.38,118.95 L589.36,127.17 L590.34,134.99 L591.32,142.42 L592.30,149.48 L593.28,156.19 L594.26,162.56 L595.24,168.62 L596.22,174.38 L597.20,179.86 L598.18,185.06 L599.16,190.01 L600.14,194.71 L601.12,199.17 L602.10,203.42 L603.08,207.45 L604.06,211.29 L605.04,214.93 L606.02,218.40 L607.00,221.69 L607.98,224.82 L608.96,227.80 L609.94,230.62 L610.92,233.31 L611.89,235.86 L612.87,238.29 L613.85,240.59 L614.83,242.79 L615.81,244.87 L616.79,246.85 L617.77,248.73 L618.75,250.52 L619.73,252.22 L620.71,253.84 L621.69,255.37 L622.67,256.83 L623.65,258.22 L624.63,259.54 L625.61,260.79 L626.59,261.98 L627.57,263.11 L628.55,264.19 L629.53,265.21 L630.51,266.18 L631.49,267.11 L632.47,267.98 L633.45,268.82 L634.43,269.61 L635.41,270.37 L636.39,271.08 L637.37,271.76 L638.35,272.41 L639.33,273.02 L640.31,273.61 L641.29,274.16 L642.27,274.69 L643.25,275.19 L644.23,275.67 L645.21,276.12 L646.19,276.55 L647.17,276.96 L648.15,277.35 L649.13,277.72 L650.11,278.07 L651.09,278.41 L652.07,278.73 L653.05,279.03 L654.03,279.31 L655.01,279.59 L655.99,279.85 L656.97,280.09 L657.95,280.33 L658.93,280.55 L659.91,280.76 L660.88,280.96 L661.86,281.15 L662.84,281.33 L663.82,281.51 L664.80,281.67 L665.78,281.83 L666.76,281.97 L667.74,282.11 L668.72,282.25 L669.70,282.37 L670.68,282.50 L671.66,282.61 L672.64,282.72 L673.62,282.82 L674.60,282.92 L675.58,283.02 L676.56,283.10 L677.54,283.19 L678.52,283.27 L679.50,283.35 L680.48,283.42 L681.46,283.49 L682.44,283.55 L683.42,283.62 L684.40,283.68 L685.38,283.73 L686.36,283.79 L687.34,283.84 L688.32,283.88 L689.30,283.93 L690.28,283.97 L691.26,284.02 L692.24,284.06 L693.22,284.09 L694.20,284.13 L695.18,284.16 L696.16,284.19 L697.14,284.23 L698.12,284.25 L699.10,284.28 L700.08,284.31 L701.06,284.33 L702.04,284.36 L703.02,284.38 L704.00,284.40 L704.98,284.42 L705.96,284.44 L706.94,284.46 L707.92,284.48 L708.90,284.49 L709.88,284.51 L710.85,284.52 L711.83,284.54 L712.81,284.55 L713.79,284.56 L714.77,284.58 L715.75,284.59 L716.73,284.60 L717.71,284.61 L718.69,284.62 L719.67,284.63 L720.65,284.64 L721.63,284.65 L722.61,284.66 L723.59,284.66 L724.57,284.67 L725.55,284.68 L726.53,284.68 L727.51,284.69 L728.49,284.70 L729.47,284.70 L730.45,284.71 L731.43,284.71 L732.41,284.72 L733.39,284.72 L734.37,284.73" fill="none" stroke="#60e020" stroke-width="1.2" />
<circle cx="597.23" cy="124.00" r="4.5" fill="#ff1a12"/>
<circle cx="607.06" cy="137.70" r="4.5" fill="#ff1a12"/>
<circle cx="616.89" cy="148.00" r="4.5" fill="#ff1a12"/>
<circle cx="626.72" cy="154.50" r="4.5" fill="#ff1a12"/>
<circle cx="636.55" cy="171.00" r="4.5" fill="#ff1a12"/>
<circle cx="646.38" cy="179.00" r="4.5" fill="#ff1a12"/>
<circle cx="656.21" cy="187.20" r="4.5" fill="#ff1a12"/>
<circle cx="666.04" cy="195.30" r="4.5" fill="#ff1a12"/>
<circle cx="675.87" cy="204.20" r="4.5" fill="#ff1a12"/>
<circle cx="685.70" cy="211.70" r="4.5" fill="#ff1a12"/>
<circle cx="695.53" cy="217.10" r="4.5" fill="#ff1a12"/>
<circle cx="705.36" cy="223.40" r="4.5" fill="#ff1a12"/>
<circle cx="715.19" cy="225.40" r="4.5" fill="#ff1a12"/>
<circle cx="725.02" cy="247.50" r="4.5" fill="#ff1a12"/>
<circle cx="734.85" cy="253.50" r="4.5" fill="#ff1a12"/>
<circle cx="744.68" cy="267.30" r="4.5" fill="#ff1a12"/>
<circle cx="754.51" cy="257.20" r="4.5" fill="#ff1a12"/>
<circle cx="764.34" cy="257.20" r="4.5" fill="#ff1a12"/>
<circle cx="774.17" cy="263.30" r="4.5" fill="#ff1a12"/>
<circle cx="784.00" cy="257.20" r="4.5" fill="#ff1a12"/>
<circle cx="793.83" cy="260.40" r="4.5" fill="#ff1a12"/>
<circle cx="803.66" cy="263.40" r="4.5" fill="#ff1a12"/>
<circle cx="813.49" cy="279.50" r="4.5" fill="#ff1a12"/>
<circle cx="597.23" cy="124.70" r="4.5" fill="#55aaee"/>
<circle cx="607.06" cy="149.40" r="4.5" fill="#55aaee"/>
<circle cx="616.89" cy="171.60" r="4.5" fill="#55aaee"/>
<circle cx="626.72" cy="209.60" r="4.5" fill="#55aaee"/>
<circle cx="636.55" cy="231.70" r="4.5" fill="#55aaee"/>
<circle cx="646.38" cy="235.50" r="4.5" fill="#55aaee"/>
<circle cx="656.21" cy="245.30" r="4.5" fill="#55aaee"/>
<circle cx="666.04" cy="263.00" r="4.5" fill="#55aaee"/>
<circle cx="675.87" cy="266.00" r="4.5" fill="#55aaee"/>
<circle cx="685.70" cy="269.10" r="4.5" fill="#55aaee"/>
<circle cx="695.53" cy="249.70" r="4.5" fill="#55aaee"/>
<circle cx="744.68" cy="297.80" r="4.5" fill="#55aaee"/>
<circle cx="754.51" cy="315.20" r="4.5" fill="#55aaee"/>
<circle cx="764.34" cy="305.60" r="4.5" fill="#55aaee"/>
<line x1="597.23" y1="150.00" x2="597.23" y2="203.00" stroke="#60e020" stroke-width="1.2" />
<line x1="592.73" y1="150.00" x2="601.73" y2="150.00" stroke="#60e020" stroke-width="1.2" />
<line x1="592.73" y1="203.00" x2="601.73" y2="203.00" stroke="#60e020" stroke-width="1.2" />
<line x1="607.06" y1="196.30" x2="607.06" y2="252.20" stroke="#60e020" stroke-width="1.2" />
<line x1="602.56" y1="196.30" x2="611.56" y2="196.30" stroke="#60e020" stroke-width="1.2" />
<line x1="602.56" y1="252.20" x2="611.56" y2="252.20" stroke="#60e020" stroke-width="1.2" />
<line x1="646.38" y1="278.60" x2="646.38" y2="301.20" stroke="#60e020" stroke-width="1.2" />
<line x1="641.88" y1="278.60" x2="650.88" y2="278.60" stroke="#60e020" stroke-width="1.2" />
<line x1="641.88" y1="301.20" x2="650.88" y2="301.20" stroke="#60e020" stroke-width="1.2" />
<line x1="656.21" y1="261.50" x2="656.21" y2="324.00" stroke="#60e020" stroke-width="1.2" />
<line x1="651.71" y1="261.50" x2="660.71" y2="261.50" stroke="#60e020" stroke-width="1.2" />
<line x1="651.71" y1="324.00" x2="660.71" y2="324.00" stroke="#60e020" stroke-width="1.2" />
<line x1="685.70" y1="280.90" x2="685.70" y2="291.00" stroke="#60e020" stroke-width="1.2" />
<line x1="681.20" y1="280.90" x2="690.20" y2="280.90" stroke="#60e020" stroke-width="1.2" />
<line x1="681.20" y1="291.00" x2="690.20" y2="291.00" stroke="#60e020" stroke-width="1.2" />
<line x1="695.53" y1="269.90" x2="695.53" y2="283.20" stroke="#60e020" stroke-width="1.2" />
<line x1="691.03" y1="269.90" x2="700.03" y2="269.90" stroke="#60e020" stroke-width="1.2" />
<line x1="691.03" y1="283.20" x2="700.03" y2="283.20" stroke="#60e020" stroke-width="1.2" />
<line x1="705.36" y1="298.40" x2="705.36" y2="322.20" stroke="#60e020" stroke-width="1.2" />
<line x1="700.86" y1="298.40" x2="709.86" y2="298.40" stroke="#60e020" stroke-width="1.2" />
<line x1="700.86" y1="322.20" x2="709.86" y2="322.20" stroke="#60e020" stroke-width="1.2" />
<line x1="616.89" y1="252.00" x2="616.89" y2="276.00" stroke="#60e020" stroke-width="1.2" />
<line x1="612.39" y1="252.00" x2="621.39" y2="252.00" stroke="#60e020" stroke-width="1.2" />
<line x1="612.39" y1="276.00" x2="621.39" y2="276.00" stroke="#60e020" stroke-width="1.2" />
<line x1="626.72" y1="282.00" x2="626.72" y2="305.00" stroke="#60e020" stroke-width="1.2" />
<line x1="622.22" y1="282.00" x2="631.22" y2="282.00" stroke="#60e020" stroke-width="1.2" />
<line x1="622.22" y1="305.00" x2="631.22" y2="305.00" stroke="#60e020" stroke-width="1.2" />
<line x1="636.55" y1="268.00" x2="636.55" y2="287.00" stroke="#60e020" stroke-width="1.2" />
<line x1="632.05" y1="268.00" x2="641.05" y2="268.00" stroke="#60e020" stroke-width="1.2" />
<line x1="632.05" y1="287.00" x2="641.05" y2="287.00" stroke="#60e020" stroke-width="1.2" />
<line x1="666.04" y1="266.00" x2="666.04" y2="282.00" stroke="#60e020" stroke-width="1.2" />
<line x1="661.54" y1="266.00" x2="670.54" y2="266.00" stroke="#60e020" stroke-width="1.2" />
<line x1="661.54" y1="282.00" x2="670.54" y2="282.00" stroke="#60e020" stroke-width="1.2" />
<line x1="675.87" y1="266.00" x2="675.87" y2="281.00" stroke="#60e020" stroke-width="1.2" />
<line x1="671.37" y1="266.00" x2="680.37" y2="266.00" stroke="#60e020" stroke-width="1.2" />
<line x1="671.37" y1="281.00" x2="680.37" y2="281.00" stroke="#60e020" stroke-width="1.2" />
<circle cx="597.23" cy="176.60" r="4.5" fill="#60e020"/>
<circle cx="607.06" cy="223.80" r="4.5" fill="#60e020"/>
<circle cx="616.89" cy="263.20" r="4.5" fill="#60e020"/>
<circle cx="626.72" cy="294.40" r="4.5" fill="#60e020"/>
<circle cx="636.55" cy="276.20" r="4.5" fill="#60e020"/>
<circle cx="646.38" cy="286.00" r="4.5" fill="#60e020"/>
<circle cx="656.21" cy="294.90" r="4.5" fill="#60e020"/>
<circle cx="666.04" cy="273.90" r="4.5" fill="#60e020"/>
<circle cx="675.87" cy="273.60" r="4.5" fill="#60e020"/>
<circle cx="685.70" cy="283.20" r="4.5" fill="#60e020"/>
<circle cx="695.53" cy="276.70" r="4.5" fill="#60e020"/>
<circle cx="705.36" cy="302.60" r="4.5" fill="#60e020"/>
<circle cx="715.19" cy="273.90" r="4.5" fill="#60e020"/>
<circle cx="725.02" cy="276.90" r="4.5" fill="#60e020"/>
<circle cx="734.85" cy="275.00" r="4.5" fill="#60e020"/>
<line x1="626.72" y1="252.00" x2="626.72" y2="279.00" stroke="#a050f0" stroke-width="1.2" />
<line x1="622.22" y1="252.00" x2="631.22" y2="252.00" stroke="#a050f0" stroke-width="1.2" />
<line x1="622.22" y1="279.00" x2="631.22" y2="279.00" stroke="#a050f0" stroke-width="1.2" />
<line x1="636.55" y1="252.90" x2="636.55" y2="307.40" stroke="#a050f0" stroke-width="1.2" />
<line x1="632.05" y1="252.90" x2="641.05" y2="252.90" stroke="#a050f0" stroke-width="1.2" />
<line x1="632.05" y1="307.40" x2="641.05" y2="307.40" stroke="#a050f0" stroke-width="1.2" />
<line x1="646.38" y1="254.00" x2="646.38" y2="278.60" stroke="#a050f0" stroke-width="1.2" />
<line x1="641.88" y1="254.00" x2="650.88" y2="254.00" stroke="#a050f0" stroke-width="1.2" />
<line x1="641.88" y1="278.60" x2="650.88" y2="278.60" stroke="#a050f0" stroke-width="1.2" />
<line x1="656.21" y1="256.80" x2="656.21" y2="286.30" stroke="#a050f0" stroke-width="1.2" />
<line x1="651.71" y1="256.80" x2="660.71" y2="256.80" stroke="#a050f0" stroke-width="1.2" />
<line x1="651.71" y1="286.30" x2="660.71" y2="286.30" stroke="#a050f0" stroke-width="1.2" />
<line x1="666.04" y1="259.90" x2="666.04" y2="285.60" stroke="#a050f0" stroke-width="1.2" />
<line x1="661.54" y1="259.90" x2="670.54" y2="259.90" stroke="#a050f0" stroke-width="1.2" />
<line x1="661.54" y1="285.60" x2="670.54" y2="285.60" stroke="#a050f0" stroke-width="1.2" />
<line x1="675.87" y1="265.70" x2="675.87" y2="284.40" stroke="#a050f0" stroke-width="1.2" />
<line x1="671.37" y1="265.70" x2="680.37" y2="265.70" stroke="#a050f0" stroke-width="1.2" />
<line x1="671.37" y1="284.40" x2="680.37" y2="284.40" stroke="#a050f0" stroke-width="1.2" />
<line x1="685.70" y1="269.20" x2="685.70" y2="282.00" stroke="#a050f0" stroke-width="1.2" />
<line x1="681.20" y1="269.20" x2="690.20" y2="269.20" stroke="#a050f0" stroke-width="1.2" />
<line x1="681.20" y1="282.00" x2="690.20" y2="282.00" stroke="#a050f0" stroke-width="1.2" />
<line x1="705.36" y1="283.90" x2="705.36" y2="301.20" stroke="#a050f0" stroke-width="1.2" />
<line x1="700.86" y1="283.90" x2="709.86" y2="283.90" stroke="#a050f0" stroke-width="1.2" />
<line x1="700.86" y1="301.20" x2="709.86" y2="301.20" stroke="#a050f0" stroke-width="1.2" />
<line x1="616.89" y1="250.00" x2="616.89" y2="280.00" stroke="#a050f0" stroke-width="1.2" />
<line x1="612.39" y1="250.00" x2="621.39" y2="250.00" stroke="#a050f0" stroke-width="1.2" />
<line x1="612.39" y1="280.00" x2="621.39" y2="280.00" stroke="#a050f0" stroke-width="1.2" />
<circle cx="597.23" cy="158.70" r="4.5" fill="#a050f0"/>
<circle cx="607.06" cy="207.80" r="4.5" fill="#a050f0"/>
<circle cx="616.89" cy="265.80" r="4.5" fill="#a050f0"/>
<circle cx="626.72" cy="265.80" r="4.5" fill="#a050f0"/>
<circle cx="636.55" cy="279.90" r="4.5" fill="#a050f0"/>
<circle cx="646.38" cy="266.20" r="4.5" fill="#a050f0"/>
<circle cx="656.21" cy="271.00" r="4.5" fill="#a050f0"/>
<circle cx="666.04" cy="271.00" r="4.5" fill="#a050f0"/>
<circle cx="675.87" cy="275.50" r="4.5" fill="#a050f0"/>
<circle cx="685.70" cy="275.50" r="4.5" fill="#a050f0"/>
<circle cx="695.53" cy="291.90" r="4.5" fill="#a050f0"/>
<circle cx="705.36" cy="292.60" r="4.5" fill="#a050f0"/>
<circle cx="715.19" cy="275.00" r="4.5" fill="#a050f0"/>
<circle cx="725.02" cy="301.20" r="4.5" fill="#a050f0"/>
<circle cx="734.85" cy="308.20" r="4.5" fill="#a050f0"/>
<circle cx="597.23" cy="119.50" r="4.5" fill="#ff8a14"/>
<circle cx="607.06" cy="127.80" r="4.5" fill="#ff8a14"/>
<circle cx="616.89" cy="135.00" r="4.5" fill="#ff8a14"/>
<circle cx="626.72" cy="141.60" r="4.5" fill="#ff8a14"/>
<circle cx="636.55" cy="150.10" r="4.5" fill="#ff8a14"/>
<circle cx="646.38" cy="155.80" r="4.5" fill="#ff8a14"/>
<circle cx="656.21" cy="163.50" r="4.5" fill="#ff8a14"/>
<circle cx="666.04" cy="170.20" r="4.5" fill="#ff8a14"/>
<circle cx="675.87" cy="176.70" r="4.5" fill="#ff8a14"/>
<circle cx="685.70" cy="186.00" r="4.5" fill="#ff8a14"/>
<circle cx="695.53" cy="182.80" r="4.5" fill="#ff8a14"/>
<circle cx="705.36" cy="192.70" r="4.5" fill="#ff8a14"/>
<circle cx="715.19" cy="200.50" r="4.5" fill="#ff8a14"/>
<circle cx="725.02" cy="202.70" r="4.5" fill="#ff8a14"/>
<circle cx="734.85" cy="204.50" r="4.5" fill="#ff8a14"/>
<circle cx="744.68" cy="206.70" r="4.5" fill="#ff8a14"/>
<circle cx="754.51" cy="231.00" r="4.5" fill="#ff8a14"/>
<circle cx="764.34" cy="218.60" r="4.5" fill="#ff8a14"/>
<circle cx="774.17" cy="216.70" r="4.5" fill="#ff8a14"/>
<circle cx="784.00" cy="224.20" r="4.5" fill="#ff8a14"/>
<circle cx="793.83" cy="218.50" r="4.5" fill="#ff8a14"/>
<circle cx="803.66" cy="224.50" r="4.5" fill="#ff8a14"/>
<circle cx="813.49" cy="239.20" r="4.5" fill="#ff8a14"/>
<circle cx="587.40" cy="110.20" r="4.5" fill="#a050f0"/>
</g>
<rect x="587.5" y="0.5" width="233.0" height="325.0" fill="none" stroke="#1a1a1a" stroke-width="1.2"/>
<line x1="575" y1="318.5" x2="587" y2="318.5" stroke="#1a1a1a" stroke-width="1.2"/>
<line x1="820" y1="318.5" x2="808" y2="318.5" stroke="#1a1a1a" stroke-width="1.2"/>
<line x1="581" y1="297.5" x2="587" y2="297.5" stroke="#1a1a1a" stroke-width="1.2"/>
<line x1="820" y1="297.5" x2="814" y2="297.5" stroke="#1a1a1a" stroke-width="1.2"/>
<line x1="581" y1="276.5" x2="587" y2="276.5" stroke="#1a1a1a" stroke-width="1.2"/>
<line x1="820" y1="276.5" x2="814" y2="276.5" stroke="#1a1a1a" stroke-width="1.2"/>
<line x1="581" y1="255.5" x2="587" y2="255.5" stroke="#1a1a1a" stroke-width="1.2"/>
<line x1="820" y1="255.5" x2="814" y2="255.5" stroke="#1a1a1a" stroke-width="1.2"/>
<line x1="581" y1="235.5" x2="587" y2="235.5" stroke="#1a1a1a" stroke-width="1.2"/>
<line x1="820" y1="235.5" x2="814" y2="235.5" stroke="#1a1a1a" stroke-width="1.2"/>
<line x1="575" y1="214.5" x2="587" y2="214.5" stroke="#1a1a1a" stroke-width="1.2"/>
<line x1="820" y1="214.5" x2="808" y2="214.5" stroke="#1a1a1a" stroke-width="1.2"/>
<line x1="581" y1="193.5" x2="587" y2="193.5" stroke="#1a1a1a" stroke-width="1.2"/>
<line x1="820" y1="193.5" x2="814" y2="193.5" stroke="#1a1a1a" stroke-width="1.2"/>
<line x1="581" y1="172.5" x2="587" y2="172.5" stroke="#1a1a1a" stroke-width="1.2"/>
<line x1="820" y1="172.5" x2="814" y2="172.5" stroke="#1a1a1a" stroke-width="1.2"/>
<line x1="581" y1="151.5" x2="587" y2="151.5" stroke="#1a1a1a" stroke-width="1.2"/>
<line x1="820" y1="151.5" x2="814" y2="151.5" stroke="#1a1a1a" stroke-width="1.2"/>
<line x1="581" y1="131.5" x2="587" y2="131.5" stroke="#1a1a1a" stroke-width="1.2"/>
<line x1="820" y1="131.5" x2="814" y2="131.5" stroke="#1a1a1a" stroke-width="1.2"/>
<line x1="575" y1="110.5" x2="587" y2="110.5" stroke="#1a1a1a" stroke-width="1.2"/>
<line x1="820" y1="110.5" x2="808" y2="110.5" stroke="#1a1a1a" stroke-width="1.2"/>
<line x1="587.5" y1="325" x2="587.5" y2="338" stroke="#1a1a1a" stroke-width="1.2"/>
<line x1="603.5" y1="325" x2="603.5" y2="331" stroke="#1a1a1a" stroke-width="1.2"/>
<line x1="603.5" y1="1" x2="603.5" y2="7" stroke="#1a1a1a" stroke-width="1.2"/>
<line x1="620.5" y1="325" x2="620.5" y2="331" stroke="#1a1a1a" stroke-width="1.2"/>
<line x1="620.5" y1="1" x2="620.5" y2="7" stroke="#1a1a1a" stroke-width="1.2"/>
<line x1="636.5" y1="325" x2="636.5" y2="331" stroke="#1a1a1a" stroke-width="1.2"/>
<line x1="636.5" y1="1" x2="636.5" y2="7" stroke="#1a1a1a" stroke-width="1.2"/>
<line x1="652.5" y1="325" x2="652.5" y2="331" stroke="#1a1a1a" stroke-width="1.2"/>
<line x1="652.5" y1="1" x2="652.5" y2="7" stroke="#1a1a1a" stroke-width="1.2"/>
<line x1="669.5" y1="325" x2="669.5" y2="331" stroke="#1a1a1a" stroke-width="1.2"/>
<line x1="669.5" y1="1" x2="669.5" y2="7" stroke="#1a1a1a" stroke-width="1.2"/>
<line x1="685.5" y1="325" x2="685.5" y2="331" stroke="#1a1a1a" stroke-width="1.2"/>
<line x1="685.5" y1="1" x2="685.5" y2="7" stroke="#1a1a1a" stroke-width="1.2"/>
<line x1="701.5" y1="325" x2="701.5" y2="331" stroke="#1a1a1a" stroke-width="1.2"/>
<line x1="701.5" y1="1" x2="701.5" y2="7" stroke="#1a1a1a" stroke-width="1.2"/>
<line x1="718.5" y1="325" x2="718.5" y2="331" stroke="#1a1a1a" stroke-width="1.2"/>
<line x1="718.5" y1="1" x2="718.5" y2="7" stroke="#1a1a1a" stroke-width="1.2"/>
<line x1="734.5" y1="325" x2="734.5" y2="331" stroke="#1a1a1a" stroke-width="1.2"/>
<line x1="734.5" y1="1" x2="734.5" y2="7" stroke="#1a1a1a" stroke-width="1.2"/>
<line x1="750.5" y1="325" x2="750.5" y2="338" stroke="#1a1a1a" stroke-width="1.2"/>
<line x1="750.5" y1="1" x2="750.5" y2="14" stroke="#1a1a1a" stroke-width="1.2"/>
<line x1="767.5" y1="325" x2="767.5" y2="331" stroke="#1a1a1a" stroke-width="1.2"/>
<line x1="767.5" y1="1" x2="767.5" y2="7" stroke="#1a1a1a" stroke-width="1.2"/>
<line x1="783.5" y1="325" x2="783.5" y2="331" stroke="#1a1a1a" stroke-width="1.2"/>
<line x1="783.5" y1="1" x2="783.5" y2="7" stroke="#1a1a1a" stroke-width="1.2"/>
<line x1="799.5" y1="325" x2="799.5" y2="331" stroke="#1a1a1a" stroke-width="1.2"/>
<line x1="799.5" y1="1" x2="799.5" y2="7" stroke="#1a1a1a" stroke-width="1.2"/>
<line x1="816.5" y1="325" x2="816.5" y2="331" stroke="#1a1a1a" stroke-width="1.2"/>
<line x1="816.5" y1="1" x2="816.5" y2="7" stroke="#1a1a1a" stroke-width="1.2"/>
<text x="771.02" y="198.95" font-family="Liberation Sans" font-size="16.91" textLength="17.53" lengthAdjust="spacingAndGlyphs" fill="#111" >(i)</text>
<text x="755.02" y="247.64" font-family="Liberation Sans" font-size="17.45" textLength="21.76" lengthAdjust="spacingAndGlyphs" fill="#111" >(ii)</text>
<text x="637.14" y="215.24" font-family="Liberation Sans" font-size="17.45" textLength="25.77" lengthAdjust="spacingAndGlyphs" fill="#111" >(iii)</text>
<text x="612.87" y="248.06" font-family="Liberation Sans" font-size="17.34" textLength="26.24" lengthAdjust="spacingAndGlyphs" fill="#111" >(iv)</text>
<text x="599.36" y="294.22" font-family="Liberation Sans" font-size="17.98" textLength="22.20" lengthAdjust="spacingAndGlyphs" fill="#111" >(v)</text>
<rect x="643.5" y="12.5" width="154.0" height="126.0" fill="#fff" stroke="#555" stroke-width="1.1"/>
<line x1="643.30" y1="41.70" x2="797.20" y2="41.70" stroke="#888" stroke-width="1" stroke-dasharray="1,3"/>
<line x1="643.30" y1="80.90" x2="797.20" y2="80.90" stroke="#888" stroke-width="1" stroke-dasharray="1,3"/>
<line x1="643.30" y1="120.10" x2="797.20" y2="120.10" stroke="#888" stroke-width="1" stroke-dasharray="1,3"/>
<line x1="685.40" y1="12.90" x2="685.40" y2="138.30" stroke="#888" stroke-width="1" stroke-dasharray="1,3"/>
<line x1="741.40" y1="12.90" x2="741.40" y2="138.30" stroke="#888" stroke-width="1" stroke-dasharray="1,3"/>
<line x1="639" y1="22.5" x2="643" y2="22.5" stroke="#555" stroke-width="1.1"/>
<line x1="797" y1="22.5" x2="793" y2="22.5" stroke="#555" stroke-width="1.1"/>
<line x1="635" y1="41.5" x2="643" y2="41.5" stroke="#555" stroke-width="1.1"/>
<line x1="797" y1="41.5" x2="789" y2="41.5" stroke="#555" stroke-width="1.1"/>
<line x1="639" y1="61.5" x2="643" y2="61.5" stroke="#555" stroke-width="1.1"/>
<line x1="797" y1="61.5" x2="793" y2="61.5" stroke="#555" stroke-width="1.1"/>
<line x1="635" y1="80.5" x2="643" y2="80.5" stroke="#555" stroke-width="1.1"/>
<line x1="797" y1="80.5" x2="789" y2="80.5" stroke="#555" stroke-width="1.1"/>
<line x1="639" y1="100.5" x2="643" y2="100.5" stroke="#555" stroke-width="1.1"/>
<line x1="797" y1="100.5" x2="793" y2="100.5" stroke="#555" stroke-width="1.1"/>
<line x1="635" y1="120.5" x2="643" y2="120.5" stroke="#555" stroke-width="1.1"/>
<line x1="797" y1="120.5" x2="789" y2="120.5" stroke="#555" stroke-width="1.1"/>
<line x1="657.5" y1="138" x2="657.5" y2="143" stroke="#555" stroke-width="1.1"/>
<line x1="657.5" y1="13" x2="657.5" y2="17" stroke="#555" stroke-width="1.1"/>
<line x1="685.5" y1="138" x2="685.5" y2="146" stroke="#555" stroke-width="1.1"/>
<line x1="685.5" y1="13" x2="685.5" y2="21" stroke="#555" stroke-width="1.1"/>
<line x1="713.5" y1="138" x2="713.5" y2="143" stroke="#555" stroke-width="1.1"/>
<line x1="713.5" y1="13" x2="713.5" y2="17" stroke="#555" stroke-width="1.1"/>
<line x1="741.5" y1="138" x2="741.5" y2="146" stroke="#555" stroke-width="1.1"/>
<line x1="741.5" y1="13" x2="741.5" y2="21" stroke="#555" stroke-width="1.1"/>
<line x1="769.5" y1="138" x2="769.5" y2="143" stroke="#555" stroke-width="1.1"/>
<line x1="769.5" y1="13" x2="769.5" y2="17" stroke="#555" stroke-width="1.1"/>
<line x1="797.5" y1="138" x2="797.5" y2="146" stroke="#555" stroke-width="1.1"/>
<line x1="797.5" y1="13" x2="797.5" y2="21" stroke="#555" stroke-width="1.1"/>
<text x="631.40" y="45.70" font-family="Liberation Sans" font-size="12" text-anchor="end" fill="#111" >−8</text>
<text x="631.40" y="84.90" font-family="Liberation Sans" font-size="12" text-anchor="end" fill="#111" >−10</text>
<text x="631.40" y="124.10" font-family="Liberation Sans" font-size="12" text-anchor="end" fill="#111" >−12</text>
<text x="683.30" y="158.20" font-family="Liberation Sans" font-size="11.5" text-anchor="middle" fill="#111" >0.0030</text>
<text x="739.50" y="158.20" font-family="Liberation Sans" font-size="11.5" text-anchor="middle" fill="#111" >0.0032</text>
<text x="793.00" y="158.20" font-family="Liberation Sans" font-size="11.5" text-anchor="middle" fill="#111" >0.0034</text>
<text x="697.38" y="173.10" font-family="Liberation Sans" font-size="11.50" textLength="45.18" lengthAdjust="spacingAndGlyphs" fill="#111" >1/T (K <tspan font-size="0.7em" dy="-0.39em">-1</tspan><tspan dy="0.27em">)</tspan></text>
<text transform="translate(604.10,89.40) rotate(-90)" x="-0.90" y="0" font-family="Liberation Sans" font-size="11.50" textLength="25.55" lengthAdjust="spacingAndGlyphs" fill="#111" >Ln(k)</text>
<line x1="661.50" y1="26.20" x2="784.80" y2="123.40" stroke="#222" stroke-width="1.1" stroke-dasharray="9,6"/>
<circle cx="661.50" cy="26.20" r="3.1" fill="#111"/>
<circle cx="673.70" cy="23.00" r="3.1" fill="#111"/>
<circle cx="686.50" cy="47.40" r="3.1" fill="#111"/>
<circle cx="698.60" cy="60.60" r="3.1" fill="#111"/>
<circle cx="712.20" cy="65.70" r="3.1" fill="#111"/>
<circle cx="784.80" cy="123.40" r="3.1" fill="#111"/>
<rect x="644" y="100.5" width="106.5" height="37.2" fill="#fff"/>
<text x="653.61" y="117.60" font-family="Liberation Sans" font-size="11.20" textLength="4.94" lengthAdjust="spacingAndGlyphs" fill="#111" >E</text>
<text x="661.62" y="120.50" font-family="Liberation Sans" font-size="9.00" textLength="3.96" lengthAdjust="spacingAndGlyphs" fill="#111" >a</text>
<text x="669.14" y="117.50" font-family="Liberation Sans" font-size="11.00" textLength="63.54" lengthAdjust="spacingAndGlyphs" fill="#111" >= 96.3 (±8.0)</text>
<text x="681.98" y="131.60" font-family="Liberation Sans" font-size="11.00" textLength="31.06" lengthAdjust="spacingAndGlyphs" fill="#111" >kJ/mo</text>
<text x="723.80" y="131.60" font-family="Liberation Sans" font-size="11" text-anchor="start" fill="#111" >l</text>
<path d="M93.80,24.50 L93.80,39.20" fill="none" stroke="#1a1a1a" stroke-width="1.3" stroke-linecap="round" stroke-linejoin="round"/>
<path d="M77.30,48.70 L93.80,39.20 L109.80,48.70" fill="none" stroke="#1a1a1a" stroke-width="1.3" stroke-linecap="round" stroke-linejoin="round"/>
<path d="M93.80,39.20 L110.20,29.50 L126.00,38.80" fill="none" stroke="#1a1a1a" stroke-width="1.3" stroke-linecap="round" stroke-linejoin="round"/>
<text x="94.70" y="24.10" font-family="Liberation Sans" font-size="8.5" text-anchor="middle" fill="#111" >Br</text>
<line x1="135.80" y1="33.40" x2="164.00" y2="33.40" stroke="#111" stroke-width="1.8" />
<path d="M163.2,30 L170.2,33.4 L163.2,36.8 Z" fill="#111"/>
<text x="135.71" y="26.60" font-family="Liberation Sans" font-size="10.00" textLength="26.91" lengthAdjust="spacingAndGlyphs" fill="#111" >BuOH</text>
<path d="M147,47.3 L150.9,38.7 L154.8,47.3 Z" fill="none" stroke="#1a1a1a" stroke-width="1.05" stroke-linejoin="miter"/>
<path d="M189.80,28.20 L189.80,40.10" fill="none" stroke="#1a1a1a" stroke-width="1.3" stroke-linecap="round" stroke-linejoin="round"/>
<path d="M175.80,48.30 L189.80,40.10 L204.40,48.30" fill="none" stroke="#1a1a1a" stroke-width="1.3" stroke-linecap="round" stroke-linejoin="round"/>
<path d="M189.80,40.10 L204.40,32.10 L218.60,40.50" fill="none" stroke="#1a1a1a" stroke-width="1.3" stroke-linecap="round" stroke-linejoin="round"/>
<path d="M193.30,20.40 L204.40,15.20 L218.60,23.00 L233.60,15.20 L247.90,23.20" fill="none" stroke="#1a1a1a" stroke-width="1.3" stroke-linecap="round" stroke-linejoin="round"/>
<text x="189.60" y="26.80" font-family="Liberation Sans" font-size="8.6" text-anchor="middle" fill="#111" >O</text>
<text x="225.48" y="39.60" font-family="Liberation Sans" font-size="8.80" textLength="16.47" lengthAdjust="spacingAndGlyphs" fill="#111" >+Br</text>
<path d="M73.4,41.2 C73.5,52 76,58 83,58 L211,58 C217,58 220,63 220.3,74.7 C220.6,63 223.5,58.4 229,58.4 L236,58.4 C242,58.4 244.4,52 244.6,41.2" fill="none" stroke="#1a1a1a" stroke-width="1.2"/>
<text x="73.40" y="81.60" font-family="Liberation Sans" font-size="11.00" textLength="86.92" lengthAdjust="spacingAndGlyphs" fill="#111" >Reaction Aliquots</text>
<path d="M72.2,89.6 L78.0,93.3 L78.0,160.4 L72.2,154.2 Z" fill="#ededed" stroke="#adadad" stroke-width="0.9"/>
<rect x="78.0" y="93.3" width="17.4" height="67.1" fill="#f6f6f6" stroke="#adadad" stroke-width="0.9"/>
<path d="M72.2,89.6 L89.2,88.3 L95.4,92.9 L78.0,93.3 Z" fill="#f4f4f4" stroke="#a5a5a5" stroke-width="0.9"/>
<path d="M78.5,112.8 Q83.0,111.8 87.0,111 Q91.0,111.5 94.9,112.2 L94.9,159.8 L78.5,159.8 Z" fill="#80ee48"/>
<path d="M72.7,110 L77.6,112.8 L77.6,159.5 L72.7,153.8 Z" fill="#74dc3e"/>
<line x1="94.80000000000001" y1="93.5" x2="94.80000000000001" y2="160" stroke="#bdbdbd" stroke-width="1"/>
<line x1="80.5" y1="96" x2="80.5" y2="158" stroke="#ffffff" stroke-width="0.8" opacity="0.5"/>
<path d="M78.0,160.4 L95.4,160 L95.4,159 L78.0,159.3 Z" fill="#c9c9c9" opacity="0.8"/>
<path d="M106.4,89.6 L112.2,93.3 L112.2,160.4 L106.4,154.2 Z" fill="#ededed" stroke="#adadad" stroke-width="0.9"/>
<rect x="112.2" y="93.3" width="17.4" height="67.1" fill="#f6f6f6" stroke="#adadad" stroke-width="0.9"/>
<path d="M106.4,89.6 L123.4,88.3 L129.6,92.9 L112.2,93.3 Z" fill="#f4f4f4" stroke="#a5a5a5" stroke-width="0.9"/>
<path d="M112.7,112.8 Q117.2,111.8 121.2,111 Q125.2,111.5 129.1,112.2 L129.1,159.8 L112.7,159.8 Z" fill="#f5a85e"/>
<path d="M106.9,110 L111.8,112.8 L111.8,159.5 L106.9,153.8 Z" fill="#e69a50"/>
<line x1="129.0" y1="93.5" x2="129.0" y2="160" stroke="#bdbdbd" stroke-width="1"/>
<line x1="114.7" y1="96" x2="114.7" y2="158" stroke="#ffffff" stroke-width="0.8" opacity="0.5"/>
<path d="M112.2,160.4 L129.6,160 L129.6,159 L112.2,159.3 Z" fill="#c9c9c9" opacity="0.8"/>
<path d="M140.0,89.6 L145.8,93.3 L145.8,160.4 L140.0,154.2 Z" fill="#ededed" stroke="#adadad" stroke-width="0.9"/>
<rect x="145.8" y="93.3" width="17.4" height="67.1" fill="#f6f6f6" stroke="#adadad" stroke-width="0.9"/>
<path d="M140.0,89.6 L157.0,88.3 L163.2,92.9 L145.8,93.3 Z" fill="#f4f4f4" stroke="#a5a5a5" stroke-width="0.9"/>
<path d="M146.3,112.8 Q150.8,111.8 154.8,111 Q158.8,111.5 162.7,112.2 L162.7,159.8 L146.3,159.8 Z" fill="#ee7ef0"/>
<path d="M140.5,110 L145.4,112.8 L145.4,159.5 L140.5,153.8 Z" fill="#dc6ede"/>
<line x1="162.6" y1="93.5" x2="162.6" y2="160" stroke="#bdbdbd" stroke-width="1"/>
<line x1="148.3" y1="96" x2="148.3" y2="158" stroke="#ffffff" stroke-width="0.8" opacity="0.5"/>
<path d="M145.8,160.4 L163.2,160 L163.2,159 L145.8,159.3 Z" fill="#c9c9c9" opacity="0.8"/>
<text x="83.0" y="150.4" font-family="Liberation Sans" font-size="11.5" font-weight="bold" fill="#111">t<tspan font-size="8.5" dy="2.5">3</tspan></text>
<text x="117.2" y="150.4" font-family="Liberation Sans" font-size="11.5" font-weight="bold" fill="#111">t<tspan font-size="8.5" dy="2.5">2</tspan></text>
<text x="150.6" y="150.4" font-family="Liberation Sans" font-size="11.5" font-weight="bold" fill="#111">t<tspan font-size="8.5" dy="2.5">1</tspan></text>
<path d="M70.1,162.4 C70.2,166 71.5,167.7 75,167.7 L117,167.7 C121,167.7 123,169.5 123.2,173.7 C123.4,169.5 125.5,167.7 129.5,167.7 L164,167.7 C167.5,167.7 169,166 169.1,162.4" fill="none" stroke="#1a1a1a" stroke-width="1.2"/>
<text x="82.16" y="183.80" font-family="Liberation Sans" font-size="10.80" textLength="75.19" lengthAdjust="spacingAndGlyphs" fill="#111" >+ CsPbI<tspan font-size="0.69em" dy="0.24em">3</tspan><tspan dy="-0.166em"> Assay</tspan></text>
<path d="M210.8,74.5 C206,68.5 196,67.5 188,71 C181,74 176,80 172.3,90.5" fill="none" stroke="#111" stroke-width="2.4"/>
<path d="M167,99.6 L167,88.4 L176.8,93.3 Z" fill="#111"/>
<g transform="translate(193.7,94.6) rotate(20)"><rect x="-3" y="-16.2" width="6" height="2.2" rx="1" fill="#dfe3e3" stroke="#a7adad" stroke-width="0.7"/><rect x="-1" y="-14" width="2" height="7.5" fill="#e3e6e6" stroke="#a7adad" stroke-width="0.6"/><rect x="-3.8" y="-7" width="7.6" height="1.8" rx="0.8" fill="#dfe3e3" stroke="#a7adad" stroke-width="0.6"/><rect x="-2.6" y="-5.2" width="5.2" height="16" fill="#eef0f0" stroke="#9aa1a1" stroke-width="0.7"/><rect x="-2.3" y="3.2" width="4.6" height="7.1" fill="#b4e3e5"/><rect x="-2.6" y="1.8" width="5.2" height="1.5" fill="#5d6363"/><path d="M-1.6,10.8 L1.6,10.8 L0.9,15 L-0.9,15 Z" fill="#6fd36a"/><line x1="0" y1="15" x2="0" y2="27" stroke="#a9b2b2" stroke-width="0.8"/></g>
<defs><radialGradient id="fg" cx="0.42" cy="0.42" r="0.62"><stop offset="0" stop-color="#eceeee"/><stop offset="0.72" stop-color="#d9dddd"/><stop offset="1" stop-color="#b0b8b8"/></radialGradient></defs>
<path d="M213,80.7 L213,109 Q213,115.2 206.1,118.1 A24.7,24.7 0 1 0 234.3,118.1 Q227.8,115.2 227.8,109 L227.8,80.7 Z" fill="url(#fg)" stroke="#949d9d" stroke-width="1.5"/>
<rect x="213.5" y="80.7" width="13.8" height="20.7" fill="#e2eff1"/>
<line x1="213.5" y1="101.4" x2="227.3" y2="101.4" stroke="#c3cbcc" stroke-width="0.8"/>
<rect x="211.2" y="76.6" width="19.2" height="4.1" rx="1.2" fill="#dbe9ec" stroke="#8f9797" stroke-width="0.9"/>
<ellipse cx="220.2" cy="155.3" rx="14.5" ry="5.2" fill="#eceeee" opacity="0.75"/>
<text x="208.60" y="144.00" font-family="Liberation Serif" font-size="14.00" textLength="23.06" lengthAdjust="spacingAndGlyphs" fill="#111" font-style="italic">Rxn</text>
<text x="76.30" y="232.60" font-family="Liberation Sans" font-size="10.80" textLength="61.86" lengthAdjust="spacingAndGlyphs" fill="#111" >Aliquot/Time</text>
<line x1="88.00" y1="242.20" x2="133.40" y2="242.20" stroke="#111" stroke-width="1.7" />
<path d="M81.4,242.2 L89.5,238.6 L87.8,242.2 L89.5,245.8 Z" fill="#111"/>
</svg></body></html>
